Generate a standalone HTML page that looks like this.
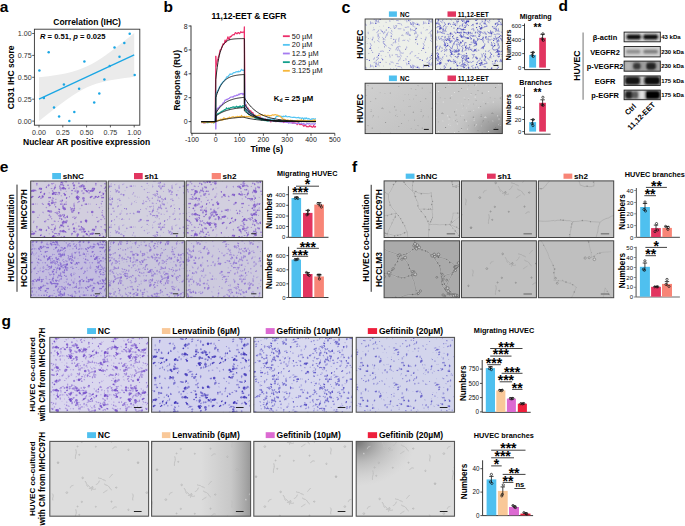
<!DOCTYPE html>
<html><head><meta charset="utf-8"><title>Figure</title>
<style>html,body{margin:0;padding:0;background:#fff;}svg{display:block;}text{font-family:"Liberation Sans",sans-serif;}</style>
</head><body>
<svg width="685" height="526" viewBox="0 0 685 526" font-family='"Liberation Sans", sans-serif'><defs><filter id="soft" x="0" y="0" width="1" height="1"><feGaussianBlur stdDeviation="0.45"/></filter><filter id="soft2" x="0" y="0" width="1" height="1"><feGaussianBlur stdDeviation="0.3"/></filter><g id="gD"><circle cx="0.1" cy="17.37" r="0.77" opacity=".5"/><circle cx="47.1" cy="17.37" r="0.77" opacity=".5"/><circle cx="1.44" cy="0.99" r="0.69" opacity=".9"/><circle cx="1.6" cy="1.76" r="0.42" opacity=".9"/><circle cx="36.51" cy="28.39" r="0.61" opacity=".7"/><circle cx="43.55" cy="16.23" r="0.86" opacity=".9"/><circle cx="42.73" cy="15.37" r="0.59" opacity=".9"/><circle cx="42.09" cy="37.96" r="0.68" opacity=".9"/><circle cx="42.64" cy="37.61" r="0.46" opacity=".9"/><circle cx="23.47" cy="36.7" r="0.63" opacity=".8"/><circle cx="23.44" cy="35.99" r="0.5" opacity=".8"/><circle cx="40.6" cy="8.8" r="0.49" opacity=".7"/><circle cx="40.98" cy="9.42" r="0.35" opacity=".7"/><circle cx="22.06" cy="12.03" r="0.83" opacity=".7"/><circle cx="21.59" cy="11.41" r="0.56" opacity=".7"/><circle cx="26.28" cy="7.5" r="0.55" opacity=".6"/><circle cx="21.58" cy="10.5" r="0.7" opacity=".9"/><circle cx="21.79" cy="9.51" r="0.6" opacity=".9"/><circle cx="38.03" cy="20.23" r="0.7" opacity=".6"/><circle cx="38.63" cy="19.59" r="0.46" opacity=".6"/><circle cx="22.79" cy="13.91" r="0.61" opacity=".6"/><circle cx="22.25" cy="13.46" r="0.37" opacity=".6"/><circle cx="32.9" cy="8.96" r="0.49" opacity=".7"/><circle cx="1.53" cy="36.8" r="0.48" opacity=".8"/><circle cx="1.54" cy="36.31" r="0.33" opacity=".8"/><circle cx="8.68" cy="11.32" r="0.53" opacity=".5"/><circle cx="30.47" cy="11.49" r="0.77" opacity=".6"/><circle cx="30.15" cy="12.25" r="0.64" opacity=".6"/><circle cx="28.11" cy="14.01" r="0.54" opacity=".7"/><circle cx="5.24" cy="33.86" r="0.88" opacity=".6"/><circle cx="4.09" cy="34.43" r="0.79" opacity=".6"/><circle cx="32.67" cy="17.58" r="0.69" opacity=".4"/><circle cx="32.97" cy="16.72" r="0.5" opacity=".4"/><circle cx="5.91" cy="8.27" r="0.47" opacity=".4"/><circle cx="6.33" cy="8.03" r="0.31" opacity=".4"/><circle cx="6.13" cy="21.87" r="0.83" opacity=".7"/><circle cx="6.92" cy="21.3" r="0.71" opacity=".7"/><circle cx="36.66" cy="24.3" r="0.47" opacity=".5"/><circle cx="36.03" cy="23.98" r="0.36" opacity=".5"/><circle cx="44.08" cy="15.21" r="0.68" opacity=".4"/><circle cx="43.52" cy="15.61" r="0.44" opacity=".4"/><circle cx="38.12" cy="21.97" r="0.51" opacity=".6"/><circle cx="38.59" cy="22.29" r="0.39" opacity=".6"/><circle cx="39.37" cy="20.84" r="0.8" opacity=".6"/><circle cx="40.07" cy="21.02" r="0.52" opacity=".6"/><circle cx="12.6" cy="12.96" r="0.68" opacity=".5"/><circle cx="13.1" cy="13.4" r="0.6" opacity=".5"/><circle cx="33.61" cy="19.06" r="0.71" opacity=".8"/><circle cx="32.96" cy="19.5" r="0.64" opacity=".8"/><circle cx="32.16" cy="15.76" r="0.8" opacity=".6"/><circle cx="32.28" cy="16.45" r="0.55" opacity=".6"/><circle cx="26.53" cy="36.08" r="0.66" opacity=".5"/><circle cx="0.58" cy="26.15" r="0.49" opacity=".4"/><circle cx="37.37" cy="3.46" r="0.52" opacity=".6"/><circle cx="37.79" cy="4.11" r="0.38" opacity=".6"/><circle cx="37.9" cy="21.17" r="0.82" opacity=".7"/><circle cx="35.08" cy="8.79" r="0.45" opacity=".9"/><circle cx="34.64" cy="8.49" r="0.32" opacity=".9"/><circle cx="36.28" cy="15.04" r="0.5" opacity=".5"/><circle cx="36.89" cy="14.96" r="0.4" opacity=".5"/><circle cx="12.18" cy="21.12" r="0.59" opacity=".5"/><circle cx="12" cy="22.04" r="0.43" opacity=".5"/><circle cx="30.24" cy="36.69" r="0.63" opacity=".5"/><circle cx="29.87" cy="37.53" r="0.54" opacity=".5"/><circle cx="28.82" cy="21.6" r="0.81" opacity=".4"/><circle cx="29.15" cy="20.75" r="0.55" opacity=".4"/><circle cx="34.27" cy="0.84" r="0.45" opacity=".8"/><circle cx="33.61" cy="0.97" r="0.29" opacity=".8"/><circle cx="15.42" cy="19.86" r="0.75" opacity=".4"/><circle cx="16.12" cy="20.73" r="0.52" opacity=".4"/><circle cx="39.23" cy="23.47" r="0.51" opacity=".5"/><circle cx="39.11" cy="22.76" r="0.43" opacity=".5"/><circle cx="31.59" cy="21.57" r="0.87" opacity=".9"/><circle cx="31.27" cy="22.59" r="0.54" opacity=".9"/><circle cx="11.62" cy="30.33" r="0.76" opacity=".6"/><circle cx="11.62" cy="31.2" r="0.58" opacity=".6"/><circle cx="26.02" cy="22.61" r="0.81" opacity=".9"/><circle cx="37.61" cy="19.03" r="0.51" opacity=".5"/><circle cx="31.64" cy="32.67" r="0.67" opacity=".4"/><circle cx="32.44" cy="32.03" r="0.59" opacity=".4"/><circle cx="10.61" cy="12.21" r="0.76" opacity=".9"/><circle cx="13.73" cy="33.94" r="0.57" opacity=".7"/><circle cx="14.35" cy="34.24" r="0.5" opacity=".7"/><circle cx="32.99" cy="17.06" r="0.83" opacity=".6"/><circle cx="27.95" cy="33.39" r="0.85" opacity=".9"/><circle cx="28.33" cy="34.16" r="0.57" opacity=".9"/><circle cx="35.61" cy="2.03" r="0.76" opacity=".7"/><circle cx="34.91" cy="1.97" r="0.62" opacity=".7"/><circle cx="8.82" cy="26.48" r="0.57" opacity=".9"/><circle cx="8.42" cy="33.96" r="0.77" opacity=".6"/><circle cx="17.97" cy="31.31" r="0.64" opacity=".4"/><circle cx="18.66" cy="32.01" r="0.57" opacity=".4"/><circle cx="40.71" cy="37.78" r="0.75" opacity=".5"/><circle cx="39.62" cy="37.35" r="0.57" opacity=".5"/><circle cx="1.45" cy="37.95" r="0.56" opacity=".5"/><circle cx="1.77" cy="38.38" r="0.39" opacity=".5"/><circle cx="39.12" cy="17.41" r="0.84" opacity=".8"/><circle cx="38.53" cy="18.15" r="0.53" opacity=".8"/><circle cx="33.18" cy="0.52" r="0.86" opacity=".4"/><circle cx="33.18" cy="39.52" r="0.86" opacity=".4"/><circle cx="34.06" cy="0.59" r="0.69" opacity=".4"/><circle cx="34.06" cy="39.59" r="0.69" opacity=".4"/><circle cx="30.52" cy="2.93" r="0.62" opacity=".8"/><circle cx="30.14" cy="2.15" r="0.43" opacity=".8"/><circle cx="35.23" cy="18.21" r="0.63" opacity=".8"/><circle cx="34.4" cy="18.25" r="0.45" opacity=".8"/><circle cx="13.42" cy="32.82" r="0.78" opacity=".8"/><circle cx="25.76" cy="27.19" r="0.87" opacity=".7"/><circle cx="21.12" cy="26.08" r="0.54" opacity=".6"/><circle cx="20.38" cy="25.68" r="0.38" opacity=".6"/><circle cx="45.8" cy="27.28" r="0.89" opacity=".4"/><circle cx="39.02" cy="17.87" r="0.77" opacity=".4"/><circle cx="28.14" cy="10.5" r="0.82" opacity=".7"/><circle cx="28.04" cy="11.62" r="0.7" opacity=".7"/><circle cx="7.15" cy="32.49" r="0.67" opacity=".6"/><circle cx="6.22" cy="32.43" r="0.49" opacity=".6"/><circle cx="36.48" cy="17.94" r="0.77" opacity=".4"/><circle cx="35.96" cy="17.34" r="0.53" opacity=".4"/><circle cx="11.15" cy="13.02" r="0.48" opacity=".7"/><circle cx="21.99" cy="21.75" r="0.47" opacity=".5"/><circle cx="26.14" cy="13.88" r="0.78" opacity=".6"/><circle cx="25.36" cy="13.96" r="0.61" opacity=".6"/><circle cx="12.16" cy="23.79" r="0.56" opacity=".7"/><circle cx="18.92" cy="36.19" r="0.87" opacity=".5"/><circle cx="20" cy="36.72" r="0.75" opacity=".5"/><circle cx="27.33" cy="36.38" r="0.52" opacity=".9"/><circle cx="27.71" cy="37.01" r="0.45" opacity=".9"/><circle cx="14.56" cy="15.63" r="0.5" opacity=".5"/><circle cx="15.01" cy="15.83" r="0.35" opacity=".5"/><circle cx="44.9" cy="1.75" r="0.81" opacity=".4"/><circle cx="23.24" cy="20.61" r="0.78" opacity=".8"/><circle cx="22.83" cy="19.94" r="0.61" opacity=".8"/><circle cx="31.18" cy="13.39" r="0.62" opacity=".4"/><circle cx="31.48" cy="12.74" r="0.48" opacity=".4"/><circle cx="38.99" cy="22.73" r="0.5" opacity=".5"/><circle cx="39.39" cy="22.77" r="0.37" opacity=".5"/><circle cx="39.85" cy="11.2" r="0.54" opacity=".4"/><circle cx="37.31" cy="1.19" r="0.62" opacity=".8"/><circle cx="36.73" cy="0.94" r="0.39" opacity=".8"/><circle cx="14.26" cy="0.56" r="0.69" opacity=".6"/><circle cx="14.26" cy="39.56" r="0.69" opacity=".6"/><circle cx="15.16" cy="0.16" r="0.5" opacity=".6"/><circle cx="15.16" cy="39.16" r="0.5" opacity=".6"/><circle cx="25.26" cy="24.48" r="0.76" opacity=".8"/><circle cx="24.5" cy="25.11" r="0.68" opacity=".8"/><circle cx="11.43" cy="2.35" r="0.87" opacity=".7"/><circle cx="10.57" cy="1.68" r="0.66" opacity=".7"/><circle cx="17.34" cy="15.72" r="0.77" opacity=".6"/><circle cx="22.95" cy="9.55" r="0.79" opacity=".5"/><circle cx="41.87" cy="2.21" r="0.47" opacity=".4"/><circle cx="17.4" cy="38.4" r="0.47" opacity=".6"/><circle cx="17.76" cy="-0.22" r="0.38" opacity=".6"/><circle cx="17.76" cy="38.78" r="0.38" opacity=".6"/><circle cx="1.16" cy="20.46" r="0.49" opacity=".8"/><circle cx="1.69" cy="20.57" r="0.4" opacity=".8"/><circle cx="35.58" cy="14.83" r="0.5" opacity=".7"/><circle cx="35.91" cy="14.32" r="0.33" opacity=".7"/><circle cx="23.94" cy="15.25" r="0.85" opacity=".6"/><circle cx="24.35" cy="14.3" r="0.65" opacity=".6"/><circle cx="27.32" cy="20.28" r="0.46" opacity=".9"/><circle cx="9.4" cy="15.18" r="0.6" opacity=".6"/><circle cx="9.97" cy="15.43" r="0.5" opacity=".6"/><circle cx="19.63" cy="12.43" r="0.57" opacity=".8"/><circle cx="20.14" cy="12.46" r="0.4" opacity=".8"/><circle cx="36.88" cy="22.35" r="0.65" opacity=".5"/><circle cx="36.28" cy="23.04" r="0.47" opacity=".5"/><circle cx="3.67" cy="22.58" r="0.48" opacity=".4"/><circle cx="3.96" cy="22.2" r="0.32" opacity=".4"/><circle cx="15.92" cy="-0.37" r="0.81" opacity=".6"/><circle cx="15.92" cy="38.63" r="0.81" opacity=".6"/><circle cx="15.21" cy="38.13" r="0.61" opacity=".6"/><circle cx="20.81" cy="11.59" r="0.86" opacity=".5"/><circle cx="20.71" cy="10.88" r="0.54" opacity=".5"/><circle cx="12.49" cy="4.17" r="0.57" opacity=".7"/><circle cx="12.92" cy="4.4" r="0.49" opacity=".7"/><circle cx="8.15" cy="33.61" r="0.46" opacity=".6"/><circle cx="13.34" cy="34.76" r="0.72" opacity=".8"/><circle cx="31.75" cy="21.23" r="0.88" opacity=".8"/><circle cx="-0.09" cy="10.01" r="0.54" opacity=".8"/><circle cx="46.91" cy="10.01" r="0.54" opacity=".8"/><circle cx="22.89" cy="15.75" r="0.85" opacity=".8"/><circle cx="24.11" cy="16.06" r="0.62" opacity=".8"/><circle cx="20.9" cy="10.77" r="0.69" opacity=".8"/><circle cx="21.63" cy="10.74" r="0.58" opacity=".8"/><circle cx="-0.29" cy="11.02" r="0.64" opacity=".9"/><circle cx="46.71" cy="11.02" r="0.64" opacity=".9"/><circle cx="28.33" cy="22.66" r="0.65" opacity=".4"/><circle cx="28.92" cy="23.38" r="0.58" opacity=".4"/><circle cx="14.47" cy="32.77" r="0.7" opacity=".6"/><circle cx="15.46" cy="32.35" r="0.56" opacity=".6"/><circle cx="43.48" cy="33.01" r="0.62" opacity=".6"/><circle cx="44.41" cy="10.03" r="0.62" opacity=".8"/><circle cx="44.76" cy="10.48" r="0.56" opacity=".8"/><circle cx="17.28" cy="4.96" r="0.8" opacity=".9"/><circle cx="18.05" cy="4.65" r="0.58" opacity=".9"/><circle cx="24.26" cy="11.85" r="0.77" opacity=".6"/><circle cx="4.29" cy="5.05" r="0.88" opacity=".5"/><circle cx="4.27" cy="6.1" r="0.78" opacity=".5"/><circle cx="39.43" cy="17.24" r="0.64" opacity=".9"/><circle cx="39.57" cy="17.95" r="0.39" opacity=".9"/><circle cx="43.52" cy="28.65" r="0.76" opacity=".8"/><circle cx="32.17" cy="6.98" r="0.81" opacity=".7"/><circle cx="32.41" cy="8.02" r="0.7" opacity=".7"/><circle cx="28.99" cy="36.49" r="0.86" opacity=".4"/><circle cx="24.74" cy="25.66" r="0.53" opacity=".5"/><circle cx="25.23" cy="33.89" r="0.74" opacity=".8"/><circle cx="29.31" cy="33.58" r="0.5" opacity=".8"/><circle cx="38.6" cy="23.08" r="0.65" opacity=".8"/><circle cx="22.81" cy="21.26" r="0.52" opacity=".5"/><circle cx="22.27" cy="20.69" r="0.32" opacity=".5"/><circle cx="23.94" cy="36.89" r="0.57" opacity=".6"/><circle cx="23.26" cy="36.93" r="0.45" opacity=".6"/><circle cx="33.41" cy="8" r="0.85" opacity=".7"/><circle cx="34.25" cy="8.32" r="0.68" opacity=".7"/><circle cx="38.16" cy="34.77" r="0.59" opacity=".6"/><circle cx="38.54" cy="35.16" r="0.4" opacity=".6"/><circle cx="5.17" cy="-0.3" r="0.53" opacity=".4"/><circle cx="5.17" cy="38.7" r="0.53" opacity=".4"/><circle cx="4.47" cy="-0.32" r="0.37" opacity=".4"/><circle cx="4.47" cy="38.68" r="0.37" opacity=".4"/><circle cx="10.36" cy="24.68" r="0.55" opacity=".8"/><circle cx="9.79" cy="24.1" r="0.37" opacity=".8"/><circle cx="17.83" cy="4.74" r="0.61" opacity=".4"/><circle cx="6.35" cy="1.62" r="0.78" opacity=".4"/><circle cx="6.27" cy="2.26" r="0.47" opacity=".4"/><circle cx="25.09" cy="36.51" r="0.76" opacity=".4"/><circle cx="26.24" cy="36.56" r="0.68" opacity=".4"/><circle cx="38.86" cy="14.32" r="0.87" opacity=".5"/><circle cx="37.8" cy="13.76" r="0.64" opacity=".5"/><circle cx="43.89" cy="11.74" r="0.55" opacity=".5"/><circle cx="43.5" cy="11.46" r="0.37" opacity=".5"/><circle cx="12.9" cy="0.78" r="0.69" opacity=".9"/><circle cx="13.57" cy="1.45" r="0.57" opacity=".9"/><circle cx="0.26" cy="5.93" r="0.81" opacity=".6"/><circle cx="47.26" cy="5.93" r="0.81" opacity=".6"/><circle cx="-0.43" cy="5.29" r="0.52" opacity=".6"/><circle cx="46.57" cy="5.29" r="0.52" opacity=".6"/><circle cx="10.87" cy="9.1" r="0.55" opacity=".8"/><circle cx="28.51" cy="25.73" r="0.62" opacity=".6"/><circle cx="28" cy="25.36" r="0.5" opacity=".6"/><circle cx="28.37" cy="0.32" r="0.88" opacity=".9"/><circle cx="28.37" cy="39.32" r="0.88" opacity=".9"/><circle cx="27.58" cy="1.07" r="0.76" opacity=".9"/><circle cx="36.62" cy="23.34" r="0.64" opacity=".9"/><circle cx="36.2" cy="23.01" r="0.47" opacity=".9"/><circle cx="36.31" cy="8.23" r="0.82" opacity=".7"/><circle cx="36.4" cy="7.21" r="0.69" opacity=".7"/><circle cx="45.52" cy="13.9" r="0.66" opacity=".7"/><circle cx="4.96" cy="37.13" r="0.84" opacity=".4"/><circle cx="4.69" cy="36.21" r="0.69" opacity=".4"/><circle cx="0.88" cy="16.65" r="0.48" opacity=".6"/><circle cx="0.69" cy="17.31" r="0.35" opacity=".6"/><circle cx="29.84" cy="20.24" r="0.48" opacity=".7"/><circle cx="31.83" cy="9.34" r="0.79" opacity=".4"/><circle cx="31.07" cy="9.43" r="0.62" opacity=".4"/><circle cx="18.67" cy="8.88" r="0.56" opacity=".9"/><circle cx="18.69" cy="9.64" r="0.46" opacity=".9"/><circle cx="40.44" cy="8.95" r="0.54" opacity=".6"/><circle cx="39.7" cy="8.59" r="0.46" opacity=".6"/><circle cx="22.93" cy="35.34" r="0.74" opacity=".9"/><circle cx="22.29" cy="35.96" r="0.63" opacity=".9"/><circle cx="7.25" cy="20.46" r="0.5" opacity=".5"/><circle cx="7.5" cy="19.83" r="0.42" opacity=".5"/><circle cx="38.88" cy="17.21" r="0.81" opacity=".9"/><circle cx="16.1" cy="9.33" r="0.8" opacity=".9"/><circle cx="7.88" cy="1.58" r="0.56" opacity=".4"/><circle cx="8.12" cy="2.2" r="0.44" opacity=".4"/><circle cx="3.63" cy="15.53" r="0.66" opacity=".7"/><circle cx="4.12" cy="15.84" r="0.56" opacity=".7"/><circle cx="4.46" cy="1.89" r="0.88" opacity=".5"/><circle cx="3.5" cy="2.45" r="0.79" opacity=".5"/><circle cx="14.96" cy="20.85" r="0.65" opacity=".6"/><circle cx="15.32" cy="21.49" r="0.47" opacity=".6"/><circle cx="21.46" cy="19.74" r="0.71" opacity=".8"/><circle cx="34.36" cy="13.11" r="0.51" opacity=".5"/><circle cx="34.25" cy="13.7" r="0.33" opacity=".5"/><circle cx="23.57" cy="19.42" r="0.71" opacity=".7"/><circle cx="23.42" cy="18.73" r="0.46" opacity=".7"/><circle cx="33.44" cy="3.22" r="0.87" opacity=".4"/><circle cx="34.4" cy="3.41" r="0.63" opacity=".4"/><circle cx="8.69" cy="5.62" r="0.48" opacity=".5"/><circle cx="8.55" cy="6.24" r="0.43" opacity=".5"/><circle cx="37.12" cy="17.71" r="0.61" opacity=".6"/><circle cx="37.4" cy="17.19" r="0.45" opacity=".6"/><circle cx="45.64" cy="36.31" r="0.79" opacity=".5"/><circle cx="46.03" cy="35.58" r="0.67" opacity=".5"/><circle cx="29.57" cy="4.03" r="0.83" opacity=".7"/><circle cx="29.84" cy="5" r="0.53" opacity=".7"/><circle cx="33.27" cy="31.95" r="0.62" opacity=".9"/><circle cx="33.14" cy="31.34" r="0.37" opacity=".9"/><circle cx="42.3" cy="9.39" r="0.75" opacity=".6"/><circle cx="42.98" cy="9.55" r="0.6" opacity=".6"/><circle cx="10.96" cy="16.01" r="0.57" opacity=".7"/><circle cx="10.19" cy="16.04" r="0.49" opacity=".7"/><circle cx="4.86" cy="33.48" r="0.55" opacity=".8"/><circle cx="5.61" cy="33.1" r="0.34" opacity=".8"/><circle cx="2" cy="16.48" r="0.65" opacity=".9"/><circle cx="2.29" cy="17.21" r="0.49" opacity=".9"/><circle cx="19.68" cy="11.95" r="0.79" opacity=".9"/><circle cx="20.3" cy="12.16" r="0.62" opacity=".9"/><circle cx="40.13" cy="36.6" r="0.66" opacity=".7"/><circle cx="40.68" cy="35.98" r="0.41" opacity=".7"/><circle cx="8.35" cy="34.07" r="0.63" opacity=".8"/><circle cx="9.07" cy="33.76" r="0.55" opacity=".8"/><circle cx="20.06" cy="22.96" r="0.59" opacity=".4"/><circle cx="20.42" cy="22.47" r="0.51" opacity=".4"/></g><g id="gM"><circle cx="20.86" cy="29.64" r="0.95" opacity=".9"/><circle cx="19.95" cy="29.97" r="0.58" opacity=".9"/><circle cx="45.43" cy="8.1" r="0.66" opacity=".8"/><circle cx="45.71" cy="8.69" r="0.43" opacity=".8"/><circle cx="13.94" cy="23.71" r="0.79" opacity=".5"/><circle cx="38.92" cy="37.17" r="0.83" opacity=".8"/><circle cx="40.22" cy="37.01" r="0.54" opacity=".8"/><circle cx="37.9" cy="18.92" r="0.72" opacity=".6"/><circle cx="44.07" cy="14.51" r="0.89" opacity=".8"/><circle cx="42.82" cy="13.95" r="0.73" opacity=".8"/><circle cx="11.76" cy="13.31" r="0.8" opacity=".4"/><circle cx="30.9" cy="24.32" r="0.8" opacity=".6"/><circle cx="30.31" cy="23.49" r="0.56" opacity=".6"/><circle cx="27.04" cy="30.52" r="0.89" opacity=".8"/><circle cx="28.33" cy="30.59" r="0.8" opacity=".8"/><circle cx="29.83" cy="21.61" r="0.56" opacity=".8"/><circle cx="29" cy="21.49" r="0.38" opacity=".8"/><circle cx="43.64" cy="1.56" r="0.47" opacity=".5"/><circle cx="43.45" cy="1.2" r="0.41" opacity=".5"/><circle cx="35.02" cy="4.13" r="0.51" opacity=".9"/><circle cx="0.1" cy="24.17" r="0.85" opacity=".5"/><circle cx="53.1" cy="24.17" r="0.85" opacity=".5"/><circle cx="26.35" cy="18.91" r="0.59" opacity=".6"/><circle cx="25.63" cy="18.67" r="0.36" opacity=".6"/><circle cx="40.57" cy="6.69" r="0.69" opacity=".5"/><circle cx="40.33" cy="7.24" r="0.5" opacity=".5"/><circle cx="6.76" cy="23.98" r="0.65" opacity=".6"/><circle cx="7.39" cy="23.82" r="0.51" opacity=".6"/><circle cx="0.96" cy="22.88" r="0.52" opacity=".4"/><circle cx="1.2" cy="23.26" r="0.41" opacity=".4"/><circle cx="-0.88" cy="38.3" r="0.95" opacity=".5"/><circle cx="52.12" cy="38.3" r="0.95" opacity=".5"/><circle cx="52.12" cy="39.51" r="0.75" opacity=".5"/><circle cx="37.6" cy="10.52" r="0.66" opacity=".6"/><circle cx="38.33" cy="10.69" r="0.42" opacity=".6"/><circle cx="12.77" cy="4.09" r="0.54" opacity=".5"/><circle cx="12.14" cy="4.01" r="0.37" opacity=".5"/><circle cx="11.26" cy="37.17" r="0.93" opacity=".8"/><circle cx="10.08" cy="37.08" r="0.57" opacity=".8"/><circle cx="27.83" cy="7.43" r="0.5" opacity=".8"/><circle cx="27.07" cy="7.34" r="0.39" opacity=".8"/><circle cx="40.64" cy="39.68" r="0.66" opacity=".4"/><circle cx="40.79" cy="38.74" r="0.55" opacity=".4"/><circle cx="27.4" cy="6.8" r="0.74" opacity=".4"/><circle cx="26.6" cy="7.62" r="0.46" opacity=".4"/><circle cx="10.2" cy="23.43" r="0.65" opacity=".6"/><circle cx="50.6" cy="0.42" r="0.76" opacity=".5"/><circle cx="50.6" cy="41.42" r="0.76" opacity=".5"/><circle cx="50.76" cy="1.07" r="0.6" opacity=".5"/><circle cx="2.29" cy="28.94" r="0.6" opacity=".9"/><circle cx="1.79" cy="29.44" r="0.51" opacity=".9"/><circle cx="38.58" cy="17.18" r="0.7" opacity=".7"/><circle cx="39.07" cy="17.92" r="0.53" opacity=".7"/><circle cx="37.06" cy="3.46" r="0.81" opacity=".7"/><circle cx="37.51" cy="4.36" r="0.69" opacity=".7"/><circle cx="42.32" cy="37.37" r="0.79" opacity=".8"/><circle cx="43.19" cy="37.22" r="0.64" opacity=".8"/><circle cx="17.46" cy="7.07" r="0.59" opacity=".4"/><circle cx="22.46" cy="13.48" r="0.57" opacity=".6"/><circle cx="22.95" cy="14.23" r="0.38" opacity=".6"/><circle cx="19" cy="31.34" r="0.81" opacity=".6"/><circle cx="20.31" cy="30.21" r="0.65" opacity=".4"/><circle cx="20.29" cy="31.1" r="0.47" opacity=".4"/><circle cx="19.09" cy="22.45" r="0.81" opacity=".9"/><circle cx="19.56" cy="21.44" r="0.61" opacity=".9"/><circle cx="23.17" cy="13.43" r="0.91" opacity=".5"/><circle cx="24.06" cy="12.84" r="0.59" opacity=".5"/><circle cx="43.07" cy="9.81" r="0.75" opacity=".8"/><circle cx="32.47" cy="21.56" r="0.82" opacity=".7"/><circle cx="32.72" cy="20.86" r="0.64" opacity=".7"/><circle cx="13.45" cy="23.21" r="0.68" opacity=".5"/><circle cx="2.79" cy="35.41" r="0.78" opacity=".4"/><circle cx="3.86" cy="34.87" r="0.58" opacity=".4"/><circle cx="24.4" cy="-0.53" r="0.76" opacity=".5"/><circle cx="24.4" cy="40.47" r="0.76" opacity=".5"/><circle cx="-0.12" cy="10.47" r="0.76" opacity=".8"/><circle cx="52.88" cy="10.47" r="0.76" opacity=".8"/><circle cx="31.38" cy="16.42" r="0.6" opacity=".4"/><circle cx="32.02" cy="16.28" r="0.45" opacity=".4"/><circle cx="37.62" cy="19.84" r="0.7" opacity=".4"/><circle cx="37.44" cy="19.13" r="0.47" opacity=".4"/><circle cx="38.88" cy="23.09" r="0.78" opacity=".6"/><circle cx="32.45" cy="13.02" r="0.87" opacity=".4"/><circle cx="33.07" cy="13.41" r="0.77" opacity=".4"/><circle cx="27.7" cy="2.51" r="0.51" opacity=".7"/><circle cx="11.33" cy="14.6" r="0.62" opacity=".5"/><circle cx="11.82" cy="14.07" r="0.4" opacity=".5"/><circle cx="-0.49" cy="8.85" r="0.59" opacity=".4"/><circle cx="52.51" cy="8.85" r="0.59" opacity=".4"/><circle cx="39.87" cy="34.69" r="0.54" opacity=".4"/><circle cx="39.79" cy="35.36" r="0.39" opacity=".4"/><circle cx="39.72" cy="11.51" r="0.81" opacity=".7"/><circle cx="39.62" cy="10.66" r="0.58" opacity=".7"/><circle cx="37.34" cy="25.92" r="0.93" opacity=".7"/><circle cx="36.82" cy="25.31" r="0.65" opacity=".7"/><circle cx="13.67" cy="36.95" r="0.67" opacity=".4"/><circle cx="36.33" cy="13.49" r="0.63" opacity=".5"/><circle cx="40.36" cy="17.89" r="0.72" opacity=".5"/><circle cx="33.74" cy="32.26" r="0.63" opacity=".5"/><circle cx="34.62" cy="32.1" r="0.44" opacity=".5"/><circle cx="44.28" cy="34.76" r="0.57" opacity=".5"/><circle cx="43.95" cy="35.29" r="0.48" opacity=".5"/><circle cx="3.79" cy="5.1" r="0.67" opacity=".5"/><circle cx="3.26" cy="4.82" r="0.53" opacity=".5"/><circle cx="50.74" cy="9.34" r="0.48" opacity=".8"/><circle cx="51.15" cy="8.91" r="0.38" opacity=".8"/><circle cx="18.06" cy="21.4" r="0.94" opacity=".8"/><circle cx="17.08" cy="22.01" r="0.58" opacity=".8"/><circle cx="40.27" cy="33.37" r="0.79" opacity=".9"/><circle cx="39.88" cy="34.43" r="0.48" opacity=".9"/><circle cx="44.49" cy="31.28" r="0.66" opacity=".9"/><circle cx="44.82" cy="30.57" r="0.57" opacity=".9"/><circle cx="3.42" cy="5.72" r="0.47" opacity=".7"/><circle cx="3.97" cy="5.89" r="0.28" opacity=".7"/><circle cx="17.89" cy="21.67" r="0.57" opacity=".6"/><circle cx="17.34" cy="21.53" r="0.42" opacity=".6"/><circle cx="32.65" cy="25.68" r="0.62" opacity=".7"/><circle cx="33.34" cy="25.38" r="0.52" opacity=".7"/><circle cx="27.08" cy="34.17" r="0.53" opacity=".9"/><circle cx="27.25" cy="34.7" r="0.34" opacity=".9"/><circle cx="46.98" cy="21.45" r="0.73" opacity=".6"/><circle cx="47.09" cy="20.29" r="0.49" opacity=".6"/><circle cx="37.05" cy="26.99" r="0.47" opacity=".7"/><circle cx="37.25" cy="27.54" r="0.37" opacity=".7"/><circle cx="39.34" cy="28.81" r="0.69" opacity=".4"/><circle cx="44.28" cy="24.52" r="0.47" opacity=".5"/><circle cx="43.9" cy="24.09" r="0.31" opacity=".5"/><circle cx="51.83" cy="36.87" r="0.68" opacity=".5"/><circle cx="52.25" cy="36.04" r="0.47" opacity=".5"/><circle cx="30.15" cy="16.92" r="0.66" opacity=".7"/><circle cx="29.83" cy="16.42" r="0.53" opacity=".7"/><circle cx="51.67" cy="2.25" r="0.72" opacity=".6"/><circle cx="52.28" cy="1.93" r="0.6" opacity=".6"/><circle cx="41.67" cy="18.35" r="0.68" opacity=".5"/><circle cx="41.65" cy="19" r="0.5" opacity=".5"/><circle cx="38.16" cy="8.96" r="0.49" opacity=".6"/><circle cx="37.49" cy="9.08" r="0.39" opacity=".6"/><circle cx="6.79" cy="38.3" r="0.88" opacity=".6"/><circle cx="52.06" cy="1.96" r="0.61" opacity=".5"/><circle cx="40.57" cy="15.1" r="0.81" opacity=".5"/><circle cx="40.74" cy="15.83" r="0.67" opacity=".5"/><circle cx="33.56" cy="18.34" r="0.59" opacity=".4"/><circle cx="33.7" cy="17.77" r="0.45" opacity=".4"/><circle cx="45.38" cy="9.31" r="0.76" opacity=".9"/><circle cx="44.75" cy="8.75" r="0.55" opacity=".9"/><circle cx="29.74" cy="10.72" r="0.57" opacity=".9"/><circle cx="6.33" cy="18.69" r="0.65" opacity=".9"/><circle cx="6.36" cy="19.23" r="0.49" opacity=".9"/><circle cx="31.95" cy="22.28" r="0.45" opacity=".6"/><circle cx="32.01" cy="22.74" r="0.32" opacity=".6"/><circle cx="28.67" cy="8.83" r="0.82" opacity=".5"/><circle cx="27.94" cy="8.93" r="0.53" opacity=".5"/><circle cx="34.78" cy="25.72" r="0.6" opacity=".8"/><circle cx="34.01" cy="25.52" r="0.38" opacity=".8"/><circle cx="1.8" cy="20.97" r="0.58" opacity=".4"/><circle cx="1.86" cy="20.19" r="0.37" opacity=".4"/><circle cx="33.13" cy="20.24" r="0.92" opacity=".7"/><circle cx="26.99" cy="39.66" r="0.46" opacity=".5"/><circle cx="36.91" cy="5.53" r="0.48" opacity=".7"/><circle cx="36.24" cy="5.5" r="0.35" opacity=".7"/><circle cx="3.79" cy="4.77" r="0.75" opacity=".9"/><circle cx="15.62" cy="37.08" r="0.47" opacity=".5"/><circle cx="21.35" cy="37.28" r="0.51" opacity=".7"/><circle cx="21.4" cy="37.75" r="0.3" opacity=".7"/><circle cx="26.51" cy="11.52" r="0.78" opacity=".4"/><circle cx="25.65" cy="11.37" r="0.68" opacity=".4"/><circle cx="41.09" cy="18.56" r="0.48" opacity=".9"/><circle cx="41.4" cy="17.89" r="0.37" opacity=".9"/><circle cx="46.03" cy="18.28" r="0.7" opacity=".9"/><circle cx="40.45" cy="16.95" r="0.77" opacity=".7"/><circle cx="39.61" cy="17.27" r="0.56" opacity=".7"/><circle cx="51.72" cy="9.12" r="0.47" opacity=".6"/><circle cx="49.36" cy="0.99" r="0.91" opacity=".6"/><circle cx="49.22" cy="2.04" r="0.67" opacity=".6"/><circle cx="32.79" cy="37.2" r="0.57" opacity=".8"/><circle cx="32.58" cy="38.07" r="0.41" opacity=".8"/><circle cx="37.44" cy="1.53" r="0.78" opacity=".9"/><circle cx="36.62" cy="0.95" r="0.57" opacity=".9"/><circle cx="51.28" cy="16.01" r="0.76" opacity=".8"/><circle cx="50.57" cy="16.84" r="0.53" opacity=".8"/><circle cx="33.26" cy="4.62" r="0.68" opacity=".7"/><circle cx="49.81" cy="26.75" r="0.65" opacity=".7"/><circle cx="35.53" cy="27.36" r="0.65" opacity=".4"/><circle cx="36.29" cy="28.03" r="0.46" opacity=".4"/><circle cx="38.86" cy="7.32" r="0.87" opacity=".5"/><circle cx="38.07" cy="6.75" r="0.76" opacity=".5"/><circle cx="5.01" cy="0.76" r="0.47" opacity=".6"/><circle cx="38.26" cy="34.22" r="0.76" opacity=".4"/><circle cx="38.86" cy="33.82" r="0.62" opacity=".4"/><circle cx="41.19" cy="39.07" r="0.73" opacity=".7"/><circle cx="41.03" cy="39.94" r="0.57" opacity=".7"/><circle cx="47.42" cy="29.8" r="0.57" opacity=".8"/><circle cx="27.18" cy="25.87" r="0.58" opacity=".5"/><circle cx="35.03" cy="5.41" r="0.79" opacity=".7"/><circle cx="35.42" cy="6.26" r="0.47" opacity=".7"/><circle cx="48.64" cy="-0.28" r="0.56" opacity=".7"/><circle cx="48.64" cy="40.72" r="0.56" opacity=".7"/><circle cx="48.14" cy="40.13" r="0.38" opacity=".7"/><circle cx="1.15" cy="14.74" r="0.51" opacity=".4"/><circle cx="0.83" cy="15.04" r="0.38" opacity=".4"/><circle cx="41.55" cy="8.81" r="0.58" opacity=".8"/><circle cx="42.3" cy="8.35" r="0.47" opacity=".8"/><circle cx="44.54" cy="37" r="0.49" opacity=".9"/><circle cx="44.27" cy="37.7" r="0.42" opacity=".9"/></g><g id="gS"><circle cx="19.53" cy="22.37" r="0.52" opacity=".7"/><circle cx="30.39" cy="23.5" r="0.48" opacity=".8"/><circle cx="30.27" cy="23.87" r="0.41" opacity=".8"/><circle cx="29.47" cy="30.76" r="0.77" opacity=".9"/><circle cx="29.75" cy="29.91" r="0.68" opacity=".9"/><circle cx="4" cy="4.76" r="0.55" opacity=".9"/><circle cx="3.6" cy="4.35" r="0.41" opacity=".9"/><circle cx="14.39" cy="20.48" r="0.71" opacity=".8"/><circle cx="15.34" cy="20.02" r="0.64" opacity=".8"/><circle cx="6.69" cy="30.12" r="0.88" opacity=".8"/><circle cx="6.49" cy="29.29" r="0.75" opacity=".8"/><circle cx="11.68" cy="2.22" r="0.83" opacity=".9"/><circle cx="11.98" cy="1.33" r="0.54" opacity=".9"/><circle cx="1.59" cy="28.23" r="0.73" opacity=".4"/><circle cx="36.12" cy="34.32" r="0.68" opacity=".9"/><circle cx="36.88" cy="-0.27" r="0.41" opacity=".9"/><circle cx="36.88" cy="34.73" r="0.41" opacity=".9"/><circle cx="-0.47" cy="33.09" r="0.76" opacity=".9"/><circle cx="40.53" cy="33.09" r="0.76" opacity=".9"/><circle cx="40.09" cy="33.62" r="0.65" opacity=".9"/><circle cx="35.67" cy="13.52" r="0.84" opacity=".7"/><circle cx="36.87" cy="13.31" r="0.57" opacity=".7"/><circle cx="29.34" cy="32.78" r="0.65" opacity=".5"/><circle cx="28.85" cy="33.56" r="0.58" opacity=".5"/><circle cx="15.44" cy="20.62" r="0.51" opacity=".7"/><circle cx="14.97" cy="21.25" r="0.4" opacity=".7"/><circle cx="2.29" cy="29.56" r="0.75" opacity=".9"/><circle cx="1.37" cy="29.82" r="0.52" opacity=".9"/><circle cx="12.82" cy="12.92" r="0.72" opacity=".5"/><circle cx="12.9" cy="12.34" r="0.55" opacity=".5"/><circle cx="12.71" cy="7.79" r="0.81" opacity=".5"/><circle cx="11.7" cy="8.23" r="0.51" opacity=".5"/><circle cx="13.68" cy="29.17" r="0.65" opacity=".8"/><circle cx="13.24" cy="29.9" r="0.56" opacity=".8"/><circle cx="9.23" cy="4.23" r="0.69" opacity=".5"/><circle cx="7.53" cy="9.75" r="0.81" opacity=".7"/><circle cx="5.32" cy="10.22" r="0.81" opacity=".5"/><circle cx="4.52" cy="10.68" r="0.58" opacity=".5"/><circle cx="6.4" cy="0.16" r="0.87" opacity=".8"/><circle cx="6.4" cy="35.16" r="0.87" opacity=".8"/><circle cx="38.96" cy="32.46" r="0.55" opacity=".8"/><circle cx="21.28" cy="10.12" r="0.6" opacity=".5"/><circle cx="20.75" cy="9.79" r="0.51" opacity=".5"/><circle cx="37.51" cy="16.2" r="0.85" opacity=".6"/><circle cx="36.75" cy="16.29" r="0.64" opacity=".6"/><circle cx="4.65" cy="18.24" r="0.87" opacity=".7"/><circle cx="4.63" cy="19.54" r="0.65" opacity=".7"/><circle cx="14.43" cy="6.91" r="0.69" opacity=".8"/><circle cx="14.7" cy="5.88" r="0.58" opacity=".8"/><circle cx="0.31" cy="22" r="0.84" opacity=".4"/><circle cx="41.31" cy="22" r="0.84" opacity=".4"/><circle cx="0.19" cy="23.02" r="0.61" opacity=".4"/><circle cx="41.19" cy="23.02" r="0.61" opacity=".4"/><circle cx="31.84" cy="0.06" r="0.47" opacity=".4"/><circle cx="31.84" cy="35.06" r="0.47" opacity=".4"/><circle cx="32.52" cy="0.38" r="0.41" opacity=".4"/><circle cx="32.52" cy="35.38" r="0.41" opacity=".4"/><circle cx="7.72" cy="8.39" r="0.48" opacity=".6"/><circle cx="7.55" cy="8.85" r="0.43" opacity=".6"/><circle cx="5.23" cy="0.12" r="0.78" opacity=".8"/><circle cx="5.23" cy="35.12" r="0.78" opacity=".8"/><circle cx="6.11" cy="0.36" r="0.62" opacity=".8"/><circle cx="6.11" cy="35.36" r="0.62" opacity=".8"/><circle cx="26.1" cy="1.52" r="0.85" opacity=".4"/><circle cx="26.16" cy="0.63" r="0.75" opacity=".4"/><circle cx="26.16" cy="35.63" r="0.75" opacity=".4"/><circle cx="0.73" cy="7.65" r="0.57" opacity=".7"/><circle cx="23.71" cy="13.08" r="0.62" opacity=".8"/><circle cx="37.22" cy="18.3" r="0.78" opacity=".8"/><circle cx="36.73" cy="18.78" r="0.54" opacity=".8"/><circle cx="33.28" cy="25.08" r="0.66" opacity=".5"/><circle cx="32.46" cy="24.94" r="0.53" opacity=".5"/><circle cx="33.6" cy="11.95" r="0.83" opacity=".4"/><circle cx="32.47" cy="12.08" r="0.57" opacity=".4"/><circle cx="18.08" cy="20.98" r="0.68" opacity=".7"/><circle cx="18.07" cy="19.92" r="0.42" opacity=".7"/><circle cx="23.12" cy="28.98" r="0.56" opacity=".4"/><circle cx="22.54" cy="28.46" r="0.4" opacity=".4"/><circle cx="16.26" cy="12.26" r="0.64" opacity=".4"/><circle cx="16.97" cy="12.14" r="0.53" opacity=".4"/><circle cx="34.84" cy="13.72" r="0.87" opacity=".7"/><circle cx="33.77" cy="14.48" r="0.56" opacity=".7"/><circle cx="19.82" cy="24.45" r="0.88" opacity=".7"/><circle cx="18.81" cy="25.93" r="0.87" opacity=".8"/><circle cx="19.03" cy="24.79" r="0.75" opacity=".8"/><circle cx="23.97" cy="-0.57" r="0.85" opacity=".5"/><circle cx="23.97" cy="34.43" r="0.85" opacity=".5"/><circle cx="24.24" cy="33.66" r="0.66" opacity=".5"/><circle cx="0.96" cy="26.56" r="0.9" opacity=".6"/><circle cx="-0.33" cy="26.82" r="0.76" opacity=".6"/><circle cx="40.67" cy="26.82" r="0.76" opacity=".6"/><circle cx="19.73" cy="25.22" r="0.84" opacity=".6"/></g><g id="gB"><circle cx="13.05" cy="16.37" r="0.62" opacity=".8"/><circle cx="12.97" cy="16.94" r="0.43" opacity=".8"/><circle cx="56.69" cy="36.49" r="0.88" opacity=".9"/><circle cx="56.02" cy="37.06" r="0.59" opacity=".9"/><circle cx="45.47" cy="9.04" r="0.82" opacity=".8"/><circle cx="45.54" cy="8.26" r="0.6" opacity=".8"/><circle cx="56.42" cy="38.04" r="1.21" opacity=".5"/><circle cx="55.55" cy="37.16" r="0.92" opacity=".5"/><circle cx="8.51" cy="23.18" r="0.65" opacity=".9"/><circle cx="7.94" cy="23.41" r="0.47" opacity=".9"/><circle cx="37.43" cy="8.54" r="0.84" opacity=".9"/><circle cx="37.25" cy="9.6" r="0.72" opacity=".9"/><circle cx="23.08" cy="7.77" r="0.87" opacity=".5"/><circle cx="32.59" cy="11.66" r="0.82" opacity=".9"/><circle cx="31.52" cy="12.34" r="0.64" opacity=".9"/><circle cx="17.31" cy="8.23" r="0.93" opacity=".5"/><circle cx="18.28" cy="7.99" r="0.56" opacity=".5"/><circle cx="17.39" cy="13.43" r="1.35" opacity=".7"/><circle cx="17.94" cy="15.42" r="0.85" opacity=".7"/><circle cx="35.34" cy="18.45" r="0.71" opacity=".5"/><circle cx="35.35" cy="19.59" r="0.45" opacity=".5"/><circle cx="45.65" cy="17.6" r="1.34" opacity=".7"/><circle cx="44.71" cy="18.19" r="0.97" opacity=".7"/><circle cx="57.02" cy="29.29" r="0.62" opacity=".6"/><circle cx="57.18" cy="29.88" r="0.54" opacity=".6"/><circle cx="17.29" cy="1.69" r="0.69" opacity=".7"/><circle cx="51.38" cy="30.85" r="0.63" opacity=".6"/><circle cx="52.1" cy="30.51" r="0.56" opacity=".6"/><circle cx="-1.02" cy="9.79" r="1.08" opacity=".9"/><circle cx="57.98" cy="9.79" r="1.08" opacity=".9"/><circle cx="57.15" cy="8.59" r="0.74" opacity=".9"/><circle cx="56.42" cy="3.2" r="1.33" opacity=".9"/><circle cx="-0.64" cy="3.76" r="0.85" opacity=".9"/><circle cx="58.36" cy="3.76" r="0.85" opacity=".9"/><circle cx="39.36" cy="2.6" r="0.73" opacity=".8"/><circle cx="39.34" cy="1.48" r="0.48" opacity=".8"/><circle cx="33.56" cy="7.51" r="0.69" opacity=".9"/><circle cx="34.17" cy="6.91" r="0.59" opacity=".9"/><circle cx="24.48" cy="6.09" r="1.02" opacity=".8"/><circle cx="20.49" cy="5.87" r="0.97" opacity=".9"/><circle cx="21.17" cy="6.67" r="0.8" opacity=".9"/><circle cx="0.62" cy="36.02" r="1.22" opacity=".5"/><circle cx="59.62" cy="36.02" r="1.22" opacity=".5"/><circle cx="-0.66" cy="37.21" r="0.85" opacity=".5"/><circle cx="58.34" cy="37.21" r="0.85" opacity=".5"/><circle cx="57.27" cy="30.44" r="0.66" opacity=".9"/><circle cx="56.57" cy="31.22" r="0.48" opacity=".9"/><circle cx="26.21" cy="27.03" r="1.31" opacity=".8"/><circle cx="14.83" cy="1.55" r="1.26" opacity=".5"/><circle cx="13.49" cy="1.6" r="0.96" opacity=".5"/><circle cx="41.92" cy="0.24" r="0.83" opacity=".7"/><circle cx="41.92" cy="43.24" r="0.83" opacity=".7"/><circle cx="41.71" cy="42.27" r="0.52" opacity=".7"/><circle cx="57.62" cy="23.95" r="1.34" opacity=".8"/><circle cx="56.53" cy="23.06" r="1.17" opacity=".8"/><circle cx="41.7" cy="18.99" r="1.19" opacity=".8"/><circle cx="42.77" cy="20.29" r="0.84" opacity=".8"/><circle cx="7.86" cy="3.55" r="0.71" opacity=".9"/><circle cx="8.5" cy="3.1" r="0.55" opacity=".9"/><circle cx="46.63" cy="8.2" r="1.08" opacity=".9"/><circle cx="45.93" cy="8.94" r="0.94" opacity=".9"/><circle cx="30.91" cy="32.45" r="0.67" opacity=".6"/><circle cx="18.32" cy="3.71" r="1.03" opacity=".9"/><circle cx="19.22" cy="3.53" r="0.82" opacity=".9"/><circle cx="43.97" cy="26.57" r="1.22" opacity=".6"/><circle cx="45.6" cy="15.33" r="0.77" opacity=".6"/><circle cx="44.69" cy="15.11" r="0.56" opacity=".6"/><circle cx="29.87" cy="41.69" r="0.83" opacity=".7"/><circle cx="29.86" cy="-0.04" r="0.62" opacity=".7"/><circle cx="29.86" cy="42.96" r="0.62" opacity=".7"/><circle cx="48.73" cy="17.38" r="0.89" opacity=".5"/><circle cx="47.38" cy="17.74" r="0.7" opacity=".5"/><circle cx="11.02" cy="12.78" r="0.96" opacity=".8"/><circle cx="10.36" cy="12.29" r="0.84" opacity=".8"/><circle cx="26.19" cy="5.7" r="1.19" opacity=".8"/><circle cx="27.36" cy="5.4" r="0.9" opacity=".8"/><circle cx="17.3" cy="16.17" r="0.66" opacity=".6"/><circle cx="35.97" cy="27.15" r="0.73" opacity=".5"/><circle cx="36.66" cy="27.88" r="0.46" opacity=".5"/><circle cx="12.88" cy="41.18" r="0.98" opacity=".5"/><circle cx="11.8" cy="6.54" r="1.27" opacity=".7"/><circle cx="11.34" cy="7.88" r="0.83" opacity=".7"/><circle cx="12.58" cy="11.82" r="0.83" opacity=".8"/><circle cx="13.38" cy="12.53" r="0.5" opacity=".8"/><circle cx="6.05" cy="5.6" r="0.74" opacity=".9"/><circle cx="54.35" cy="40.3" r="0.88" opacity=".9"/><circle cx="6.32" cy="26.63" r="1.28" opacity=".6"/><circle cx="7.63" cy="25.64" r="0.78" opacity=".6"/><circle cx="15.08" cy="36.89" r="1.1" opacity=".6"/><circle cx="20.01" cy="35.87" r="1.27" opacity=".9"/><circle cx="41.23" cy="26" r="1" opacity=".9"/><circle cx="42.41" cy="26.67" r="0.75" opacity=".9"/><circle cx="35.27" cy="10.74" r="0.75" opacity=".5"/><circle cx="36.13" cy="10.19" r="0.48" opacity=".5"/><circle cx="48.77" cy="21.9" r="0.6" opacity=".9"/><circle cx="48.42" cy="21.56" r="0.49" opacity=".9"/><circle cx="53.04" cy="31.14" r="0.79" opacity=".8"/><circle cx="54.2" cy="31.01" r="0.62" opacity=".8"/><circle cx="11.8" cy="13.77" r="1.17" opacity=".9"/><circle cx="11.2" cy="12.22" r="0.95" opacity=".9"/><circle cx="24.62" cy="12.23" r="0.93" opacity=".9"/><circle cx="25.84" cy="11.44" r="0.81" opacity=".9"/><circle cx="46.15" cy="13.47" r="0.66" opacity=".7"/><circle cx="45.75" cy="12.69" r="0.52" opacity=".7"/><circle cx="17.71" cy="1.34" r="1.3" opacity=".6"/><circle cx="16.56" cy="-0.09" r="1.03" opacity=".6"/><circle cx="16.56" cy="42.91" r="1.03" opacity=".6"/><circle cx="48.16" cy="9.36" r="0.78" opacity=".9"/><circle cx="48.96" cy="9.21" r="0.6" opacity=".9"/><circle cx="53.51" cy="3.26" r="1.24" opacity=".5"/><circle cx="55.23" cy="3.55" r="0.81" opacity=".5"/><circle cx="8.05" cy="0.51" r="1.15" opacity=".8"/><circle cx="8.05" cy="43.51" r="1.15" opacity=".8"/><circle cx="9.58" cy="32.48" r="0.64" opacity=".5"/><circle cx="10.49" cy="32.12" r="0.51" opacity=".5"/></g><g id="gC"><circle cx="12.33" cy="21.75" r="0.58" opacity=".6"/><circle cx="12.17" cy="22.62" r="0.48" opacity=".6"/><circle cx="39.86" cy="5.55" r="0.6" opacity=".6"/><circle cx="40.26" cy="5.13" r="0.4" opacity=".6"/><circle cx="43.62" cy="11.57" r="0.73" opacity=".8"/><circle cx="47.05" cy="27.63" r="0.74" opacity="1.0"/><circle cx="46.61" cy="28.15" r="0.47" opacity="1.0"/><circle cx="15.07" cy="24.12" r="0.35" opacity=".9"/><circle cx="14.88" cy="24.6" r="0.26" opacity=".9"/><circle cx="24.06" cy="28.19" r="0.37" opacity="1.0"/><circle cx="24.06" cy="27.64" r="0.23" opacity="1.0"/><circle cx="18.31" cy="23.14" r="0.35" opacity=".6"/><circle cx="18.63" cy="23.05" r="0.29" opacity=".6"/><circle cx="47.1" cy="13.78" r="0.49" opacity=".8"/><circle cx="37.42" cy="31.89" r="0.69" opacity=".6"/><circle cx="17.04" cy="24.43" r="0.72" opacity=".7"/><circle cx="15.62" cy="12.67" r="0.42" opacity=".6"/><circle cx="15.37" cy="12.05" r="0.27" opacity=".6"/><circle cx="49.33" cy="21.34" r="0.51" opacity=".7"/><circle cx="22.78" cy="16.87" r="0.37" opacity="1.0"/><circle cx="22.24" cy="16.89" r="0.24" opacity="1.0"/><circle cx="47.49" cy="25.22" r="0.67" opacity=".6"/><circle cx="48.07" cy="26.01" r="0.46" opacity=".6"/><circle cx="-0.04" cy="34.09" r="0.74" opacity=".8"/><circle cx="49.96" cy="34.09" r="0.74" opacity=".8"/><circle cx="-0.15" cy="33.22" r="0.51" opacity=".8"/><circle cx="49.85" cy="33.22" r="0.51" opacity=".8"/><circle cx="7.33" cy="15.08" r="0.75" opacity="1.0"/><circle cx="16.92" cy="3.57" r="0.46" opacity=".9"/><circle cx="39.3" cy="31" r="0.63" opacity=".8"/><circle cx="35.22" cy="11.23" r="0.54" opacity=".9"/><circle cx="47.28" cy="25.99" r="0.58" opacity=".6"/><circle cx="33.58" cy="18.52" r="0.68" opacity=".8"/><circle cx="32.2" cy="29.51" r="0.68" opacity=".7"/><circle cx="34.42" cy="39.04" r="0.73" opacity=".8"/><circle cx="41.83" cy="37.5" r="0.54" opacity=".9"/><circle cx="8.59" cy="31.21" r="0.58" opacity=".8"/><circle cx="8" cy="30.63" r="0.46" opacity=".8"/><circle cx="1.38" cy="6.4" r="0.53" opacity=".8"/><circle cx="1.11" cy="5.77" r="0.32" opacity=".8"/><circle cx="11.31" cy="2.17" r="0.4" opacity=".7"/><circle cx="11.43" cy="2.48" r="0.3" opacity=".7"/><circle cx="30.59" cy="23.61" r="0.45" opacity="1.0"/><circle cx="30.21" cy="23.86" r="0.32" opacity="1.0"/><circle cx="41.57" cy="14.96" r="0.36" opacity=".8"/><circle cx="41.19" cy="14.85" r="0.28" opacity=".8"/><circle cx="40.93" cy="16.76" r="0.68" opacity=".8"/><circle cx="41.47" cy="17.44" r="0.52" opacity=".8"/><circle cx="48.4" cy="24.34" r="0.49" opacity="1.0"/><circle cx="48.88" cy="24.73" r="0.38" opacity="1.0"/><circle cx="31.47" cy="35.65" r="0.5" opacity=".7"/><circle cx="31.27" cy="36.41" r="0.36" opacity=".7"/><circle cx="45.69" cy="23.83" r="0.45" opacity="1.0"/><circle cx="45.27" cy="24.08" r="0.41" opacity="1.0"/><circle cx="14.32" cy="19.08" r="0.4" opacity=".8"/><circle cx="14.17" cy="19.63" r="0.34" opacity=".8"/><circle cx="26.63" cy="10.95" r="0.72" opacity=".9"/><circle cx="26.55" cy="11.62" r="0.65" opacity=".9"/><circle cx="30.4" cy="18.99" r="0.61" opacity=".8"/><circle cx="38.02" cy="12.03" r="0.56" opacity=".7"/><circle cx="37.37" cy="11.9" r="0.4" opacity=".7"/><circle cx="29.54" cy="1.46" r="0.45" opacity=".8"/><circle cx="27.28" cy="0.58" r="0.66" opacity=".7"/><circle cx="27.28" cy="40.58" r="0.66" opacity=".7"/><circle cx="31.61" cy="19.28" r="0.71" opacity=".7"/><circle cx="32.02" cy="18.73" r="0.49" opacity=".7"/><circle cx="3.3" cy="33.45" r="0.63" opacity=".7"/><circle cx="3.49" cy="32.51" r="0.4" opacity=".7"/><circle cx="27.45" cy="19.91" r="0.48" opacity=".6"/><circle cx="3.42" cy="9.2" r="0.68" opacity=".9"/><circle cx="36.13" cy="39.15" r="0.75" opacity=".9"/><circle cx="36.53" cy="38.54" r="0.59" opacity=".9"/><circle cx="35.62" cy="5.39" r="0.47" opacity="1.0"/><circle cx="35.22" cy="5.05" r="0.3" opacity="1.0"/><circle cx="2.18" cy="4.33" r="0.5" opacity=".6"/><circle cx="1.56" cy="4.01" r="0.43" opacity=".6"/><circle cx="21.58" cy="12.58" r="0.59" opacity=".8"/><circle cx="2.79" cy="27.89" r="0.41" opacity=".8"/><circle cx="27.74" cy="24.84" r="0.46" opacity=".8"/><circle cx="27.75" cy="24.28" r="0.29" opacity=".8"/><circle cx="18.56" cy="29.47" r="0.42" opacity=".9"/><circle cx="33.4" cy="3.65" r="0.4" opacity=".8"/><circle cx="33.74" cy="3.32" r="0.28" opacity=".8"/><circle cx="1.47" cy="29" r="0.37" opacity=".6"/><circle cx="11.15" cy="4.64" r="0.74" opacity=".8"/><circle cx="31.24" cy="14.17" r="0.44" opacity=".7"/><circle cx="19.29" cy="5.46" r="0.68" opacity=".8"/><circle cx="42.58" cy="20.7" r="0.59" opacity=".8"/><circle cx="4.85" cy="1.33" r="0.43" opacity=".6"/><circle cx="38.02" cy="0.02" r="0.54" opacity="1.0"/><circle cx="38.02" cy="40.02" r="0.54" opacity="1.0"/><circle cx="23.28" cy="3.99" r="0.41" opacity=".6"/><circle cx="22.81" cy="4.4" r="0.27" opacity=".6"/><circle cx="13.87" cy="6.46" r="0.46" opacity=".7"/><circle cx="14.57" cy="6.6" r="0.33" opacity=".7"/><circle cx="34.39" cy="26.95" r="0.54" opacity="1.0"/><circle cx="34.11" cy="26.47" r="0.43" opacity="1.0"/><circle cx="8.16" cy="8.04" r="0.36" opacity=".7"/><circle cx="7.7" cy="8.37" r="0.26" opacity=".7"/><circle cx="23.4" cy="11.33" r="0.64" opacity=".9"/><circle cx="23.45" cy="12.18" r="0.57" opacity=".9"/><circle cx="21.53" cy="39.02" r="0.35" opacity=".6"/><circle cx="2.25" cy="21.94" r="0.75" opacity=".8"/><circle cx="2.78" cy="22.29" r="0.65" opacity=".8"/><circle cx="46.79" cy="2.15" r="0.45" opacity=".6"/><circle cx="47.2" cy="2.32" r="0.32" opacity=".6"/><circle cx="2.57" cy="1.5" r="0.74" opacity=".6"/><circle cx="26.57" cy="3.37" r="0.48" opacity=".6"/><circle cx="29.91" cy="34.27" r="0.44" opacity=".6"/><circle cx="28.57" cy="15.07" r="0.6" opacity=".9"/><circle cx="22.45" cy="33.06" r="0.44" opacity=".6"/><circle cx="22.98" cy="33.38" r="0.37" opacity=".6"/><circle cx="6.49" cy="3.28" r="0.45" opacity=".6"/><circle cx="6.1" cy="3.07" r="0.28" opacity=".6"/><circle cx="2.4" cy="7.99" r="0.46" opacity=".7"/><circle cx="1.97" cy="8.23" r="0.38" opacity=".7"/><circle cx="44.8" cy="26.16" r="0.65" opacity=".8"/><circle cx="45.16" cy="25.37" r="0.58" opacity=".8"/><circle cx="35.06" cy="10.71" r="0.67" opacity=".7"/><circle cx="35.64" cy="10.96" r="0.46" opacity=".7"/><circle cx="14.28" cy="2.54" r="0.66" opacity=".8"/><circle cx="14.84" cy="2.73" r="0.46" opacity=".8"/><circle cx="47.46" cy="24.48" r="0.44" opacity=".7"/><circle cx="47.29" cy="24.79" r="0.34" opacity=".7"/><circle cx="36.34" cy="3.81" r="0.56" opacity=".6"/><circle cx="46.93" cy="31.79" r="0.4" opacity=".7"/><circle cx="21.71" cy="17.66" r="0.66" opacity="1.0"/><circle cx="29.8" cy="4.14" r="0.68" opacity=".7"/><circle cx="30.35" cy="4.07" r="0.52" opacity=".7"/><circle cx="44.09" cy="15.71" r="0.44" opacity=".7"/><circle cx="43.65" cy="15.53" r="0.36" opacity=".7"/><circle cx="17.59" cy="9.93" r="0.74" opacity=".9"/><circle cx="20.04" cy="5.72" r="0.68" opacity=".8"/><circle cx="20.33" cy="6.25" r="0.56" opacity=".8"/><circle cx="9.97" cy="31.88" r="0.48" opacity=".9"/><circle cx="40.02" cy="15.06" r="0.35" opacity=".8"/><circle cx="19.45" cy="12.69" r="0.36" opacity=".7"/><circle cx="18.97" cy="12.76" r="0.26" opacity=".7"/><circle cx="40.78" cy="36.96" r="0.63" opacity=".9"/><circle cx="18.14" cy="23.74" r="0.62" opacity=".8"/><circle cx="18.62" cy="24" r="0.44" opacity=".8"/><circle cx="37.98" cy="28.58" r="0.47" opacity="1.0"/><circle cx="37.89" cy="28.18" r="0.39" opacity="1.0"/><circle cx="47.85" cy="35.89" r="0.63" opacity=".9"/><circle cx="10.44" cy="20.67" r="0.71" opacity=".7"/><circle cx="19.67" cy="0.12" r="0.51" opacity=".6"/><circle cx="19.67" cy="40.12" r="0.51" opacity=".6"/><circle cx="45.51" cy="24.54" r="0.5" opacity=".6"/><circle cx="35.76" cy="14.96" r="0.7" opacity=".6"/><circle cx="35.66" cy="15.87" r="0.61" opacity=".6"/><circle cx="31.64" cy="30.66" r="0.44" opacity=".6"/><circle cx="43.93" cy="29.12" r="0.52" opacity=".7"/><circle cx="15.12" cy="11.23" r="0.59" opacity="1.0"/><circle cx="15.63" cy="11.33" r="0.46" opacity="1.0"/><circle cx="9.19" cy="7.61" r="0.59" opacity=".8"/><circle cx="3.07" cy="19.39" r="0.68" opacity="1.0"/><circle cx="3.6" cy="18.66" r="0.6" opacity="1.0"/><circle cx="34.84" cy="33.63" r="0.54" opacity=".6"/><circle cx="35.1" cy="34.02" r="0.35" opacity=".6"/><circle cx="5.25" cy="30.32" r="0.64" opacity=".9"/><circle cx="46.2" cy="38.28" r="0.6" opacity="1.0"/><circle cx="46.61" cy="38.58" r="0.4" opacity="1.0"/><circle cx="22.93" cy="27.22" r="0.65" opacity=".6"/><circle cx="22.25" cy="27.03" r="0.41" opacity=".6"/><circle cx="18.72" cy="27.35" r="0.55" opacity="1.0"/><circle cx="37.99" cy="28.85" r="0.47" opacity=".6"/><circle cx="37.59" cy="29.37" r="0.41" opacity=".6"/><circle cx="14.53" cy="19.95" r="0.63" opacity=".9"/><circle cx="16.85" cy="33.92" r="0.56" opacity=".6"/><circle cx="16.9" cy="34.66" r="0.35" opacity=".6"/><circle cx="4.8" cy="19.1" r="0.74" opacity=".8"/><circle cx="5.4" cy="18.84" r="0.53" opacity=".8"/><circle cx="0.26" cy="30.64" r="0.49" opacity=".6"/><circle cx="50.26" cy="30.64" r="0.49" opacity=".6"/><circle cx="-0.27" cy="30.78" r="0.37" opacity=".6"/><circle cx="49.73" cy="30.78" r="0.37" opacity=".6"/><circle cx="10.93" cy="38.97" r="0.53" opacity=".8"/><circle cx="10.78" cy="-0.22" r="0.42" opacity=".8"/><circle cx="10.78" cy="39.78" r="0.42" opacity=".8"/><circle cx="2.65" cy="15.71" r="0.66" opacity=".7"/><circle cx="32.26" cy="25.43" r="0.36" opacity=".6"/><circle cx="43.71" cy="33.03" r="0.72" opacity=".7"/><circle cx="44.59" cy="5.93" r="0.66" opacity=".7"/><circle cx="10.83" cy="16.86" r="0.46" opacity=".8"/><circle cx="10.63" cy="16.5" r="0.3" opacity=".8"/><circle cx="3.7" cy="15.25" r="0.71" opacity=".9"/><circle cx="4.73" cy="15.37" r="0.63" opacity=".9"/><circle cx="6.82" cy="9.46" r="0.72" opacity="1.0"/><circle cx="7.14" cy="10.22" r="0.49" opacity="1.0"/><circle cx="18.65" cy="31.01" r="0.41" opacity=".8"/><circle cx="4.5" cy="4.44" r="0.61" opacity=".7"/><circle cx="3.74" cy="4.55" r="0.54" opacity=".7"/><circle cx="28.43" cy="10.52" r="0.57" opacity=".9"/><circle cx="27.66" cy="10.61" r="0.34" opacity=".9"/><circle cx="20.94" cy="20.17" r="0.59" opacity=".9"/><circle cx="20.45" cy="20.16" r="0.43" opacity=".9"/><circle cx="1.07" cy="11.91" r="0.53" opacity=".8"/><circle cx="26.5" cy="28.53" r="0.72" opacity="1.0"/><circle cx="8.33" cy="37.28" r="0.38" opacity=".8"/><circle cx="19.44" cy="36.98" r="0.47" opacity=".8"/><circle cx="17.55" cy="19.77" r="0.58" opacity=".6"/><circle cx="18.01" cy="19.96" r="0.4" opacity=".6"/><circle cx="48.38" cy="10.53" r="0.46" opacity=".9"/><circle cx="41.46" cy="25.03" r="0.51" opacity=".8"/><circle cx="41.39" cy="25.79" r="0.37" opacity=".8"/><circle cx="8.85" cy="5.49" r="0.37" opacity=".9"/><circle cx="2.16" cy="32.96" r="0.55" opacity=".9"/><circle cx="1.75" cy="32.7" r="0.45" opacity=".9"/><circle cx="30.6" cy="8.86" r="0.73" opacity=".6"/><circle cx="30.35" cy="8.28" r="0.45" opacity=".6"/><circle cx="32.44" cy="35.68" r="0.64" opacity=".6"/><circle cx="6.03" cy="30.18" r="0.45" opacity=".7"/><circle cx="6.05" cy="29.63" r="0.39" opacity=".7"/><circle cx="7.77" cy="8.66" r="0.46" opacity="1.0"/><circle cx="8.19" cy="8.92" r="0.28" opacity="1.0"/><circle cx="31.08" cy="26.02" r="0.42" opacity=".6"/><circle cx="30.89" cy="25.58" r="0.32" opacity=".6"/><circle cx="7.25" cy="10.71" r="0.55" opacity=".8"/><circle cx="33.12" cy="16.78" r="0.66" opacity=".9"/><circle cx="33.64" cy="17.2" r="0.47" opacity=".9"/><circle cx="13.23" cy="25.18" r="0.61" opacity="1.0"/><circle cx="13.31" cy="24.53" r="0.38" opacity="1.0"/><circle cx="42.22" cy="23.3" r="0.37" opacity="1.0"/><circle cx="41.88" cy="22.91" r="0.25" opacity="1.0"/></g><g id="gT"><circle cx="20.7" cy="21.53" r="0.5" opacity=".6"/><circle cx="13.28" cy="32.13" r="0.51" opacity=".9"/><circle cx="40.01" cy="32.19" r="0.43" opacity=".6"/><circle cx="39.72" cy="31.86" r="0.38" opacity=".6"/><circle cx="10.04" cy="26.22" r="0.41" opacity="1.0"/><circle cx="32.23" cy="27.92" r="0.54" opacity="1.0"/><circle cx="31.78" cy="28.45" r="0.37" opacity="1.0"/><circle cx="4.48" cy="35.2" r="0.46" opacity=".6"/><circle cx="9.81" cy="19.35" r="0.34" opacity=".6"/><circle cx="0.63" cy="31.12" r="0.31" opacity=".7"/><circle cx="15.31" cy="15.1" r="0.42" opacity=".6"/><circle cx="21.14" cy="29.85" r="0.42" opacity="1.0"/><circle cx="44.61" cy="26.81" r="0.57" opacity=".8"/><circle cx="25.83" cy="18.84" r="0.51" opacity=".7"/><circle cx="25.82" cy="18.32" r="0.38" opacity=".7"/><circle cx="8.61" cy="0.87" r="0.34" opacity=".8"/><circle cx="22.58" cy="37.1" r="0.38" opacity=".7"/><circle cx="13.4" cy="18.99" r="0.44" opacity=".6"/><circle cx="40.24" cy="12.94" r="0.5" opacity="1.0"/><circle cx="30.15" cy="12.8" r="0.42" opacity=".8"/><circle cx="14.54" cy="0.25" r="0.43" opacity=".6"/><circle cx="14.54" cy="40.25" r="0.43" opacity=".6"/><circle cx="14.6" cy="-0.13" r="0.35" opacity=".6"/><circle cx="14.6" cy="39.87" r="0.35" opacity=".6"/><circle cx="46.92" cy="34.14" r="0.32" opacity=".6"/><circle cx="21.11" cy="31.29" r="0.54" opacity=".8"/><circle cx="18.1" cy="5.8" r="0.49" opacity=".8"/><circle cx="17.8" cy="5.49" r="0.31" opacity=".8"/><circle cx="23.14" cy="35.98" r="0.49" opacity=".9"/><circle cx="23.35" cy="35.62" r="0.38" opacity=".9"/><circle cx="45.39" cy="35.73" r="0.44" opacity=".9"/><circle cx="47.17" cy="36.35" r="0.43" opacity=".9"/><circle cx="35.62" cy="2.55" r="0.54" opacity="1.0"/><circle cx="4.18" cy="34.32" r="0.38" opacity="1.0"/><circle cx="1.6" cy="3.43" r="0.54" opacity=".8"/><circle cx="8.66" cy="14.82" r="0.32" opacity="1.0"/><circle cx="35.03" cy="13.74" r="0.32" opacity=".9"/><circle cx="34.67" cy="13.63" r="0.24" opacity=".9"/><circle cx="3.7" cy="20.81" r="0.31" opacity=".8"/><circle cx="3.64" cy="21.09" r="0.24" opacity=".8"/><circle cx="11.15" cy="8.86" r="0.47" opacity="1.0"/><circle cx="15.82" cy="9.61" r="0.47" opacity=".9"/><circle cx="16.26" cy="15.24" r="0.43" opacity=".7"/><circle cx="33.1" cy="28.65" r="0.49" opacity=".9"/><circle cx="48.63" cy="6.57" r="0.49" opacity=".7"/><circle cx="49.29" cy="6.74" r="0.31" opacity=".7"/><circle cx="5.01" cy="14.7" r="0.31" opacity=".8"/><circle cx="28.27" cy="36.89" r="0.39" opacity=".8"/><circle cx="8.43" cy="26.45" r="0.34" opacity=".6"/><circle cx="45.99" cy="30" r="0.5" opacity=".9"/><circle cx="22.17" cy="8.09" r="0.56" opacity=".9"/></g><g id="gLl"><polyline points="25.91,9.05 24.41,6.82 22.66,4.79 20.26,3.6 17.87,2.39 15.19,2.25 12.51,2.27 10.04,3.3 8.1,5.15"/><polyline points="33.96,-10.39 35.88,-8.01 36.71,-5.06 37.34,-2.07 38.24,0.85 37.84,3.88 38.68,6.82 38.55,9.88 38.99,12.91"/><polyline points="33.96,49.61 35.88,51.99 36.71,54.94 37.34,57.93 38.24,60.85 37.84,63.88 38.68,66.82 38.55,69.88 38.99,72.91"/><polyline points="11.54,7.07 11.18,11.59 10.48,16.08 9.23,20.45 8.5,24.93 7.56,29.37 8.41,33.83 10.91,37.62 14.31,40.62"/><polyline points="54.43,25.66 53.03,29.36 52.32,33.26 50.61,36.84 48.29,40.06 46.77,43.72 45.01,47.26 43.16,50.77 40.26,53.47"/><polyline points="-21.64,17.28 -18.9,16.73 -16.11,16.82 -13.42,16.04 -10.75,15.24 -8.62,13.43 -6.24,11.96 -3.58,11.1 -0.87,10.41"/><polyline points="58.36,17.28 61.1,16.73 63.89,16.82 66.58,16.04 69.25,15.24 71.38,13.43 73.76,11.96 76.42,11.1 79.13,10.41"/><polyline points="70.04,18.82 68.97,14.99 67.75,11.19 67.73,7.21 69.26,3.53 70.71,-0.19 72.68,-3.65 73.18,-7.6 74.37,-11.41"/><polyline points="70.04,78.82 68.97,74.99 67.75,71.19 67.73,67.21 69.26,63.53 70.71,59.81 72.68,56.35 73.18,52.4 74.37,48.59"/><polyline points="51.77,-0.41 52.87,-3.43 54.41,-6.25 54.64,-9.45 54.76,-12.66 53.92,-15.76 52.09,-18.4 49.38,-20.13 47.17,-22.45"/><polyline points="51.77,59.59 52.87,56.57 54.41,53.75 54.64,50.55 54.76,47.34 53.92,44.24 52.09,41.6 49.38,39.87 47.17,37.55"/><polyline points="10.35,14.86 8.07,18.94 5.98,23.13 3.71,27.22 0.19,30.3 -4.06,32.26 -8.71,32.75 -13.18,34.14 -17.52,35.88"/><polyline points="90.35,14.86 88.07,18.94 85.98,23.13 83.71,27.22 80.19,30.3 75.94,32.26 71.29,32.75 66.82,34.14 62.48,35.88"/><polyline points="28.7,53.05 31.14,51.53 33.15,49.47 34.61,46.99 36.04,44.49 37.66,42.12 38.74,39.45 38.57,36.58 38.19,33.73"/><polyline points="29.54,33.98 33.6,32.81 37.76,32.07 41.99,32 45.85,30.29 50.07,30.04 54.22,30.85 57.86,32.99 60.81,36.02"/><polyline points="31.39,23.94 35.34,24.98 39.39,24.43 43.16,22.86 46.29,20.23 49.01,17.18 50.32,13.31 49.81,9.26 48.07,5.56"/><polyline points="8.12,21.82 12.64,23.03 17.32,22.78 21.83,21.51 26.12,19.62 30.15,17.23 33.15,13.63 37.12,11.14 41.77,10.59"/><polyline points="37.28,29.03 39.82,30.1 42.53,30.61 44.97,31.89 47.68,32.37 50.35,31.69 53.07,32.11 55.78,32.6 58.51,32.22"/><polyline points="43.45,1.62 39.12,-0.76 35.28,-3.87 30.85,-6.09 26.2,-7.77 21.26,-7.99 16.52,-9.41 11.82,-10.96 7.66,-13.63"/><polyline points="43.45,61.62 39.12,59.24 35.28,56.13 30.85,53.91 26.2,52.23 21.26,52.01 16.52,50.59 11.82,49.04 7.66,46.37"/></g><g id="gLc"><circle cx="26.37" cy="13.38" r="1.01"/><circle cx="-1.21" cy="51.16" r="1"/><circle cx="78.79" cy="51.16" r="1"/><circle cx="65.47" cy="44.39" r="0.71"/><circle cx="41.41" cy="21.33" r="0.61"/><circle cx="2.23" cy="16.77" r="0.73"/><circle cx="55.4" cy="57.39" r="0.82"/><circle cx="74.96" cy="-0.72" r="1.08"/><circle cx="74.96" cy="59.28" r="1.08"/><circle cx="29.17" cy="13.23" r="0.71"/></g><g id="gL2l"><polyline points="18.14,-2.26 19.67,-1.65 21.3,-1.45 22.63,-0.48 24.19,0.06 25.65,0.81"/><polyline points="18.14,57.74 19.67,58.35 21.3,58.55 22.63,59.52 24.19,60.06 25.65,60.81"/><polyline points="36.73,27.19 35.75,26.88 34.72,27 33.76,27.38 33.09,28.16 32.61,29.07"/><polyline points="32.61,54.12 32.11,54.91 31.29,55.37 30.74,56.13 30.11,56.82 29.56,57.58"/><polyline points="52.87,20.31 52.56,18.94 52.82,17.57 53.18,16.22 53.05,14.83 52.34,13.62"/><polyline points="75.68,29.32 76.21,31.18 76.29,33.12 75.66,34.94 75.42,36.86 75.46,38.8"/><polyline points="70.25,8.1 70.5,7.22 70.92,6.4 71.66,5.86 72.54,5.59 73.42,5.33"/><polyline points="15.81,9.01 14.44,9.36 13.05,9.14 11.66,8.91 10.34,8.41 8.93,8.29"/><polyline points="19.51,0.71 18.96,1.69 18.54,2.73 17.8,3.57 16.8,4.07 16.01,4.86"/><polyline points="19.51,60.71 18.96,61.69 18.54,62.73 17.8,63.57 16.8,64.07 16.01,64.86"/><polyline points="31.7,9.97 30.23,8.66 29.15,7.01 27.77,5.61 25.89,5.01 24.24,3.95"/><polyline points="27.35,10.21 26.4,10.72 25.48,11.28 24.61,11.92 23.68,12.48 22.9,13.21"/><polyline points="7.61,5.12 8.84,5.84 9.79,6.89 10.74,7.96 11.45,9.19 11.51,10.62"/><polyline points="5.04,1.02 5.77,2.05 6.23,3.23 6.85,4.32 6.92,5.58 7.59,6.66"/><polyline points="5.04,61.02 5.77,62.05 6.23,63.23 6.85,64.32 6.92,65.58 7.59,66.66"/></g><g id="gL2c"><circle cx="66.85" cy="12.6" r="0.85"/><circle cx="2.65" cy="57.91" r="0.8"/><circle cx="-0.76" cy="34.8" r="0.57"/><circle cx="79.24" cy="34.8" r="0.57"/><circle cx="77.59" cy="26.49" r="0.53"/><circle cx="48.43" cy="29.83" r="0.69"/><circle cx="12.36" cy="7.32" r="0.73"/><circle cx="36.22" cy="7.59" r="0.68"/><circle cx="58.04" cy="42.93" r="0.69"/><circle cx="31.5" cy="21.65" r="0.59"/><circle cx="15.8" cy="26.77" r="0.54"/><circle cx="58.01" cy="42.5" r="0.74"/><circle cx="1.81" cy="21.85" r="0.67"/></g><g id="gKl"><polyline points="8.74,29.66 7.78,29.2 7.09,28.39 6.79,27.36"/><polyline points="27.16,21.72 27.34,22.36 27.44,23.03 27.89,23.51"/><polyline points="42.07,9.99 41.68,10.57 41.12,11 40.42,11.08"/><polyline points="32.64,1.47 32.69,2.55 32.09,3.44 31.66,4.44"/><polyline points="32.64,44.47 32.69,45.55 32.09,46.44 31.66,47.44"/><polyline points="8.21,35.15 9.29,36.1 10.3,37.13 11.51,37.91"/><polyline points="25.69,8.04 27.06,7.85 28.41,8.2 29.78,7.98"/><polyline points="-1.66,38.44 -1.47,37.15 -0.89,35.99 -0.97,34.69"/><polyline points="51.34,38.44 51.53,37.15 52.11,35.99 52.03,34.69"/><polyline points="25.25,35.56 24.91,36.96 24.75,38.39 24.87,39.82"/><polyline points="23.92,16.59 24.68,15.96 24.98,15.01 25.55,14.2"/><polyline points="-0.38,21.33 -1.46,21 -2.58,21.11 -3.7,21.04"/><polyline points="52.62,21.33 51.54,21 50.42,21.11 49.3,21.04"/><polyline points="29.49,26.77 29.98,27.42 30.02,28.22 30.23,29"/><polyline points="31.65,13.18 31.99,13.82 32.06,14.54 32.25,15.24"/><polyline points="36.22,29.06 37.27,28.05 38.73,27.93 39.97,28.71"/><polyline points="31.3,37.98 30.4,38.37 29.43,38.25 28.51,38.6"/><polyline points="3.67,34.63 4.3,33.76 4.29,32.69 3.93,31.68"/><polyline points="15.36,18.04 15.84,18.58 15.96,19.3 15.61,19.93"/><polyline points="39.53,20.6 39.46,22.06 38.93,23.43 39.35,24.83"/><polyline points="11.24,36.05 11.82,34.77 12.26,33.44 12.86,32.17"/><polyline points="45.02,13.24 44.27,12.74 43.38,12.83 42.49,12.68"/><polyline points="50.56,1.01 49.99,-0.05 49.56,-1.17 48.77,-2.08"/><polyline points="50.56,44.01 49.99,42.95 49.56,41.83 48.77,40.92"/><polyline points="21.5,-1.78 21.81,-2.49 21.68,-3.26 21.11,-3.79"/><polyline points="21.5,41.22 21.81,40.51 21.68,39.74 21.11,39.21"/><polyline points="23.68,6.06 23.94,4.87 24.26,3.7 24.29,2.49"/><polyline points="26.17,9.44 26.7,10.07 27.02,10.82 27.29,11.6"/><polyline points="2.45,30.57 3.66,30.07 4.29,28.92 4.85,27.74"/><polyline points="3.37,32.85 4.28,33.71 4.93,34.79 5.83,35.67"/><polyline points="2.22,16.72 2.1,18.13 1.97,19.54 1.75,20.94"/><polyline points="55.22,16.72 55.1,18.13 54.97,19.54 54.75,20.94"/><polyline points="50.26,4.24 49.63,3.34 49.69,2.25 49.45,1.19"/><polyline points="50.26,47.24 49.63,46.34 49.69,45.25 49.45,44.19"/><polyline points="37.07,22.61 36.58,22.08 36.52,21.36 36.32,20.67"/><polyline points="16.86,-0.29 17.59,-0.23 18.22,0.13 18.68,0.69"/><polyline points="16.86,42.71 17.59,42.77 18.22,43.13 18.68,43.69"/><polyline points="23.75,26.72 24.95,26.77 26.15,26.85 27.35,26.75"/><polyline points="21.28,9.7 22.31,9.65 23.31,9.89 24.1,10.54"/><polyline points="38.36,19.61 38.46,20.59 38.38,21.57 37.72,22.31"/><polyline points="4.53,20.63 3.41,20.03 2.62,19.05 2,17.94"/><polyline points="40.2,28.73 41.21,27.99 41.9,26.95 43.05,26.46"/><polyline points="20.46,26.43 21.8,25.84 22.46,24.52 22.75,23.08"/><polyline points="16.52,16.82 17.59,17.18 18.72,17.24 19.6,17.94"/><polyline points="39.34,19.88 40.18,21.08 41.42,21.85 42.81,22.32"/><polyline points="34,29.31 34.27,30.75 35,32.01 35.06,33.47"/><polyline points="8.13,29.29 8.81,30.23 9.65,31.05 9.85,32.2"/><polyline points="24.75,18.79 23.88,18.54 22.99,18.43 22.11,18.61"/><polyline points="9.99,-1.69 10.9,-0.7 11.49,0.5 12.71,1.07"/><polyline points="9.99,41.31 10.9,42.3 11.49,43.5 12.71,44.07"/><polyline points="26.56,1.69 25.37,1.3 24.21,1.76 23.02,2.15"/><polyline points="26.56,44.69 25.37,44.3 24.21,44.76 23.02,45.15"/><polyline points="5.01,13.29 3.75,13.93 2.97,15.1 1.78,15.86"/><polyline points="58.01,13.29 56.75,13.93 55.97,15.1 54.78,15.86"/><polyline points="43.58,22.76 44.4,22.91 45.19,23.11 46.01,22.99"/><polyline points="42.53,36.27 43.1,34.99 43.83,33.79 43.76,32.39"/><polyline points="47.68,32.12 47.25,31.42 47.15,30.6 47.18,29.78"/><polyline points="32.87,20.26 32.87,19.31 32.67,18.38 32.22,17.55"/><polyline points="33.24,38.28 33.88,38.6 34.43,39.07 35.13,39.27"/><polyline points="14.3,2.53 15.26,3.03 16.08,3.73 17.13,3.97"/><polyline points="5.52,40.03 4.64,39.54 3.96,38.79 3.3,38.03"/><polyline points="4.15,35.57 4.45,36.21 4.71,36.86 4.86,37.54"/><polyline points="9.23,30.51 8.51,30.16 8,29.54 7.9,28.75"/><polyline points="36.01,9.34 36.32,7.96 37.33,6.96 38.74,6.79"/><polyline points="20.68,40.5 21.3,39.33 21.67,38.05 22.24,36.85"/><polyline points="32.18,32.49 32.14,31.69 32.15,30.89 32.56,30.21"/><polyline points="10.96,-0.08 9.94,-0.91 9.49,-2.14 8.8,-3.26"/><polyline points="10.96,42.92 9.94,42.09 9.49,40.86 8.8,39.74"/><polyline points="4.39,17.44 4.4,18.56 4.62,19.65 5.36,20.49"/><polyline points="1.43,18.19 0.92,17.72 0.27,17.5 -0.4,17.65"/><polyline points="54.43,18.19 53.92,17.72 53.27,17.5 52.6,17.65"/><polyline points="49.17,22.49 49.58,21.47 49.6,20.38 49.5,19.29"/><polyline points="33.97,33.15 33.57,32.01 33.06,30.91 32.37,29.92"/><polyline points="25.95,11.42 24.99,11.84 23.94,11.8 22.9,11.63"/><polyline points="42.55,31.67 42.11,30.24 41.48,28.89 40.12,28.26"/><polyline points="35.21,25 33.71,24.92 32.3,25.4 30.8,25.4"/><polyline points="43.06,20.76 43.73,21.46 44.41,22.16 45.13,22.83"/><polyline points="20.64,27.02 20.11,25.9 20,24.66 19.68,23.46"/><polyline points="13.27,33.62 13.05,32.2 13.53,30.84 14.64,29.92"/><polyline points="4.09,13.24 3.88,12.48 3.44,11.83 3.18,11.09"/><polyline points="15.68,9.38 15.65,10.46 16.04,11.47 16.15,12.55"/><polyline points="17.76,27.92 17.56,28.72 17.87,29.49 17.96,30.31"/><polyline points="21.92,5.3 22.11,4.1 22.65,3.02 23.33,2.01"/><polyline points="23.52,21.53 24.5,21.48 25.46,21.62 26.44,21.58"/><polyline points="18.36,32.46 17.68,31.66 16.76,31.17 16.1,30.36"/><polyline points="1.05,27.66 0.21,27.79 -0.64,27.83 -1.33,28.33"/><polyline points="54.05,27.66 53.21,27.79 52.36,27.83 51.67,28.33"/><polyline points="25.98,7.1 26.04,6.16 25.74,5.27 24.96,4.74"/><polyline points="9.89,6.52 8.62,6 7.27,6.21 5.9,6.36"/></g><g id="gKc"><circle cx="6.13" cy="17.43" r="0.62"/><circle cx="10.77" cy="30.08" r="0.54"/><circle cx="4.5" cy="10.43" r="0.56"/><circle cx="5.1" cy="8.76" r="0.55"/><circle cx="43.36" cy="22.38" r="0.58"/><circle cx="0.48" cy="13.01" r="0.46"/><circle cx="53.48" cy="13.01" r="0.46"/><circle cx="48.41" cy="15.37" r="0.62"/><circle cx="1.82" cy="21.43" r="0.66"/><circle cx="40.88" cy="24.93" r="0.41"/><circle cx="49.09" cy="3.43" r="0.69"/><circle cx="41.14" cy="30.95" r="0.54"/><circle cx="8.69" cy="14.66" r="0.58"/><circle cx="34.77" cy="16.74" r="0.63"/><circle cx="2.83" cy="12.35" r="0.38"/><circle cx="17.22" cy="34.1" r="0.61"/><circle cx="7.92" cy="13.26" r="0.39"/><circle cx="35.08" cy="19.03" r="0.43"/><circle cx="19.83" cy="37.2" r="0.5"/><circle cx="36.62" cy="26.99" r="0.52"/><circle cx="29.49" cy="15.64" r="0.42"/><circle cx="26.2" cy="13.09" r="0.47"/><circle cx="9.89" cy="39.27" r="0.5"/><circle cx="10.61" cy="1.36" r="0.42"/><circle cx="10.61" cy="44.36" r="0.42"/><circle cx="46.03" cy="14.49" r="0.58"/><circle cx="12.22" cy="27.98" r="0.51"/><circle cx="39.03" cy="22.72" r="0.48"/><circle cx="14.85" cy="25.55" r="0.64"/><circle cx="36.65" cy="20.65" r="0.46"/><circle cx="47.25" cy="36.39" r="0.4"/><circle cx="36" cy="33.2" r="0.59"/><circle cx="51.11" cy="37.8" r="0.44"/><circle cx="-0.17" cy="14.09" r="0.48"/><circle cx="52.83" cy="14.09" r="0.48"/><circle cx="-1.25" cy="7.19" r="0.49"/><circle cx="51.75" cy="7.19" r="0.49"/><circle cx="33.17" cy="11.73" r="0.44"/><circle cx="42.09" cy="26.34" r="0.61"/><circle cx="41.87" cy="37.5" r="0.66"/><circle cx="43.64" cy="-0.93" r="0.52"/><circle cx="43.64" cy="42.07" r="0.52"/><circle cx="37.18" cy="22.1" r="0.69"/><circle cx="34.72" cy="18.51" r="0.58"/><circle cx="15.63" cy="5.57" r="0.49"/></g><g id="gK2l"><polyline points="-1.96,5.19 -0.53,4.76 0.49,3.66 1.71,2.8"/><polyline points="45.04,5.19 46.47,4.76 47.49,3.66 48.71,2.8"/><polyline points="16.25,-4.09 16.77,-2.72 17.1,-1.29 16.56,0.07"/><polyline points="16.25,32.91 16.77,34.28 17.1,35.71 16.56,37.07"/><polyline points="32.21,34.18 32.4,33.5 32.67,32.85 32.76,32.15"/><polyline points="8.94,31.44 8.04,30.3 8.01,28.86 8.11,27.41"/><polyline points="32.82,22.66 33.13,24.09 32.86,25.53 31.79,26.53"/><polyline points="30.59,5.26 30.63,4.04 29.94,3.03 29.3,1.99"/><polyline points="30.59,42.26 30.63,41.04 29.94,40.03 29.3,38.99"/><polyline points="1.52,34.23 0.42,34.32 -0.66,34.17 -1.49,33.45"/><polyline points="48.52,34.23 47.42,34.32 46.34,34.17 45.51,33.45"/><polyline points="14.44,13.83 13.72,13.27 13.03,12.68 12.28,12.14"/><polyline points="31.64,19.54 33.05,20.06 34.5,20.44 35.98,20.62"/><polyline points="43.69,-1.77 42.8,-1.3 41.81,-1.36 40.88,-0.98"/><polyline points="43.69,35.23 42.8,35.7 41.81,35.64 40.88,36.02"/><polyline points="25.69,12.92 25.63,13.88 26.17,14.68 26.66,15.51"/><polyline points="37.41,23.94 38.41,24.68 39.49,25.3 40.19,26.33"/><polyline points="-3.71,17.04 -3.07,16.17 -2.32,15.39 -1.25,15.25"/><polyline points="43.29,17.04 43.93,16.17 44.68,15.39 45.75,15.25"/><polyline points="34.95,17.5 34.54,16.37 34.6,15.17 35.18,14.11"/><polyline points="28.6,-2.12 29.63,-1.8 30.71,-1.71 31.72,-2.11"/><polyline points="28.6,34.88 29.63,35.2 30.71,35.29 31.72,34.89"/><polyline points="32.53,16.07 32.04,16.57 31.66,17.17 31.64,17.87"/><polyline points="10.17,9.43 10.5,8.69 10.38,7.88 10.23,7.07"/><polyline points="9.76,12.73 10.29,11.39 9.9,10.01 9.28,8.71"/><polyline points="39.9,1.22 40.38,2.18 40.49,3.25 40.28,4.31"/><polyline points="39.9,38.22 40.38,39.18 40.49,40.25 40.28,41.31"/><polyline points="21.83,9.21 22.42,9.88 22.85,10.66 23.58,11.15"/><polyline points="41.8,23.9 42.75,24.42 43.82,24.27 44.89,24.1"/><polyline points="1.4,28.35 2.31,29.13 2.75,30.23 3.57,31.1"/><polyline points="48.4,28.35 49.31,29.13 49.75,30.23 50.57,31.1"/><polyline points="25.12,5.17 23.94,5.89 23.48,7.2 23.25,8.57"/><polyline points="30.09,6.49 30.64,5.19 30.94,3.81 31.84,2.73"/><polyline points="24.1,6.97 23.62,7.61 23.13,8.24 22.48,8.71"/><polyline points="38.42,-0.97 38.27,0.02 37.77,0.9 37.42,1.84"/><polyline points="38.42,36.03 38.27,37.02 37.77,37.9 37.42,38.84"/><polyline points="30.82,7.21 31.29,7.75 31.92,8.07 32.54,8.41"/><polyline points="-1.43,5.66 -2.65,4.99 -3.84,4.28 -4.69,3.18"/><polyline points="45.57,5.66 44.35,4.99 43.16,4.28 42.31,3.18"/><polyline points="1.03,-1.9 1.1,-3.24 0.45,-4.41 -0.75,-5"/><polyline points="1.03,35.1 1.1,33.76 0.45,32.59 -0.75,32"/><polyline points="48.03,-1.9 48.1,-3.24 47.45,-4.41 46.25,-5"/><polyline points="48.03,35.1 48.1,33.76 47.45,32.59 46.25,32"/><polyline points="8.38,18.68 9.63,17.98 10.97,17.51 12.39,17.5"/><polyline points="15.62,-1.09 16.87,-0.84 17.91,-0.11 18.77,0.83"/><polyline points="15.62,35.91 16.87,36.16 17.91,36.89 18.77,37.83"/><polyline points="15.1,10.41 14.75,11.03 14.57,11.72 14.87,12.37"/><polyline points="14.86,3.82 14.2,4.49 13.56,5.19 13.01,5.96"/><polyline points="16.64,30.09 15.77,30.8 14.66,30.85 13.57,31.09"/><polyline points="1.9,-1.83 1.13,-1.48 0.54,-0.87 0.13,-0.13"/><polyline points="1.9,35.17 1.13,35.52 0.54,36.13 0.13,36.87"/><polyline points="48.9,-1.83 48.13,-1.48 47.54,-0.87 47.13,-0.13"/><polyline points="48.9,35.17 48.13,35.52 47.54,36.13 47.13,36.87"/><polyline points="6.52,1.81 7.65,1.08 8.76,0.31 10.09,0.07"/><polyline points="6.52,38.81 7.65,38.08 8.76,37.31 10.09,37.07"/><polyline points="23.71,2.56 22.82,2.97 21.88,3.27 20.96,3.62"/><polyline points="29.64,1.8 29.43,0.48 28.96,-0.78 28.14,-1.84"/><polyline points="29.64,38.8 29.43,37.48 28.96,36.22 28.14,35.16"/><polyline points="0.48,3.03 0.69,4.06 1.29,4.91 1.92,5.75"/><polyline points="47.48,3.03 47.69,4.06 48.29,4.91 48.92,5.75"/><polyline points="29.89,23.29 31.28,23.64 32.71,23.6 34.04,23.06"/><polyline points="32.38,-2.49 31.79,-1.68 31.62,-0.7 31.58,0.3"/><polyline points="32.38,34.51 31.79,35.32 31.62,36.3 31.58,37.3"/><polyline points="-3.87,20.59 -3.14,20.09 -2.27,19.91 -1.54,19.43"/><polyline points="43.13,20.59 43.86,20.09 44.73,19.91 45.46,19.43"/><polyline points="24.91,25.23 23.75,25.12 22.6,24.92 21.43,24.96"/><polyline points="37.5,13.79 38.51,13.23 39.44,12.55 39.91,11.5"/><polyline points="34.61,1.7 34.15,0.9 33.35,0.44 32.69,-0.21"/><polyline points="34.61,38.7 34.15,37.9 33.35,37.44 32.69,36.79"/><polyline points="33.56,8.63 34.06,9.46 34.82,10.09 35.79,10.09"/><polyline points="20.75,29.92 21.53,31.14 22.78,31.88 24.23,31.83"/><polyline points="17.43,17.63 17.76,18.29 18.29,18.79 18.86,19.26"/><polyline points="21.19,25.8 20.33,25.77 19.59,25.33 18.74,25.4"/><polyline points="5.79,2.59 6.77,2.05 7.83,1.7 8.78,1.11"/><polyline points="5.79,39.59 6.77,39.05 7.83,38.7 8.78,38.11"/><polyline points="20.23,27.1 20.56,28.39 21.6,29.24 22.79,29.83"/><polyline points="26.33,5.42 27.54,4.64 28.98,4.62 30.37,4.98"/><polyline points="25.29,5.85 26.63,5.34 27.87,4.62 28.49,3.33"/><polyline points="29.1,31.63 28.32,32.1 27.42,32.21 26.67,32.72"/><polyline points="13.27,23.76 14.62,23.77 15.82,24.37 17.06,24.9"/><polyline points="7.78,0.72 8.2,1.49 8.28,2.37 8.19,3.25"/><polyline points="7.78,37.72 8.2,38.49 8.28,39.37 8.19,40.25"/><polyline points="14.44,24.57 13.81,23.82 13.16,23.1 12.28,22.69"/><polyline points="8.87,14.45 10.26,14.68 11.33,15.61 12.03,16.84"/><polyline points="0.51,33.27 1.38,32.6 2.23,31.89 2.47,30.81"/><polyline points="47.51,33.27 48.38,32.6 49.23,31.89 49.47,30.81"/><polyline points="7.05,11.49 7.24,10.15 7.15,8.79 6.37,7.68"/><polyline points="10.74,13.03 9.98,13.28 9.37,13.77 8.58,13.88"/><polyline points="22.63,15.9 22.4,14.97 21.74,14.28 20.9,13.82"/><polyline points="11.02,27.2 10.6,28.38 10.92,29.6 11.55,30.68"/><polyline points="18.45,-3.33 19.06,-2.74 19.83,-2.39 20.23,-1.65"/><polyline points="18.45,33.67 19.06,34.26 19.83,34.61 20.23,35.35"/><polyline points="-3.2,8.42 -2.23,8.87 -1.16,8.75 -0.12,8.51"/><polyline points="43.8,8.42 44.77,8.87 45.84,8.75 46.88,8.51"/><polyline points="36.13,0.05 36.38,-1.16 36.6,-2.38 36.77,-3.6"/><polyline points="36.13,37.05 36.38,35.84 36.6,34.62 36.77,33.4"/><polyline points="24.37,5.04 23.52,5.18 22.91,5.81 22.66,6.64"/><polyline points="2.6,20.02 2.69,21.14 3.18,22.16 4.12,22.79"/><polyline points="28.01,25.03 27.73,23.98 26.86,23.33 25.84,22.93"/><polyline points="37.63,13.96 38.07,14.87 38.93,15.41 39.95,15.43"/><polyline points="23.42,32.28 22.59,32.55 22.03,33.22 21.69,34.03"/><polyline points="28.12,31.43 28.46,30.55 28.63,29.63 28.31,28.75"/><polyline points="12.81,28.36 13.48,27.77 14.3,27.42 15.16,27.65"/><polyline points="37.33,15.27 37.71,14.03 38.09,12.78 39.18,12.07"/><polyline points="36.7,8.7 36.09,9.12 35.36,9.25 34.63,9.38"/><polyline points="24.64,28.82 25.47,29.31 26.31,29.78 26.99,30.45"/><polyline points="44.04,29.66 42.87,29.24 42.22,28.19 41.73,27.06"/><polyline points="27.92,14.65 26.91,15.47 25.62,15.63 24.34,15.37"/><polyline points="44.89,26.15 43.95,26.37 42.97,26.38 42.06,26.05"/><polyline points="33.99,28.09 35.22,27.98 36.42,27.69 37.61,28.03"/></g><g id="gK2c"><circle cx="19.03" cy="17.28" r="0.37"/><circle cx="8.53" cy="7.78" r="0.44"/><circle cx="24.56" cy="1.76" r="0.39"/><circle cx="4.05" cy="27.14" r="0.74"/><circle cx="35.25" cy="19.05" r="0.4"/><circle cx="36.85" cy="4.79" r="0.38"/><circle cx="24.04" cy="31.91" r="0.47"/><circle cx="40.58" cy="12.29" r="0.74"/><circle cx="34.72" cy="32" r="0.74"/><circle cx="38.39" cy="7.26" r="0.56"/><circle cx="25.6" cy="26.73" r="0.44"/><circle cx="27.12" cy="10.51" r="0.42"/><circle cx="21.13" cy="29.73" r="0.57"/><circle cx="16.67" cy="8.36" r="0.49"/><circle cx="18.75" cy="10.05" r="0.47"/><circle cx="10.68" cy="10.88" r="0.62"/><circle cx="29.38" cy="23.18" r="0.72"/><circle cx="31.3" cy="4.81" r="0.51"/><circle cx="24.64" cy="27.62" r="0.56"/><circle cx="4.36" cy="17.61" r="0.61"/><circle cx="36.91" cy="16.5" r="0.44"/><circle cx="1.59" cy="18.61" r="0.65"/><circle cx="48.59" cy="18.61" r="0.65"/><circle cx="5.19" cy="19.35" r="0.59"/><circle cx="26.32" cy="8.57" r="0.39"/><circle cx="1.01" cy="11.29" r="0.71"/><circle cx="48.01" cy="11.29" r="0.71"/><circle cx="19.71" cy="-0.48" r="0.68"/><circle cx="19.71" cy="36.52" r="0.68"/><circle cx="27.44" cy="16.28" r="0.57"/><circle cx="39.47" cy="12.37" r="0.41"/><circle cx="42.24" cy="23.35" r="0.5"/><circle cx="18.79" cy="3.74" r="0.58"/><circle cx="36.95" cy="18.45" r="0.63"/><circle cx="34.71" cy="12.25" r="0.61"/><circle cx="-1.31" cy="26.47" r="0.42"/><circle cx="45.69" cy="26.47" r="0.42"/><circle cx="31.14" cy="23.85" r="0.66"/><circle cx="32.99" cy="33.76" r="0.74"/><circle cx="9.85" cy="17.74" r="0.37"/><circle cx="-0.65" cy="3.94" r="0.52"/><circle cx="46.35" cy="3.94" r="0.52"/><circle cx="28.97" cy="15.88" r="0.42"/><circle cx="23.61" cy="8.26" r="0.55"/><circle cx="33.61" cy="11.07" r="0.53"/><circle cx="29.7" cy="19.68" r="0.67"/><circle cx="41.9" cy="-1.22" r="0.42"/><circle cx="41.9" cy="35.78" r="0.42"/><circle cx="22.68" cy="4.37" r="0.63"/><circle cx="18.62" cy="31.43" r="0.54"/><circle cx="37.52" cy="1.14" r="0.6"/><circle cx="37.52" cy="38.14" r="0.6"/><circle cx="19.43" cy="30.81" r="0.39"/><circle cx="4.18" cy="25.44" r="0.48"/><circle cx="20.44" cy="14.95" r="0.74"/><circle cx="29.32" cy="30.81" r="0.69"/><circle cx="40.32" cy="16.54" r="0.47"/></g><radialGradient id="gNCw" cx="0.7" cy="0.75" r="0.5"><stop offset="0" stop-color="#fafbf8" stop-opacity="0.8"/><stop offset="1" stop-color="#fafbf8" stop-opacity="0"/></radialGradient><pattern id="p1" width="53" height="43" patternUnits="userSpaceOnUse" patternTransform="translate(3 2)"><use href="#gKl" fill="none" stroke="#5a5ac8" stroke-width="0.6" stroke-opacity="0.75"/></pattern><pattern id="p2" width="53" height="43" patternUnits="userSpaceOnUse" patternTransform="translate(3 2)"><use href="#gKc" fill="#4848c0"/></pattern><pattern id="p3" width="50" height="40" patternUnits="userSpaceOnUse" patternTransform="translate(20 7)"><use href="#gT" fill="#8080b8"/></pattern><pattern id="p4" width="53" height="43" patternUnits="userSpaceOnUse" patternTransform="translate(17 11)"><use href="#gKl" fill="none" stroke="#3c3cc0" stroke-width="0.65" stroke-opacity="0.85"/></pattern><pattern id="p5" width="47" height="37" patternUnits="userSpaceOnUse" patternTransform="translate(5 9)"><use href="#gK2l" fill="none" stroke="#4444c4" stroke-width="0.65" stroke-opacity="0.85"/></pattern><pattern id="p6" width="47" height="37" patternUnits="userSpaceOnUse" patternTransform="translate(5 9)"><use href="#gK2c" fill="#3030b4"/></pattern><pattern id="p7" width="41" height="35" patternUnits="userSpaceOnUse" patternTransform="translate(11 3)"><use href="#gS" fill="#3030b0" fill-opacity="0.8"/></pattern><pattern id="p8" width="50" height="40" patternUnits="userSpaceOnUse" patternTransform="translate(0 0)"><use href="#gT" fill="#8a8a8a"/></pattern><pattern id="p9" width="50" height="40" patternUnits="userSpaceOnUse" patternTransform="translate(10 5)"><use href="#gT" fill="#7a7a7a"/></pattern><pattern id="p10" width="50" height="40" patternUnits="userSpaceOnUse" patternTransform="translate(3 9)"><use href="#gT" fill="#eee"/></pattern><linearGradient id="gC1" x1="0" y1="0" x2="1" y2="1"><stop offset="0" stop-color="#d0d0d0"/><stop offset="1" stop-color="#c0c0c0"/></linearGradient><radialGradient id="gEET" cx="1" cy="1" r="0.8"><stop offset="0" stop-color="#7c7c7c" stop-opacity="1"/><stop offset="0.45" stop-color="#9a9a9a" stop-opacity="0.7"/><stop offset="1" stop-color="#c6c6c6" stop-opacity="0"/></radialGradient><filter id="bblur" x="-0.2" y="-0.5" width="1.4" height="2"><feGaussianBlur stdDeviation="0.85"/></filter><clipPath id="blotclip"><rect x="624.1" y="32.1" width="36.2" height="9.7"/><rect x="624.1" y="46.5" width="36.2" height="10.4"/><rect x="624.1" y="61.1" width="36.2" height="10.1"/><rect x="624.1" y="75.9" width="36.2" height="9.5"/><rect x="624.1" y="90.1" width="36.2" height="9.6"/></clipPath><pattern id="p11" width="59" height="43" patternUnits="userSpaceOnUse" patternTransform="translate(7 13)"><use href="#gB" fill="#7a50c8"/></pattern><pattern id="p12" width="53" height="41" patternUnits="userSpaceOnUse" patternTransform="translate(22 3)"><use href="#gM" fill="#7a50c8"/></pattern><pattern id="p13" width="53" height="41" patternUnits="userSpaceOnUse" patternTransform="translate(14 26)"><use href="#gM" fill="#8a6cd0"/></pattern><pattern id="p14" width="50" height="40" patternUnits="userSpaceOnUse" patternTransform="translate(39 6)"><use href="#gT" fill="#8a6cd0"/></pattern><pattern id="p15" width="59" height="43" patternUnits="userSpaceOnUse" patternTransform="translate(21 39)"><use href="#gB" fill="#7a52c8"/></pattern><pattern id="p16" width="53" height="41" patternUnits="userSpaceOnUse" patternTransform="translate(56 9)"><use href="#gM" fill="#7a52c8"/></pattern><pattern id="p17" width="47" height="39" patternUnits="userSpaceOnUse" patternTransform="translate(28 52)"><use href="#gD" fill="#7a5ccc"/></pattern><pattern id="p18" width="53" height="41" patternUnits="userSpaceOnUse" patternTransform="translate(73 12)"><use href="#gM" fill="#7a5ccc"/></pattern><pattern id="p19" width="47" height="39" patternUnits="userSpaceOnUse" patternTransform="translate(35 65)"><use href="#gD" fill="#8a6ed0"/></pattern><pattern id="p20" width="41" height="35" patternUnits="userSpaceOnUse" patternTransform="translate(90 15)"><use href="#gS" fill="#8a6ed0"/></pattern><pattern id="p21" width="53" height="41" patternUnits="userSpaceOnUse" patternTransform="translate(42 78)"><use href="#gM" fill="#8c70d2"/></pattern><pattern id="p22" width="41" height="35" patternUnits="userSpaceOnUse" patternTransform="translate(107 18)"><use href="#gS" fill="#8c70d2"/></pattern><g id="gLcl"><polyline points="37.04,22.4 41.29,24.33 45.53,26.27 48.83,29.57 53.11,31.43 57.29,33.5 61.24,35.99 65.85,36.69 70.51,36.89"/><polyline points="56.28,27.12 55.17,24.45 53.22,22.32 51.27,20.18 50.26,17.46 49.48,14.68 49.4,11.79 49.02,8.92 49.28,6.04"/><polyline points="8.13,17.47 5.89,13.78 2.46,11.16 -1.43,9.31 -5.68,8.53 -9.99,8.6 -14.15,7.47 -18.47,7.5 -22.53,6.06"/><polyline points="88.13,17.47 85.89,13.78 82.46,11.16 78.57,9.31 74.32,8.53 70.01,8.6 65.85,7.47 61.53,7.5 57.47,6.06"/><polyline points="70.35,3.29 68.97,6.75 67.82,10.3 65.48,13.2 64.27,16.73 62.76,20.14 62.48,23.86 61.94,27.55 60.14,30.82"/><polyline points="16.24,0.5 20.08,0.84 23.77,-0.23 27.47,-1.32 31.3,-0.96 35.15,-0.88 38.99,-1.16 42.83,-0.95 46.5,-2.13"/><polyline points="16.24,60.5 20.08,60.84 23.77,59.77 27.47,58.68 31.3,59.04 35.15,59.12 38.99,58.84 42.83,59.05 46.5,57.87"/><polyline points="46.38,10.35 41.68,8.99 37.05,7.39 32.6,5.36 27.74,4.81 22.86,5.28 18.26,3.6 14.84,0.1 10.45,-2.06"/><polyline points="46.38,70.35 41.68,68.99 37.05,67.39 32.6,65.36 27.74,64.81 22.86,65.28 18.26,63.6 14.84,60.1 10.45,57.94"/><polyline points="56.44,-2.94 58.35,0.6 60.67,3.89 62.45,7.5 63.94,11.25 64.46,15.24 66.4,18.77 68.8,22.01 70.03,25.84"/><polyline points="56.44,57.06 58.35,60.6 60.67,63.89 62.45,67.5 63.94,71.25 64.46,75.24 66.4,78.77 68.8,82.01 70.03,85.84"/><polyline points="46.73,-32.92 42.49,-30.34 39.73,-26.21 35.97,-22.97 32.76,-19.18 29.77,-15.22 27.9,-10.62 26.25,-5.93 25.37,-1.05"/><polyline points="46.73,27.08 42.49,29.66 39.73,33.79 35.97,37.03 32.76,40.82 29.77,44.78 27.9,49.38 26.25,54.07 25.37,58.95"/><polyline points="7.11,-22.23 11.46,-21.25 15.43,-19.22 18.69,-16.18 21.96,-13.15 24.61,-9.56 27.99,-6.65 30.68,-3.1 33.61,0.27"/><polyline points="7.11,37.77 11.46,38.75 15.43,40.78 18.69,43.82 21.96,46.85 24.61,50.44 27.99,53.35 30.68,56.9 33.61,60.27"/><polyline points="18.48,-2.16 15.2,-1.15 12.06,0.24 8.74,1.14 5.84,2.97 2.52,3.83 -0.54,5.38 -2.75,8.02 -5.84,9.5"/><polyline points="18.48,57.84 15.2,58.85 12.06,60.24 8.74,61.14 5.84,62.97 2.52,63.83 -0.54,65.38 -2.75,68.02 -5.84,69.5"/><polyline points="98.48,-2.16 95.2,-1.15 92.06,0.24 88.74,1.14 85.84,2.97 82.52,3.83 79.46,5.38 77.25,8.02 74.16,9.5"/><polyline points="13.82,56.79 17.29,54.77 19.72,51.57 21.24,47.85 22.37,44 23.89,40.28 26.79,37.51 29.31,34.37 30.69,30.6"/><polyline points="44.95,8.24 47.88,10.8 51.56,12.06 55.29,13.16 58.76,14.92 61.72,17.44 64.92,19.65 67.19,22.81 70.28,25.17"/><polyline points="57.24,46.3 58.89,42.95 59.08,39.22 59.37,35.49 58.56,31.85 58.19,28.13 56.48,24.8 55.66,21.16 53.96,17.83"/><polyline points="1.04,10.55 -2.59,11.97 -5.65,14.38 -8.68,16.84 -12.42,17.92 -16.2,18.89 -20.05,18.31 -23.8,19.38 -27.65,18.73"/><polyline points="81.04,10.55 77.41,11.97 74.35,14.38 71.32,16.84 67.58,17.92 63.8,18.89 59.95,18.31 56.2,19.38 52.35,18.73"/></g><g id="gLcc"><circle cx="71.12" cy="32.66" r="1.27"/><circle cx="42.97" cy="54.57" r="0.86"/><circle cx="51.42" cy="32.53" r="1.07"/><circle cx="57.99" cy="43.24" r="0.89"/><circle cx="55.96" cy="27.21" r="1.24"/><circle cx="50.94" cy="3.18" r="1.34"/><circle cx="29.85" cy="52.72" r="1.01"/><circle cx="65.85" cy="43.78" r="1.36"/><circle cx="70.07" cy="2.16" r="1.34"/><circle cx="70.07" cy="62.16" r="1.34"/><circle cx="49.06" cy="40.68" r="1.17"/><circle cx="5.52" cy="11.35" r="1.35"/><circle cx="14.51" cy="3.89" r="1.12"/><circle cx="37.62" cy="32.13" r="0.82"/><circle cx="62.05" cy="20.03" r="1.5"/><circle cx="0.69" cy="57.24" r="1.33"/><circle cx="80.69" cy="57.24" r="1.33"/><circle cx="-1.89" cy="-0.82" r="1.55"/><circle cx="-1.89" cy="59.18" r="1.55"/><circle cx="78.11" cy="-0.82" r="1.55"/><circle cx="78.11" cy="59.18" r="1.55"/><circle cx="8.5" cy="20.93" r="1.01"/><circle cx="62.4" cy="11.53" r="1"/><circle cx="8.85" cy="7.21" r="1.64"/><circle cx="-1.9" cy="22.35" r="1.47"/><circle cx="78.1" cy="22.35" r="1.47"/><circle cx="37.4" cy="31.32" r="1.13"/><circle cx="50.78" cy="14.17" r="1.03"/><circle cx="41.43" cy="11.84" r="1.2"/><circle cx="75.51" cy="1.33" r="0.89"/><circle cx="75.51" cy="61.33" r="0.89"/><circle cx="64" cy="3.47" r="1.03"/><circle cx="68.13" cy="36.32" r="1"/><circle cx="4.69" cy="16.51" r="1.07"/><circle cx="64.02" cy="-1.47" r="1.51"/><circle cx="64.02" cy="58.53" r="1.51"/><circle cx="72.14" cy="55.84" r="1.59"/><circle cx="73.6" cy="58.05" r="0.88"/><circle cx="25.41" cy="14.83" r="1.34"/><circle cx="39.34" cy="20.82" r="1.55"/><circle cx="31.93" cy="12.54" r="1.05"/><circle cx="36.94" cy="36.63" r="1.31"/><circle cx="35.19" cy="11.18" r="1.16"/><circle cx="26" cy="10.23" r="1.29"/><circle cx="15.08" cy="42.7" r="1.39"/><circle cx="11.02" cy="37.52" r="1.1"/><circle cx="35.77" cy="36.39" r="1.49"/><circle cx="70.69" cy="44.01" r="0.99"/></g><clipPath id="cl1"><rect x="384.1" y="180.9" width="75.5" height="56.6"/></clipPath><pattern id="p23" width="80" height="60" patternUnits="userSpaceOnUse" patternTransform="translate(13 5)"><use href="#gL2l" fill="none" stroke="#8e8e8e" stroke-width="0.7"/><use href="#gL2l" fill="none" stroke="#e2e2e2" stroke-width="0.28"/><use href="#gL2c" fill="#d4d4d4" stroke="#5e5e5e" stroke-width="0.45"/></pattern><clipPath id="cl2"><rect x="538.4" y="180.9" width="75.3" height="56.6"/></clipPath><clipPath id="cl3"><rect x="384.1" y="240.8" width="75.5" height="56.9"/></clipPath><pattern id="p24" width="80" height="60" patternUnits="userSpaceOnUse" patternTransform="translate(20 16)"><use href="#gL2l" fill="none" stroke="#8e8e8e" stroke-width="0.7"/><use href="#gL2l" fill="none" stroke="#e2e2e2" stroke-width="0.28"/><use href="#gL2c" fill="#d4d4d4" stroke="#5e5e5e" stroke-width="0.45"/></pattern><clipPath id="cl4"><rect x="538.4" y="240.8" width="75.3" height="56.9"/></clipPath><pattern id="p25" width="59" height="43" patternUnits="userSpaceOnUse" patternTransform="translate(0 0)"><use href="#gB" fill="#7048c8"/></pattern><pattern id="p26" width="47" height="39" patternUnits="userSpaceOnUse" patternTransform="translate(9 3)"><use href="#gD" fill="#7048c8" opacity="0.7"/></pattern><pattern id="p27" width="59" height="43" patternUnits="userSpaceOnUse" patternTransform="translate(11 7)"><use href="#gB" fill="#3c32b8"/></pattern><pattern id="p28" width="41" height="35" patternUnits="userSpaceOnUse" patternTransform="translate(32 8)"><use href="#gS" fill="#3c32b8" opacity="0.7"/></pattern><pattern id="p29" width="53" height="41" patternUnits="userSpaceOnUse" patternTransform="translate(22 14)"><use href="#gM" fill="#4a42c0"/></pattern><pattern id="p30" width="41" height="35" patternUnits="userSpaceOnUse" patternTransform="translate(55 13)"><use href="#gS" fill="#4a42c0" opacity="0.7"/></pattern><pattern id="p31" width="41" height="35" patternUnits="userSpaceOnUse" patternTransform="translate(33 21)"><use href="#gS" fill="#5a54c4"/></pattern><pattern id="p32" width="50" height="40" patternUnits="userSpaceOnUse" patternTransform="translate(78 18)"><use href="#gT" fill="#5a54c4" opacity="0.7"/></pattern><linearGradient id="gLen" x1="0" y1="0" x2="1" y2="0"><stop offset="0.5" stop-color="#999" stop-opacity="0"/><stop offset="0.8" stop-color="#999" stop-opacity="0.3"/><stop offset="1" stop-color="#808080" stop-opacity="0.75"/></linearGradient><radialGradient id="gG20" cx="0" cy="0" r="0.6"><stop offset="0" stop-color="#6a6a6a" stop-opacity="0.95"/><stop offset="0.5" stop-color="#999" stop-opacity="0.45"/><stop offset="1" stop-color="#bbb" stop-opacity="0"/></radialGradient><pattern id="p33" width="80" height="60" patternUnits="userSpaceOnUse" patternTransform="translate(0 0)"><use href="#gL2l" fill="none" stroke="#ababab" stroke-width="0.8"/><use href="#gL2l" fill="none" stroke="#e6e6e6" stroke-width="0.32"/><use href="#gL2c" fill="#e2e2e2" stroke="#9a9a9a" stroke-width="0.45"/></pattern><pattern id="p34" width="80" height="60" patternUnits="userSpaceOnUse" patternTransform="translate(19 7)"><use href="#gL2l" fill="none" stroke="#ababab" stroke-width="0.8"/><use href="#gL2l" fill="none" stroke="#e6e6e6" stroke-width="0.32"/><use href="#gL2c" fill="#e2e2e2" stroke="#9a9a9a" stroke-width="0.45"/></pattern><pattern id="p35" width="80" height="60" patternUnits="userSpaceOnUse" patternTransform="translate(38 14)"><use href="#gL2l" fill="none" stroke="#ababab" stroke-width="0.8"/><use href="#gL2l" fill="none" stroke="#e6e6e6" stroke-width="0.32"/><use href="#gL2c" fill="#e2e2e2" stroke="#9a9a9a" stroke-width="0.45"/></pattern><pattern id="p36" width="80" height="60" patternUnits="userSpaceOnUse" patternTransform="translate(57 21)"><use href="#gL2l" fill="none" stroke="#ababab" stroke-width="0.8"/><use href="#gL2l" fill="none" stroke="#e6e6e6" stroke-width="0.32"/><use href="#gL2c" fill="#e2e2e2" stroke="#9a9a9a" stroke-width="0.45"/></pattern></defs><rect width="685" height="526" fill="#fff"/><text transform="translate(-0.3 11.7)" font-size="15.5" font-weight="bold">a</text>
<text transform="translate(163.6 11.7)" font-size="15.5" font-weight="bold">b</text>
<text transform="translate(341.5 12.7)" font-size="16" font-weight="bold">c</text>
<text transform="translate(558.6 11.4)" font-size="15.5" font-weight="bold">d</text>
<text transform="translate(-0.2 171.6)" font-size="15.5" font-weight="bold">e</text>
<text transform="translate(352 171.6)" font-size="15.5" font-weight="bold">f</text>
<text transform="translate(1.4 325.8)" font-size="15.5" font-weight="bold">g</text>
<polygon points="39,77.3 43.76,76.75 48.52,76.16 53.28,75.5 58.04,74.75 62.8,73.9 67.56,72.91 72.32,71.73 77.08,70.31 81.84,68.61 86.6,66.57 91.36,64.18 96.12,61.47 100.88,58.46 105.64,55.21 110.4,51.78 115.16,48.21 119.92,44.53 124.68,40.77 129.44,36.94 134.2,33.06 134.2,76.86 129.44,77.41 124.68,78.01 119.92,78.67 115.16,79.41 110.4,80.26 105.64,81.25 100.88,82.43 96.12,83.85 91.36,85.56 86.6,87.59 81.84,89.98 77.08,92.7 72.32,95.7 67.56,98.95 62.8,102.38 58.04,105.95 53.28,109.63 48.52,113.4 43.76,117.22 39,121.1" fill="#ebebeb"/>
<line x1="39" y1="99.2" x2="134.2" y2="54.96" stroke="#1aa6e4" stroke-width="1.3"/>
<circle cx="39.4" cy="70.6" r="1.25" fill="#1aa6e4"/>
<circle cx="48.7" cy="52.2" r="1.25" fill="#1aa6e4"/>
<circle cx="43.9" cy="98" r="1.25" fill="#1aa6e4"/>
<circle cx="54" cy="107.4" r="1.25" fill="#1aa6e4"/>
<circle cx="59.1" cy="116.4" r="1.25" fill="#1aa6e4"/>
<circle cx="63.9" cy="84.4" r="1.25" fill="#1aa6e4"/>
<circle cx="69.3" cy="121.1" r="1.25" fill="#1aa6e4"/>
<circle cx="74.3" cy="111.9" r="1.25" fill="#1aa6e4"/>
<circle cx="79.1" cy="88.7" r="1.25" fill="#1aa6e4"/>
<circle cx="84.4" cy="61.5" r="1.25" fill="#1aa6e4"/>
<circle cx="94.2" cy="102.5" r="1.25" fill="#1aa6e4"/>
<circle cx="99.3" cy="93.5" r="1.25" fill="#1aa6e4"/>
<circle cx="104.4" cy="79.6" r="1.25" fill="#1aa6e4"/>
<circle cx="109.7" cy="66" r="1.25" fill="#1aa6e4"/>
<circle cx="114.5" cy="47.4" r="1.25" fill="#1aa6e4"/>
<circle cx="119.5" cy="56.7" r="1.25" fill="#1aa6e4"/>
<circle cx="124.3" cy="42.9" r="1.25" fill="#1aa6e4"/>
<circle cx="129.7" cy="33.8" r="1.25" fill="#1aa6e4"/>
<circle cx="134.7" cy="75.1" r="1.25" fill="#1aa6e4"/>
<rect x="34.4" y="29.2" width="105.4" height="96" fill="none" stroke="#333" stroke-width="0.9"/>
<line x1="32.2" y1="121.1" x2="34.4" y2="121.1" stroke="#333" stroke-width="0.8"/>
<text transform="translate(31.6 123.6)" font-size="7.1" text-anchor="end" fill="#333">0.00</text>
<line x1="39" y1="125.2" x2="39" y2="127.4" stroke="#333" stroke-width="0.8"/>
<text transform="translate(39 134.7)" font-size="7.1" text-anchor="middle" fill="#333">0.00</text>
<line x1="32.2" y1="99.2" x2="34.4" y2="99.2" stroke="#333" stroke-width="0.8"/>
<text transform="translate(31.6 101.7)" font-size="7.1" text-anchor="end" fill="#333">0.25</text>
<line x1="62.8" y1="125.2" x2="62.8" y2="127.4" stroke="#333" stroke-width="0.8"/>
<text transform="translate(62.8 134.7)" font-size="7.1" text-anchor="middle" fill="#333">0.25</text>
<line x1="32.2" y1="77.3" x2="34.4" y2="77.3" stroke="#333" stroke-width="0.8"/>
<text transform="translate(31.6 79.8)" font-size="7.1" text-anchor="end" fill="#333">0.50</text>
<line x1="86.6" y1="125.2" x2="86.6" y2="127.4" stroke="#333" stroke-width="0.8"/>
<text transform="translate(86.6 134.7)" font-size="7.1" text-anchor="middle" fill="#333">0.50</text>
<line x1="32.2" y1="55.4" x2="34.4" y2="55.4" stroke="#333" stroke-width="0.8"/>
<text transform="translate(31.6 57.9)" font-size="7.1" text-anchor="end" fill="#333">0.75</text>
<line x1="110.4" y1="125.2" x2="110.4" y2="127.4" stroke="#333" stroke-width="0.8"/>
<text transform="translate(110.4 134.7)" font-size="7.1" text-anchor="middle" fill="#333">0.75</text>
<line x1="32.2" y1="33.5" x2="34.4" y2="33.5" stroke="#333" stroke-width="0.8"/>
<text transform="translate(31.6 36)" font-size="7.1" text-anchor="end" fill="#333">1.00</text>
<line x1="134.2" y1="125.2" x2="134.2" y2="127.4" stroke="#333" stroke-width="0.8"/>
<text transform="translate(134.2 134.7)" font-size="7.1" text-anchor="middle" fill="#333">1.00</text>
<text transform="translate(86.6 144.7)" font-size="8.5" font-weight="bold" text-anchor="middle">Nuclear AR positive expression</text>
<text transform="translate(14.3 77.3) rotate(-90)" font-size="8.5" font-weight="bold" text-anchor="middle">CD31 IHC score</text>
<text transform="translate(87.1 25)" font-size="8.46" font-weight="bold" text-anchor="middle">Correlation (IHC)</text>
<text transform="translate(40 39.2)" font-size="7.6" font-weight="bold"><tspan font-style="italic">R</tspan> = 0.51, <tspan font-style="italic">p</tspan> = 0.025</text>
<text transform="translate(249 19)" font-size="8.55" font-weight="bold" text-anchor="middle">11,12-EET &amp; EGFR</text>
<line x1="191" y1="25.5" x2="191" y2="133.3" stroke="#222" stroke-width="0.9"/>
<line x1="191" y1="133.3" x2="334.8" y2="133.3" stroke="#222" stroke-width="0.9"/>
<line x1="188.6" y1="26" x2="191" y2="26" stroke="#222" stroke-width="0.8"/>
<text transform="translate(187.6 28.5)" font-size="7" text-anchor="end" fill="#222">8</text>
<line x1="188.6" y1="49.9" x2="191" y2="49.9" stroke="#222" stroke-width="0.8"/>
<text transform="translate(187.6 52.4)" font-size="7" text-anchor="end" fill="#222">6</text>
<line x1="188.6" y1="73.8" x2="191" y2="73.8" stroke="#222" stroke-width="0.8"/>
<text transform="translate(187.6 76.3)" font-size="7" text-anchor="end" fill="#222">4</text>
<line x1="188.6" y1="97.7" x2="191" y2="97.7" stroke="#222" stroke-width="0.8"/>
<text transform="translate(187.6 100.2)" font-size="7" text-anchor="end" fill="#222">2</text>
<line x1="188.6" y1="121.6" x2="191" y2="121.6" stroke="#222" stroke-width="0.8"/>
<text transform="translate(187.6 124.1)" font-size="7" text-anchor="end" fill="#222">0</text>
<line x1="192" y1="133.3" x2="192" y2="135.8" stroke="#222" stroke-width="0.8"/>
<text transform="translate(192 141.6)" font-size="7" text-anchor="middle" fill="#222">-100</text>
<line x1="215.8" y1="133.3" x2="215.8" y2="135.8" stroke="#222" stroke-width="0.8"/>
<text transform="translate(215.8 141.6)" font-size="7" text-anchor="middle" fill="#222">0</text>
<line x1="239.6" y1="133.3" x2="239.6" y2="135.8" stroke="#222" stroke-width="0.8"/>
<text transform="translate(239.6 141.6)" font-size="7" text-anchor="middle" fill="#222">100</text>
<line x1="263.4" y1="133.3" x2="263.4" y2="135.8" stroke="#222" stroke-width="0.8"/>
<text transform="translate(263.4 141.6)" font-size="7" text-anchor="middle" fill="#222">200</text>
<line x1="287.2" y1="133.3" x2="287.2" y2="135.8" stroke="#222" stroke-width="0.8"/>
<text transform="translate(287.2 141.6)" font-size="7" text-anchor="middle" fill="#222">300</text>
<line x1="311" y1="133.3" x2="311" y2="135.8" stroke="#222" stroke-width="0.8"/>
<text transform="translate(311 141.6)" font-size="7" text-anchor="middle" fill="#222">400</text>
<line x1="334.8" y1="133.3" x2="334.8" y2="135.8" stroke="#222" stroke-width="0.8"/>
<text transform="translate(334.8 141.6)" font-size="7" text-anchor="middle" fill="#222">500</text>
<text transform="translate(266.8 151.5)" font-size="8.6" font-weight="bold" text-anchor="middle">Time (s)</text>
<text transform="translate(180.2 80.3) rotate(-90)" font-size="8.45" font-weight="bold" text-anchor="middle">Response (RU)</text>
<polyline points="201.52,122.59 202.23,122.58 202.95,121.97 203.66,122.97 204.38,122.25 205.09,122.95 205.8,121.83 206.52,122.13 207.23,121.74 207.95,122.37 208.66,122.06 209.37,122.29 210.09,122.44 210.8,122.15 211.52,122.62 212.23,122.32 212.94,121.96 213.66,122.18 214.37,122.33 215.09,121.46 215.8,66.58 216.51,64.05 217.23,60.63 217.94,58.64 218.66,56.18 219.37,54.01 220.08,50.07 220.8,49.96 221.51,48.2 222.23,46.29 222.94,43.8 223.65,44.43 224.37,43.62 225.08,39.99 225.8,42.33 226.51,40.54 227.22,38.89 227.94,36.81 228.65,38.85 229.37,39.48 230.08,36.34 230.79,36.82 231.51,36.24 232.22,35.11 232.94,34.92 233.65,34.51 234.36,34.79 235.08,33.06 235.79,32.61 236.51,33.59 237.22,33.77 237.93,32.58 238.65,32.6 239.36,33.7 240.08,33.06 240.79,31.65 241.5,32.48 242.22,32.55 242.93,31.99 243.65,32.09 244.36,31.98 245.07,104.83 245.79,104.27 246.5,106.23 247.22,107.88 247.93,107.97 248.64,109.25 249.36,110.28 250.07,110.58 250.79,110.73 251.5,112.29 252.21,112.43 252.93,112.74 253.64,114.9 254.36,115.17 255.07,115 255.78,116.7 256.5,116.39 257.21,115.99 257.93,116.48 258.64,117.04 259.35,118.59 260.07,116.75 260.78,117.92 261.5,118.05 262.21,118.42 262.92,119.74 263.64,119.8 264.35,119.87 265.07,118.47 265.78,120 266.49,119.85 267.21,119.99 267.92,119.7 268.64,119.86 269.35,120.08 270.06,120.95 270.78,121.98 271.49,120.41 272.21,120.44 272.92,120.03 273.63,120.77 274.35,121.09 275.06,120.63 275.78,121.67 276.49,121.47 277.2,121.5 277.92,120.89 278.63,120.03 279.35,120.73 280.06,120.58 280.77,121.06 281.49,121.07 282.2,121.47 282.92,121.41 283.63,122.51 284.34,121.92 285.06,121.98 285.77,120.95 286.49,121.09 287.2,120.91 287.91,120.79 288.63,121.81 289.34,121.24 290.06,120.91 290.77,122.02 291.48,121.61 292.2,122.39 292.91,123.27 293.63,122.57 294.34,123.21 295.05,122.92 295.77,123.39 296.48,123.19 297.2,124.61 297.91,122.68 298.62,123.24 299.34,124.29 300.05,124.76 300.77,124.49 301.48,124.34 302.19,124.66 302.91,124.85 303.62,126.21 304.34,125.96 305.05,124.88 305.76,125.59 306.48,126.62 307.19,126.42 307.91,126.84 308.62,126.74 309.33,125.73 310.05,126.52 310.76,125.91 311.48,126.44 312.19,127.34 312.9,126.93 313.62,125.44 314.33,127 315.05,127.14 315.76,125.98" fill="none" stroke="#ec2f6b" stroke-width="1.2" stroke-linejoin="round"/>
<polyline points="201.52,122.18 202.23,122.2 202.95,121.84 203.66,122.63 204.38,122.1 205.09,122.45 205.8,122.54 206.52,122.4 207.23,121.92 207.95,122.23 208.66,122.64 209.37,122.47 210.09,121.83 210.8,121.95 211.52,122.46 212.23,121.61 212.94,122.29 213.66,122.49 214.37,122.23 215.09,121.97 215.8,94.33 216.51,92.77 217.23,91.89 217.94,90.33 218.66,89.35 219.37,87.1 220.08,86.1 220.8,84.37 221.51,84.17 222.23,82.66 222.94,81.91 223.65,81.21 224.37,80.36 225.08,79.48 225.8,78.86 226.51,77.13 227.22,76.79 227.94,77.09 228.65,75.43 229.37,75.08 230.08,73.9 230.79,74.49 231.51,74.1 232.22,74.03 232.94,73.19 233.65,72.65 234.36,72.55 235.08,72.54 235.79,71.79 236.51,71.84 237.22,71.53 237.93,72.05 238.65,71.17 239.36,71.73 240.08,71.48 240.79,70.71 241.5,69.39 242.22,69.94 242.93,70.43 243.65,70.43 244.36,69.61 245.07,104.37 245.79,105.74 246.5,107.46 247.22,108.42 247.93,109.62 248.64,110.52 249.36,111.57 250.07,112.11 250.79,113.51 251.5,113.8 252.21,113.79 252.93,114.82 253.64,114.78 254.36,115.89 255.07,115.96 255.78,116.06 256.5,116.92 257.21,117.12 257.93,116.23 258.64,117.65 259.35,117.9 260.07,118.07 260.78,118.04 261.5,118.25 262.21,118.04 262.92,118.26 263.64,118.84 264.35,118.95 265.07,119.45 265.78,119.59 266.49,119.41 267.21,118.96 267.92,119.26 268.64,119.09 269.35,119.1 270.06,119.57 270.78,118.8 271.49,119.81 272.21,119.9 272.92,119.87 273.63,119.11 274.35,119.06 275.06,118.56 275.78,117.36 276.49,116.43 277.2,116.46 277.92,116.43 278.63,115.96 279.35,116.02 280.06,116.05 280.77,116.69 281.49,116.32 282.2,116.31 282.92,117.11 283.63,116.03 284.34,116.46 285.06,116.65 285.77,115.73 286.49,116.54 287.2,116.9 287.91,116.71 288.63,116.53 289.34,116.49 290.06,116.87 290.77,117.22 291.48,117.23 292.2,117.33 292.91,117.49 293.63,117.18 294.34,117.43 295.05,117.3 295.77,117.7 296.48,117.79 297.2,117.62 297.91,117.76 298.62,117.29 299.34,118.12 300.05,117.79 300.77,117.96 301.48,118.5 302.19,117.83 302.91,118.11 303.62,119.01 304.34,118.09 305.05,118.04 305.76,118.74 306.48,117.89 307.19,118.52 307.91,119.05 308.62,118.48 309.33,118.87 310.05,119.27 310.76,119.61 311.48,118.77 312.19,119.16 312.9,118.68 313.62,118.8 314.33,119.15 315.05,119.16 315.76,118.32" fill="none" stroke="#55c5f2" stroke-width="1.2" stroke-linejoin="round"/>
<polyline points="201.52,121.86 202.23,122.05 202.95,122.27 203.66,122.39 204.38,122.27 205.09,121.87 205.8,122.11 206.52,122.25 207.23,122.44 207.95,122.16 208.66,122.37 209.37,122.2 210.09,122.05 210.8,121.99 211.52,122.17 212.23,122.26 212.94,122.15 213.66,121.85 214.37,122.12 215.09,122.47 215.8,111.28 216.51,110.73 217.23,108.04 217.94,108.91 218.66,107.74 219.37,106.9 220.08,105.7 220.8,105.34 221.51,104.99 222.23,104.48 222.94,102.91 223.65,102.45 224.37,101.87 225.08,99.98 225.8,100.08 226.51,99.42 227.22,99.71 227.94,98.87 228.65,98.69 229.37,98.28 230.08,97.44 230.79,97.15 231.51,96.96 232.22,96.72 232.94,97.2 233.65,96.57 234.36,95.76 235.08,95.88 235.79,95.84 236.51,95.07 237.22,95.48 237.93,95.17 238.65,94.23 239.36,94.66 240.08,93.62 240.79,93.91 241.5,93.63 242.22,93.33 242.93,94.8 243.65,93.67 244.36,94.14 245.07,108.43 245.79,109.29 246.5,109.79 247.22,110.99 247.93,111.27 248.64,112.61 249.36,113.13 250.07,113.7 250.79,114.02 251.5,114.84 252.21,115.5 252.93,115.87 253.64,116.6 254.36,116.22 255.07,116.73 255.78,117.16 256.5,117.51 257.21,118.06 257.93,118.27 258.64,118.17 259.35,118.86 260.07,119.07 260.78,118.59 261.5,118.78 262.21,119.32 262.92,119.41 263.64,119.65 264.35,119.43 265.07,120.1 265.78,120.06 266.49,120.06 267.21,119.88 267.92,120.47 268.64,120.41 269.35,120.7 270.06,120.83 270.78,120.9 271.49,120.75 272.21,120.57 272.92,121.09 273.63,121.11 274.35,121.12 275.06,120.96 275.78,120.92 276.49,121.55 277.2,121.15 277.92,121.61 278.63,121.19 279.35,121.75 280.06,121.86 280.77,121.83 281.49,121.72 282.2,122.07 282.92,121.81 283.63,121.91 284.34,122.01 285.06,122.04 285.77,121.96 286.49,122.5 287.2,122.38 287.91,122.48 288.63,123.15 289.34,122.53 290.06,122.95 290.77,123.02 291.48,123.03 292.2,122.95 292.91,122.97 293.63,123 294.34,123.42 295.05,123.09 295.77,123.25 296.48,123.55 297.2,123.51 297.91,123.33 298.62,123.5 299.34,123.48 300.05,123.7 300.77,123.45 301.48,123.18 302.19,123.73 302.91,124.35 303.62,123.42 304.34,124.1 305.05,124.35 305.76,124.65 306.48,123.85 307.19,123.66 307.91,123.68 308.62,124.08 309.33,123.56 310.05,124 310.76,124.15 311.48,123.96 312.19,123.92 312.9,123.97 313.62,123.87 314.33,124.61 315.05,123.53 315.76,124.15" fill="none" stroke="#a57bf0" stroke-width="1.2" stroke-linejoin="round"/>
<polyline points="201.52,122.04 202.23,122.39 202.95,122.16 203.66,122.24 204.38,122.58 205.09,122.11 205.8,122.05 206.52,122.46 207.23,122.7 207.95,122.35 208.66,122.4 209.37,122.17 210.09,122.2 210.8,121.81 211.52,122.04 212.23,122.26 212.94,122.16 213.66,122.89 214.37,122.41 215.09,122.42 215.8,115.69 216.51,114.82 217.23,114.31 217.94,113.33 218.66,113.79 219.37,112.72 220.08,112.52 220.8,112.01 221.51,111.42 222.23,111.41 222.94,110.75 223.65,110.57 224.37,109.62 225.08,110 225.8,109.47 226.51,107.84 227.22,108.76 227.94,108.6 228.65,108.04 229.37,109.08 230.08,107.85 230.79,107.65 231.51,107.66 232.22,107.17 232.94,107.13 233.65,106.75 234.36,107.7 235.08,106.93 235.79,107.4 236.51,106.22 237.22,106.77 237.93,107.52 238.65,106.59 239.36,107.16 240.08,105.89 240.79,106.6 241.5,107.63 242.22,106.48 242.93,105.58 243.65,105.93 244.36,106.44 245.07,109.85 245.79,110.82 246.5,111.35 247.22,112.34 247.93,113.25 248.64,114.32 249.36,114.54 250.07,115.08 250.79,115.68 251.5,115.99 252.21,116.99 252.93,116.74 253.64,117.29 254.36,117.49 255.07,117.94 255.78,118.28 256.5,118.32 257.21,118.36 257.93,118.96 258.64,118.91 259.35,119.47 260.07,119.2 260.78,119.49 261.5,120.08 262.21,119.33 262.92,120.17 263.64,119.92 264.35,120.51 265.07,120.74 265.78,119.96 266.49,120.77 267.21,121.07 267.92,120.47 268.64,120.99 269.35,120.56 270.06,119.88 270.78,120.71 271.49,120.48 272.21,120.45 272.92,120.59 273.63,120.75 274.35,120.19 275.06,120.78 275.78,120.65 276.49,120.75 277.2,121.27 277.92,120.71 278.63,120.82 279.35,120.63 280.06,120.62 280.77,120.32 281.49,121.57 282.2,121.1 282.92,121.08 283.63,121.22 284.34,120.78 285.06,120.96 285.77,120.89 286.49,121.52 287.2,121.29 287.91,120.98 288.63,121.12 289.34,121.18 290.06,121.01 290.77,121.07 291.48,121.35 292.2,120.38 292.91,121.22 293.63,120.75 294.34,120.77 295.05,120.64 295.77,121.19 296.48,121.34 297.2,120.83 297.91,120.9 298.62,121.83 299.34,121.92 300.05,121.18 300.77,121.13 301.48,121.09 302.19,120.85 302.91,121.34 303.62,120.06 304.34,120.68 305.05,120.54 305.76,120.9 306.48,121.73 307.19,120.91 307.91,121.19 308.62,120.84 309.33,121.04 310.05,120.76 310.76,121.31 311.48,121.13 312.19,121 312.9,121.27 313.62,121.16 314.33,120.78 315.05,120.32 315.76,121.08" fill="none" stroke="#139f8c" stroke-width="1.2" stroke-linejoin="round"/>
<polyline points="201.52,122.04 202.23,122.41 202.95,122.28 203.66,122.14 204.38,122.09 205.09,122.39 205.8,122.08 206.52,122.17 207.23,121.95 207.95,122.02 208.66,122.09 209.37,122.27 210.09,122.15 210.8,122.36 211.52,122.35 212.23,122.55 212.94,122.44 213.66,122.44 214.37,122.22 215.09,122.18 215.8,122.23 216.51,121.3 217.23,120.74 217.94,120.19 218.66,120.38 219.37,119.97 220.08,119.99 220.8,119.14 221.51,120.08 222.23,119.02 222.94,120.03 223.65,117.94 224.37,118.13 225.08,119.39 225.8,118.49 226.51,118.76 227.22,118.78 227.94,118.01 228.65,118.11 229.37,117.09 230.08,117.72 230.79,117.89 231.51,117.31 232.22,116.99 232.94,116.7 233.65,116.77 234.36,117.64 235.08,117.25 235.79,116.88 236.51,117.12 237.22,116.32 237.93,116.77 238.65,116.59 239.36,116.68 240.08,116.44 240.79,117.12 241.5,115.39 242.22,116.6 242.93,116.64 243.65,117.1 244.36,116.27 245.07,117.33 245.79,116.75 246.5,116.42 247.22,116.54 247.93,116.83 248.64,116.38 249.36,116.85 250.07,116.86 250.79,116.85 251.5,116.99 252.21,116.68 252.93,117.05 253.64,117.07 254.36,116.05 255.07,116.39 255.78,116.05 256.5,115.62 257.21,115.61 257.93,115.61 258.64,115.19 259.35,115.3 260.07,114.81 260.78,115.04 261.5,114.99 262.21,114.74 262.92,115.46 263.64,115.54 264.35,115.03 265.07,115 265.78,115.44 266.49,115.75 267.21,115.26 267.92,115.48 268.64,115.32 269.35,116.06 270.06,115.5 270.78,115.64 271.49,115.54 272.21,114.96 272.92,114.82 273.63,115.08 274.35,114.99 275.06,114.53 275.78,114.78 276.49,115.07 277.2,115 277.92,115.23 278.63,115.88 279.35,116.06 280.06,116.32 280.77,116.78 281.49,117.86 282.2,118.32 282.92,118.8 283.63,119.55 284.34,119.24 285.06,119.77 285.77,119.79 286.49,120.92 287.2,120.55 287.91,119.78 288.63,120.7 289.34,120.86 290.06,120.37 290.77,120.09 291.48,120.47 292.2,121.04 292.91,120.72 293.63,120.84 294.34,120.92 295.05,120.9 295.77,120.74 296.48,120.58 297.2,120.42 297.91,120.4 298.62,120.62 299.34,120.99 300.05,120.22 300.77,120.74 301.48,119.65 302.19,120.63 302.91,120.88 303.62,120.96 304.34,120.44 305.05,120.58 305.76,120.6 306.48,120.81 307.19,121.18 307.91,120.77 308.62,121.2 309.33,121.39 310.05,120.64 310.76,120.64 311.48,120.94 312.19,120.63 312.9,120.16 313.62,120.1 314.33,120.61 315.05,119.98 315.76,121.04" fill="none" stroke="#f6b73c" stroke-width="1.2" stroke-linejoin="round"/>
<polyline points="215.8,121.6 215.8,129.37 216.04,113.23" fill="none" stroke="#a57bf0" stroke-width="1" stroke-linejoin="round"/>
<polyline points="215.8,66.63 215.8,55.88 216.16,64.24" fill="none" stroke="#ec2f6b" stroke-width="1" stroke-linejoin="round"/>
<polyline points="244.12,33.17 244.36,26.6 244.48,102.48" fill="none" stroke="#ec2f6b" stroke-width="1" stroke-linejoin="round"/>
<polyline points="201.52,121.6 215.8,121.6 215.8,79.78 216.51,72.98 217.23,67.31 217.94,62.57 218.66,58.62 219.37,55.31 220.08,52.55 220.8,50.24 221.51,48.32 222.23,46.71 222.94,45.36 223.65,44.24 224.37,43.3 225.08,42.52 225.8,41.86 226.51,41.32 227.22,40.86 227.94,40.48 228.65,40.16 229.37,39.9 230.08,39.67 230.79,39.49 231.51,39.33 232.22,39.2 232.94,39.1 233.65,39.01 234.36,38.93 235.08,38.87 235.79,38.81 236.51,38.77 237.22,38.73 237.93,38.7 238.65,38.68 239.36,38.66 240.08,38.64 240.79,38.62 241.5,38.61 242.22,38.6 242.93,38.59 243.65,38.58 244.36,38.58 244.36,103.67 244.36,103.67 245.55,105.78 246.74,107.64 247.93,109.28 249.12,110.73 250.31,112.01 251.5,113.13 252.69,114.13 253.88,115.01 255.07,115.78 256.26,116.46 257.45,117.07 258.64,117.6 259.83,118.07 261.02,118.49 262.21,118.85 263.4,119.17 264.59,119.46 265.78,119.71 266.97,119.93 268.16,120.13 269.35,120.3 270.54,120.45 271.73,120.59 272.92,120.71 274.11,120.81 275.3,120.9 276.49,120.99 277.68,121.06 278.87,121.12 280.06,121.18 281.25,121.23 282.44,121.27 283.63,121.31 284.82,121.34 286.01,121.37 287.2,121.4 288.39,121.42 289.58,121.44 290.77,121.46 291.96,121.48 293.15,121.49 294.34,121.51 295.53,121.52 296.72,121.53 297.91,121.54 299.1,121.54 300.29,121.55 301.48,121.56 302.67,121.56 303.86,121.57 305.05,121.57 306.24,121.57 307.43,121.58 308.62,121.58 309.81,121.58 311,121.58 312.19,121.59 313.38,121.59 314.57,121.59 315.76,121.59" fill="none" stroke="#111" stroke-width="0.9" stroke-linejoin="round"/>
<polyline points="201.52,121.6 215.8,121.6 215.8,97.7 216.51,95.35 217.23,93.24 217.94,91.34 218.66,89.63 219.37,88.08 220.08,86.7 220.8,85.45 221.51,84.32 222.23,83.31 222.94,82.4 223.65,81.58 224.37,80.84 225.08,80.17 225.8,79.57 226.51,79.03 227.22,78.55 227.94,78.11 228.65,77.71 229.37,77.36 230.08,77.04 230.79,76.75 231.51,76.5 232.22,76.26 232.94,76.05 233.65,75.86 234.36,75.69 235.08,75.54 235.79,75.4 236.51,75.28 237.22,75.17 237.93,75.07 238.65,74.98 239.36,74.89 240.08,74.82 240.79,74.76 241.5,74.7 242.22,74.64 242.93,74.59 243.65,74.55 244.36,74.51 244.36,97.7 244.36,97.7 245.55,99.65 246.74,101.44 247.93,103.08 249.12,104.59 250.31,105.97 251.5,107.25 252.69,108.42 253.88,109.49 255.07,110.48 256.26,111.38 257.45,112.22 258.64,112.98 259.83,113.68 261.02,114.33 262.21,114.92 263.4,115.47 264.59,115.97 265.78,116.42 266.97,116.85 268.16,117.23 269.35,117.59 270.54,117.92 271.73,118.22 272.92,118.49 274.11,118.75 275.3,118.98 276.49,119.19 277.68,119.39 278.87,119.57 280.06,119.73 281.25,119.89 282.44,120.03 283.63,120.15 284.82,120.27 286.01,120.38 287.2,120.48 288.39,120.57 289.58,120.65 290.77,120.73 291.96,120.8 293.15,120.87 294.34,120.93 295.53,120.98 296.72,121.03 297.91,121.08 299.1,121.12 300.29,121.16 301.48,121.2 302.67,121.23 303.86,121.26 305.05,121.29 306.24,121.31 307.43,121.34 308.62,121.36 309.81,121.38 311,121.4 312.19,121.41 313.38,121.43 314.57,121.44 315.76,121.45" fill="none" stroke="#111" stroke-width="0.9" stroke-linejoin="round"/>
<polyline points="201.52,121.6 215.8,121.6 215.8,113.23 216.51,112.03 217.23,110.9 217.94,109.86 218.66,108.9 219.37,108 220.08,107.17 220.8,106.4 221.51,105.69 222.23,105.02 222.94,104.41 223.65,103.84 224.37,103.31 225.08,102.82 225.8,102.36 226.51,101.94 227.22,101.54 227.94,101.18 228.65,100.84 229.37,100.53 230.08,100.24 230.79,99.97 231.51,99.72 232.22,99.49 232.94,99.27 233.65,99.07 234.36,98.89 235.08,98.71 235.79,98.55 236.51,98.41 237.22,98.27 237.93,98.14 238.65,98.02 239.36,97.91 240.08,97.81 240.79,97.72 241.5,97.63 242.22,97.55 242.93,97.47 243.65,97.4 244.36,97.34 244.36,107.26 244.36,107.26 245.55,108.75 246.74,110.09 247.93,111.29 249.12,112.36 250.31,113.33 251.5,114.19 252.69,114.96 253.88,115.65 255.07,116.27 256.26,116.83 257.45,117.32 258.64,117.77 259.83,118.17 261.02,118.53 262.21,118.85 263.4,119.13 264.59,119.39 265.78,119.62 266.97,119.83 268.16,120.01 269.35,120.18 270.54,120.32 271.73,120.46 272.92,120.58 274.11,120.68 275.3,120.78 276.49,120.86 277.68,120.94 278.87,121.01 280.06,121.07 281.25,121.13 282.44,121.18 283.63,121.22 284.82,121.26 286.01,121.29 287.2,121.33 288.39,121.36 289.58,121.38 290.77,121.4 291.96,121.42 293.15,121.44 294.34,121.46 295.53,121.47 296.72,121.49 297.91,121.5 299.1,121.51 300.29,121.52 301.48,121.53 302.67,121.53 303.86,121.54 305.05,121.55 306.24,121.55 307.43,121.56 308.62,121.56 309.81,121.57 311,121.57 312.19,121.57 313.38,121.58 314.57,121.58 315.76,121.58" fill="none" stroke="#111" stroke-width="0.9" stroke-linejoin="round"/>
<polyline points="201.52,121.6 215.8,121.6 215.8,116.22 216.51,115.67 217.23,115.14 217.94,114.65 218.66,114.18 219.37,113.74 220.08,113.33 220.8,112.94 221.51,112.58 222.23,112.23 222.94,111.91 223.65,111.6 224.37,111.32 225.08,111.04 225.8,110.79 226.51,110.55 227.22,110.32 227.94,110.11 228.65,109.91 229.37,109.72 230.08,109.54 230.79,109.37 231.51,109.22 232.22,109.07 232.94,108.93 233.65,108.8 234.36,108.67 235.08,108.55 235.79,108.44 236.51,108.34 237.22,108.24 237.93,108.15 238.65,108.06 239.36,107.98 240.08,107.91 240.79,107.83 241.5,107.77 242.22,107.7 242.93,107.64 243.65,107.58 244.36,107.53 244.36,110.84 244.36,110.84 245.55,111.87 246.74,112.79 247.93,113.63 249.12,114.39 250.31,115.08 251.5,115.7 252.69,116.26 253.88,116.77 255.07,117.23 256.26,117.64 257.45,118.02 258.64,118.36 259.83,118.67 261.02,118.95 262.21,119.2 263.4,119.43 264.59,119.64 265.78,119.82 266.97,119.99 268.16,120.14 269.35,120.28 270.54,120.41 271.73,120.52 272.92,120.62 274.11,120.72 275.3,120.8 276.49,120.88 277.68,120.95 278.87,121.01 280.06,121.06 281.25,121.12 282.44,121.16 283.63,121.2 284.82,121.24 286.01,121.28 287.2,121.31 288.39,121.33 289.58,121.36 290.77,121.38 291.96,121.4 293.15,121.42 294.34,121.44 295.53,121.45 296.72,121.47 297.91,121.48 299.1,121.49 300.29,121.5 301.48,121.51 302.67,121.52 303.86,121.53 305.05,121.53 306.24,121.54 307.43,121.55 308.62,121.55 309.81,121.56 311,121.56 312.19,121.56 313.38,121.57 314.57,121.57 315.76,121.57" fill="none" stroke="#111" stroke-width="0.9" stroke-linejoin="round"/>
<polyline points="201.52,121.6 215.8,121.6 215.8,121.6 216.51,121.36 217.23,121.14 217.94,120.92 218.66,120.71 219.37,120.52 220.08,120.33 220.8,120.15 221.51,119.97 222.23,119.81 222.94,119.65 223.65,119.5 224.37,119.36 225.08,119.22 225.8,119.09 226.51,118.96 227.22,118.84 227.94,118.72 228.65,118.61 229.37,118.51 230.08,118.41 230.79,118.31 231.51,118.22 232.22,118.13 232.94,118.05 233.65,117.97 234.36,117.89 235.08,117.82 235.79,117.75 236.51,117.68 237.22,117.62 237.93,117.56 238.65,117.5 239.36,117.44 240.08,117.39 240.79,117.34 241.5,117.29 242.22,117.24 242.93,117.2 243.65,117.15 244.36,117.11 244.36,117.42 244.36,117.42 245.55,117.72 246.74,118 247.93,118.26 249.12,118.5 250.31,118.73 251.5,118.93 252.69,119.13 253.88,119.3 255.07,119.47 256.26,119.62 257.45,119.77 258.64,119.9 259.83,120.02 261.02,120.14 262.21,120.24 263.4,120.34 264.59,120.43 265.78,120.52 266.97,120.59 268.16,120.67 269.35,120.73 270.54,120.8 271.73,120.85 272.92,120.91 274.11,120.96 275.3,121 276.49,121.05 277.68,121.09 278.87,121.12 280.06,121.16 281.25,121.19 282.44,121.22 283.63,121.25 284.82,121.27 286.01,121.3 287.2,121.32 288.39,121.34 289.58,121.36 290.77,121.38 291.96,121.39 293.15,121.41 294.34,121.42 295.53,121.43 296.72,121.45 297.91,121.46 299.1,121.47 300.29,121.48 301.48,121.49 302.67,121.49 303.86,121.5 305.05,121.51 306.24,121.52 307.43,121.52 308.62,121.53 309.81,121.53 311,121.54 312.19,121.54 313.38,121.55 314.57,121.55 315.76,121.55" fill="none" stroke="#111" stroke-width="0.9" stroke-linejoin="round"/>
<line x1="282.9" y1="36.2" x2="289.8" y2="36.2" stroke="#ec2f6b" stroke-width="1.8"/>
<text transform="translate(291.8 38.8)" font-size="7.4" fill="#111">50 µM</text>
<line x1="282.9" y1="44.85" x2="289.8" y2="44.85" stroke="#55c5f2" stroke-width="1.8"/>
<text transform="translate(291.8 47.45)" font-size="7.4" fill="#111">20 µM</text>
<line x1="282.9" y1="53.5" x2="289.8" y2="53.5" stroke="#a57bf0" stroke-width="1.8"/>
<text transform="translate(291.8 56.1)" font-size="7.4" fill="#111">12.5 µM</text>
<line x1="282.9" y1="62.15" x2="289.8" y2="62.15" stroke="#139f8c" stroke-width="1.8"/>
<text transform="translate(291.8 64.75)" font-size="7.4" fill="#111">6.25 µM</text>
<line x1="282.9" y1="70.8" x2="289.8" y2="70.8" stroke="#f6b73c" stroke-width="1.8"/>
<text transform="translate(291.8 73.4)" font-size="7.4" fill="#111">3.125 µM</text>
<text transform="translate(273.8 100.6)" font-size="7.8" font-weight="bold">K<tspan font-size="5" dy="1.6">d</tspan><tspan dy="-1.6"> = 25 µM</tspan></text>
<rect x="365.1" y="19" width="67.6" height="50.6" fill="#edf0ea"/>
<g filter="url(#soft)">
<rect x="365.1" y="19" width="67.6" height="50.6" fill="url(#p1)"/>
<rect x="365.1" y="19" width="67.6" height="50.6" fill="url(#p2)"/>
<rect x="365.1" y="19" width="67.6" height="50.6" fill="url(#p3)"/>
</g>
<line x1="423.9" y1="65.4" x2="428.8" y2="65.4" stroke="#111" stroke-width="1"/>
<rect x="365.1" y="19" width="67.6" height="50.6" fill="none" stroke="#333" stroke-width="0.9"/>
<rect x="435.4" y="19" width="66.9" height="50.6" fill="#eaede7"/>
<g filter="url(#soft)">
<rect x="435.4" y="19" width="66.9" height="50.6" fill="url(#p4)"/>
<rect x="435.4" y="19" width="66.9" height="50.6" fill="url(#p5)"/>
<rect x="435.4" y="19" width="66.9" height="50.6" fill="url(#p6)"/>
<rect x="435.4" y="19" width="66.9" height="50.6" fill="url(#p7)"/>
</g>
<line x1="493.5" y1="65.4" x2="498.4" y2="65.4" stroke="#111" stroke-width="1"/>
<rect x="435.4" y="19" width="66.9" height="50.6" fill="none" stroke="#333" stroke-width="0.9"/>
<rect x="365.1" y="83.2" width="67.6" height="50.4" fill="#cacaca"/>
<rect x="365.1" y="83.2" width="67.6" height="50.4" fill="url(#gC1)"/>
<g filter="url(#soft)">
<rect x="365.1" y="83.2" width="67.6" height="50.4" fill="url(#p8)"/>
</g>
<line x1="423.9" y1="129.4" x2="428.8" y2="129.4" stroke="#111" stroke-width="1"/>
<rect x="365.1" y="83.2" width="67.6" height="50.4" fill="none" stroke="#333" stroke-width="0.9"/>
<rect x="435.4" y="83.2" width="66.9" height="50.4" fill="#c8c8c8"/>
<rect x="435.4" y="83.2" width="66.9" height="50.4" fill="url(#gEET)"/>
<g filter="url(#soft)">
<rect x="435.4" y="83.2" width="66.9" height="50.4" fill="url(#p9)"/>
<rect x="435.4" y="83.2" width="66.9" height="50.4" fill="url(#p10)"/>
</g>
<line x1="493.5" y1="129.4" x2="498.4" y2="129.4" stroke="#111" stroke-width="1"/>
<rect x="435.4" y="83.2" width="66.9" height="50.4" fill="none" stroke="#333" stroke-width="0.9"/>
<rect x="388.9" y="11.4" width="8" height="5.4" fill="#4fc0ef"/>
<text transform="translate(399.9 16.8)" font-size="6.6" font-weight="bold">NC</text>
<rect x="447.5" y="11.4" width="8.5" height="5.4" fill="#e23560"/>
<text transform="translate(457.7 16.8)" font-size="6.6" font-weight="bold">11,12-EET</text>
<rect x="388.9" y="75.5" width="8" height="5.6" fill="#4fc0ef"/>
<text transform="translate(399.9 81.1)" font-size="6.6" font-weight="bold">NC</text>
<rect x="447.5" y="75.5" width="8.5" height="5.6" fill="#e23560"/>
<text transform="translate(457.7 81.1)" font-size="6.6" font-weight="bold">11,12-EET</text>
<text transform="translate(362.5 44.3) rotate(-90)" font-size="8.3" font-weight="bold" text-anchor="middle">HUVEC</text>
<text transform="translate(362.5 108.5) rotate(-90)" font-size="8.3" font-weight="bold" text-anchor="middle">HUVEC</text>
<line x1="524.5" y1="23.5" x2="524.5" y2="69.6" stroke="#222" stroke-width="0.9"/>
<line x1="524.5" y1="69.6" x2="550.2" y2="69.6" stroke="#222" stroke-width="0.9"/>
<line x1="522.3" y1="25.5" x2="524.5" y2="25.5" stroke="#222" stroke-width="0.8"/>
<text transform="translate(521.4 27.62)" font-size="5.9" text-anchor="end" fill="#111">600</text>
<line x1="522.3" y1="39.4" x2="524.5" y2="39.4" stroke="#222" stroke-width="0.8"/>
<text transform="translate(521.4 41.52)" font-size="5.9" text-anchor="end" fill="#111">400</text>
<line x1="522.3" y1="53.6" x2="524.5" y2="53.6" stroke="#222" stroke-width="0.8"/>
<text transform="translate(521.4 55.72)" font-size="5.9" text-anchor="end" fill="#111">200</text>
<line x1="522.3" y1="67.6" x2="524.5" y2="67.6" stroke="#222" stroke-width="0.8"/>
<text transform="translate(521.4 69.72)" font-size="5.9" text-anchor="end" fill="#111">0</text>
<rect x="529.2" y="54.9" width="6.9" height="12.7" fill="#4fc0ef"/>
<rect x="539.2" y="37.8" width="6.7" height="29.8" fill="#e23560"/>
<line x1="532.6" y1="52.4" x2="532.6" y2="57.4" stroke="#111" stroke-width="0.8"/>
<line x1="530.4" y1="52.4" x2="534.8" y2="52.4" stroke="#111" stroke-width="0.8"/>
<circle cx="533.1" cy="52.4" r="1.1" fill="none" stroke="#111" stroke-width="0.7"/>
<circle cx="532.1" cy="55.2" r="1.1" fill="none" stroke="#111" stroke-width="0.7"/>
<circle cx="533.3" cy="56.4" r="1.1" fill="none" stroke="#111" stroke-width="0.7"/>
<line x1="542.6" y1="34.3" x2="542.6" y2="41.3" stroke="#111" stroke-width="0.8"/>
<line x1="540.4" y1="34.3" x2="544.8" y2="34.3" stroke="#111" stroke-width="0.8"/>
<circle cx="542.9" cy="33.8" r="1.1" fill="none" stroke="#111" stroke-width="0.7"/>
<circle cx="542.1" cy="38.8" r="1.1" fill="none" stroke="#111" stroke-width="0.7"/>
<circle cx="543.4" cy="40.3" r="1.1" fill="none" stroke="#111" stroke-width="0.7"/>
<text transform="translate(535.6 19)" font-size="7.1" font-weight="bold" text-anchor="middle">Migrating</text>
<text transform="translate(537.4 31.02)" font-size="10.2" font-weight="bold" text-anchor="middle">**</text>
<text transform="translate(510.5 45) rotate(-90)" font-size="7.1" font-weight="bold" text-anchor="middle">Numbers</text>
<line x1="524.5" y1="87.1" x2="524.5" y2="134.2" stroke="#222" stroke-width="0.9"/>
<line x1="524.5" y1="134.2" x2="550.6" y2="134.2" stroke="#222" stroke-width="0.9"/>
<line x1="522.3" y1="95.4" x2="524.5" y2="95.4" stroke="#222" stroke-width="0.8"/>
<text transform="translate(521.4 97.52)" font-size="5.9" text-anchor="end" fill="#111">60</text>
<line x1="522.3" y1="107.4" x2="524.5" y2="107.4" stroke="#222" stroke-width="0.8"/>
<text transform="translate(521.4 109.52)" font-size="5.9" text-anchor="end" fill="#111">40</text>
<line x1="522.3" y1="119.5" x2="524.5" y2="119.5" stroke="#222" stroke-width="0.8"/>
<text transform="translate(521.4 121.62)" font-size="5.9" text-anchor="end" fill="#111">20</text>
<line x1="522.3" y1="131.6" x2="524.5" y2="131.6" stroke="#222" stroke-width="0.8"/>
<text transform="translate(521.4 133.72)" font-size="5.9" text-anchor="end" fill="#111">0</text>
<rect x="529.2" y="122.1" width="6.9" height="9.5" fill="#4fc0ef"/>
<rect x="539.2" y="102.8" width="6.7" height="28.8" fill="#e23560"/>
<line x1="532.6" y1="119.6" x2="532.6" y2="124.6" stroke="#111" stroke-width="0.8"/>
<line x1="530.4" y1="119.6" x2="534.8" y2="119.6" stroke="#111" stroke-width="0.8"/>
<circle cx="533.1" cy="119.6" r="1.1" fill="none" stroke="#111" stroke-width="0.7"/>
<circle cx="532.1" cy="123.6" r="1.1" fill="none" stroke="#111" stroke-width="0.7"/>
<circle cx="532.9" cy="125.6" r="1.1" fill="none" stroke="#111" stroke-width="0.7"/>
<line x1="542.6" y1="99.8" x2="542.6" y2="105.8" stroke="#111" stroke-width="0.8"/>
<line x1="540.4" y1="99.8" x2="544.8" y2="99.8" stroke="#111" stroke-width="0.8"/>
<circle cx="542.9" cy="97.3" r="1.1" fill="none" stroke="#111" stroke-width="0.7"/>
<circle cx="542.1" cy="104.8" r="1.1" fill="none" stroke="#111" stroke-width="0.7"/>
<circle cx="543.1" cy="105.3" r="1.1" fill="none" stroke="#111" stroke-width="0.7"/>
<text transform="translate(535.6 84.5)" font-size="7.2" font-weight="bold" text-anchor="middle">Branches</text>
<text transform="translate(537.4 96.02)" font-size="10.2" font-weight="bold" text-anchor="middle">**</text>
<text transform="translate(510.5 109.5) rotate(-90)" font-size="7.1" font-weight="bold" text-anchor="middle">Numbers</text>
<line x1="583.1" y1="32.6" x2="583.1" y2="99.7" stroke="#9a9a9a" stroke-width="1.4"/>
<text transform="translate(580.2 65.7) rotate(-90)" font-size="8.6" font-weight="bold" text-anchor="middle">HUVEC</text>
<g clip-path="url(#blotclip)">
<rect x="624.1" y="32.1" width="36.2" height="9.7" fill="#d8d8d8"/>
<g filter="url(#bblur)">
<rect x="626.3" y="34.53" width="14.9" height="4.85" rx="2.42" fill="#0e0e0e"/>
<rect x="643" y="34.53" width="15.2" height="4.85" rx="2.42" fill="#0e0e0e"/>
</g>
<rect x="624.1" y="46.5" width="36.2" height="10.4" fill="#d2d2d2"/>
<g filter="url(#bblur)">
<rect x="626" y="49.83" width="14.5" height="3.74" rx="1.87" fill="#8c8c8c"/>
<rect x="643.2" y="49.83" width="14.8" height="3.74" rx="1.87" fill="#7a7a7a"/>
</g>
<rect x="624.1" y="61.1" width="36.2" height="10.1" fill="#a2a2a2"/>
<g filter="url(#bblur)">
<rect x="625" y="61.61" width="6" height="9.09" rx="3" fill="#b4b4b4"/>
<rect x="633" y="62.87" width="8" height="6.57" rx="3" fill="#383838"/>
<rect x="646" y="62.62" width="10" height="7.07" rx="3" fill="#222"/>
<rect x="641.5" y="61.61" width="3" height="9.09" rx="3" fill="#9a9a9a"/>
</g>
<rect x="624.1" y="75.9" width="36.2" height="9.5" fill="#c4c4c4"/>
<g filter="url(#bblur)">
<rect x="625" y="76.61" width="15" height="8.07" rx="3" fill="#121212"/>
<rect x="644.3" y="76.61" width="15.7" height="8.07" rx="3" fill="#0c0c0c"/>
</g>
<rect x="624.1" y="90.1" width="36.2" height="9.6" fill="#b8b8b8"/>
<g filter="url(#bblur)">
<rect x="625" y="91.06" width="8" height="7.68" rx="3" fill="#1e1e1e"/>
<rect x="632" y="91.3" width="6.5" height="7.2" rx="3" fill="#5a5a5a"/>
<rect x="639.5" y="90.1" width="5" height="9.6" rx="3" fill="#e2e2e2"/>
<rect x="645" y="90.82" width="15" height="8.16" rx="3" fill="#060606"/>
</g>
</g>
<rect x="624.1" y="32.1" width="36.2" height="9.7" fill="none" stroke="#1a1a1a" stroke-width="0.9"/>
<text transform="translate(605 39.85) scale(0.93 1)" font-size="8" font-weight="bold" text-anchor="middle">β-actin</text>
<text transform="translate(661.2 39.15)" font-size="6" font-weight="bold">43 kDa</text>
<rect x="624.1" y="46.5" width="36.2" height="10.4" fill="none" stroke="#1a1a1a" stroke-width="0.9"/>
<text transform="translate(605 54.6) scale(0.93 1)" font-size="8" font-weight="bold" text-anchor="middle">VEGFR2</text>
<text transform="translate(661.2 53.9)" font-size="6" font-weight="bold">230 kDa</text>
<rect x="624.1" y="61.1" width="36.2" height="10.1" fill="none" stroke="#1a1a1a" stroke-width="0.9"/>
<text transform="translate(605 69.05) scale(0.93 1)" font-size="8" font-weight="bold" text-anchor="middle">p-VEGFR2</text>
<text transform="translate(661.2 68.35)" font-size="6" font-weight="bold">230 kDa</text>
<rect x="624.1" y="75.9" width="36.2" height="9.5" fill="none" stroke="#1a1a1a" stroke-width="0.9"/>
<text transform="translate(605 83.55) scale(0.93 1)" font-size="8" font-weight="bold" text-anchor="middle">EGFR</text>
<text transform="translate(661.2 82.85)" font-size="6" font-weight="bold">175 kDa</text>
<rect x="624.1" y="90.1" width="36.2" height="9.6" fill="none" stroke="#1a1a1a" stroke-width="0.9"/>
<text transform="translate(605 97.8) scale(0.93 1)" font-size="8" font-weight="bold" text-anchor="middle">p-EGFR</text>
<text transform="translate(661.2 97.1)" font-size="6" font-weight="bold">175 kDa</text>
<text transform="translate(628 115.6) rotate(-45) scale(0.93 1)" font-size="7.7" font-weight="bold">Ctrl</text>
<text transform="translate(630.6 130.4) rotate(-45)" font-size="7.5" font-weight="bold">11,12-EET</text>
<rect x="30.7" y="181" width="75.6" height="56.5" fill="#d2cede"/>
<g filter="url(#soft)">
<rect x="30.7" y="181" width="75.6" height="56.5" fill="url(#p11)"/>
<rect x="30.7" y="181" width="75.6" height="56.5" fill="url(#p12)"/>
</g>
<line x1="94.8" y1="233.7" x2="100.1" y2="233.7" stroke="#333" stroke-width="1"/>
<rect x="30.7" y="181" width="75.6" height="56.5" fill="none" stroke="#444" stroke-width="1"/>
<rect x="108.2" y="181" width="76.2" height="56.5" fill="#d3d1df"/>
<g filter="url(#soft)">
<rect x="108.2" y="181" width="76.2" height="56.5" fill="url(#p13)"/>
<rect x="108.2" y="181" width="76.2" height="56.5" fill="url(#p14)"/>
</g>
<line x1="172.9" y1="233.7" x2="178.2" y2="233.7" stroke="#333" stroke-width="1"/>
<rect x="108.2" y="181" width="76.2" height="56.5" fill="none" stroke="#444" stroke-width="1"/>
<rect x="186.1" y="181" width="76.5" height="56.5" fill="#d2cfdf"/>
<g filter="url(#soft)">
<rect x="186.1" y="181" width="76.5" height="56.5" fill="url(#p15)"/>
<rect x="186.1" y="181" width="76.5" height="56.5" fill="url(#p16)"/>
</g>
<line x1="251.1" y1="233.7" x2="256.4" y2="233.7" stroke="#333" stroke-width="1"/>
<rect x="186.1" y="181" width="76.5" height="56.5" fill="none" stroke="#444" stroke-width="1"/>
<rect x="30.7" y="240.7" width="75.6" height="56.9" fill="#c4bee0"/>
<g filter="url(#soft)">
<rect x="30.7" y="240.7" width="75.6" height="56.9" fill="url(#p17)"/>
<rect x="30.7" y="240.7" width="75.6" height="56.9" fill="url(#p18)"/>
</g>
<line x1="94.8" y1="293.8" x2="100.1" y2="293.8" stroke="#333" stroke-width="1"/>
<rect x="30.7" y="240.7" width="75.6" height="56.9" fill="none" stroke="#444" stroke-width="1"/>
<rect x="108.2" y="240.7" width="76.2" height="56.9" fill="#cac7dd"/>
<g filter="url(#soft)">
<rect x="108.2" y="240.7" width="76.2" height="56.9" fill="url(#p19)"/>
<rect x="108.2" y="240.7" width="76.2" height="56.9" fill="url(#p20)"/>
</g>
<line x1="172.9" y1="293.8" x2="178.2" y2="293.8" stroke="#333" stroke-width="1"/>
<rect x="108.2" y="240.7" width="76.2" height="56.9" fill="none" stroke="#444" stroke-width="1"/>
<rect x="186.1" y="240.7" width="76.5" height="56.9" fill="#cdcade"/>
<g filter="url(#soft)">
<rect x="186.1" y="240.7" width="76.5" height="56.9" fill="url(#p21)"/>
<rect x="186.1" y="240.7" width="76.5" height="56.9" fill="url(#p22)"/>
</g>
<line x1="251.1" y1="293.8" x2="256.4" y2="293.8" stroke="#333" stroke-width="1"/>
<rect x="186.1" y="240.7" width="76.5" height="56.9" fill="none" stroke="#444" stroke-width="1"/>
<rect x="52.2" y="173" width="8.8" height="6.2" fill="#4fc0ef"/>
<text transform="translate(62.7 179.2)" font-size="8.1" font-weight="bold">shNC</text>
<rect x="134" y="173" width="8.7" height="6.2" fill="#e23560"/>
<text transform="translate(144.4 179.2)" font-size="8.1" font-weight="bold">sh1</text>
<rect x="211.7" y="173" width="9.2" height="6.2" fill="#f88577"/>
<text transform="translate(222.6 179.2)" font-size="8.1" font-weight="bold">sh2</text>
<line x1="17" y1="184.6" x2="17" y2="291.8" stroke="#111" stroke-width="0.9"/>
<text transform="translate(27.3 209.2) rotate(-90)" font-size="8.3" font-weight="bold" text-anchor="middle">MHCC97H</text>
<text transform="translate(27.3 269.5) rotate(-90)" font-size="8.4" font-weight="bold" text-anchor="middle">HCCLM3</text>
<text transform="translate(14 237.9) rotate(-90)" font-size="8.4" font-weight="bold" text-anchor="middle">HUVEC co-culturation</text>
<line x1="288.4" y1="186.2" x2="288.4" y2="237.3" stroke="#222" stroke-width="0.9"/>
<line x1="288.4" y1="237.3" x2="328.5" y2="237.3" stroke="#222" stroke-width="0.9"/>
<line x1="286.2" y1="194.7" x2="288.4" y2="194.7" stroke="#222" stroke-width="0.8"/>
<text transform="translate(285.3 196.82)" font-size="5.9" text-anchor="end" fill="#111">400</text>
<line x1="286.2" y1="205.3" x2="288.4" y2="205.3" stroke="#222" stroke-width="0.8"/>
<text transform="translate(285.3 207.42)" font-size="5.9" text-anchor="end" fill="#111">300</text>
<line x1="286.2" y1="216" x2="288.4" y2="216" stroke="#222" stroke-width="0.8"/>
<text transform="translate(285.3 218.12)" font-size="5.9" text-anchor="end" fill="#111">200</text>
<line x1="286.2" y1="226.5" x2="288.4" y2="226.5" stroke="#222" stroke-width="0.8"/>
<text transform="translate(285.3 228.62)" font-size="5.9" text-anchor="end" fill="#111">100</text>
<line x1="286.2" y1="237.3" x2="288.4" y2="237.3" stroke="#222" stroke-width="0.8"/>
<text transform="translate(285.3 239.42)" font-size="5.9" text-anchor="end" fill="#111">0</text>
<rect x="291.5" y="198" width="9.6" height="39" fill="#4fc0ef"/>
<rect x="303" y="212.9" width="9.5" height="24.1" fill="#e23560"/>
<rect x="314.3" y="204.6" width="9.6" height="32.4" fill="#f88577"/>
<line x1="296.3" y1="197" x2="296.3" y2="199" stroke="#111" stroke-width="0.8"/>
<line x1="294.1" y1="197" x2="298.5" y2="197" stroke="#111" stroke-width="0.8"/>
<circle cx="295.3" cy="198.3" r="1.1" fill="none" stroke="#111" stroke-width="0.7"/>
<circle cx="296.9" cy="197.5" r="1.1" fill="none" stroke="#111" stroke-width="0.7"/>
<circle cx="297.8" cy="198.5" r="1.1" fill="none" stroke="#111" stroke-width="0.7"/>
<line x1="307.7" y1="210.4" x2="307.7" y2="215.4" stroke="#111" stroke-width="0.8"/>
<line x1="305.5" y1="210.4" x2="309.9" y2="210.4" stroke="#111" stroke-width="0.8"/>
<circle cx="308.2" cy="210.4" r="1.1" fill="none" stroke="#111" stroke-width="0.7"/>
<circle cx="306.9" cy="214.9" r="1.1" fill="none" stroke="#111" stroke-width="0.7"/>
<circle cx="308" cy="213.9" r="1.1" fill="none" stroke="#111" stroke-width="0.7"/>
<line x1="319.1" y1="202.6" x2="319.1" y2="206.6" stroke="#111" stroke-width="0.8"/>
<line x1="316.9" y1="202.6" x2="321.3" y2="202.6" stroke="#111" stroke-width="0.8"/>
<circle cx="318.1" cy="203.6" r="1.1" fill="none" stroke="#111" stroke-width="0.7"/>
<circle cx="320.6" cy="205.1" r="1.1" fill="none" stroke="#111" stroke-width="0.7"/>
<circle cx="321.4" cy="207.1" r="1.1" fill="none" stroke="#111" stroke-width="0.7"/>
<text transform="translate(307.2 176.4)" font-size="7.3" font-weight="bold" text-anchor="middle">Migrating HUVEC</text>
<line x1="296" y1="186.2" x2="319" y2="186.2" stroke="#111" stroke-width="0.8"/>
<text transform="translate(307.5 189.45)" font-size="14" font-weight="bold" text-anchor="middle">*</text>
<line x1="292.7" y1="193.8" x2="307.9" y2="193.8" stroke="#111" stroke-width="0.8"/>
<text transform="translate(300.3 197.05)" font-size="14" font-weight="bold" text-anchor="middle">***</text>
<text transform="translate(272.4 211) rotate(-90)" font-size="8.2" font-weight="bold" text-anchor="middle">Numbers</text>
<line x1="288.6" y1="246.7" x2="288.6" y2="297.5" stroke="#222" stroke-width="0.9"/>
<line x1="288.6" y1="297.5" x2="328.5" y2="297.5" stroke="#222" stroke-width="0.9"/>
<line x1="286.4" y1="255.6" x2="288.6" y2="255.6" stroke="#222" stroke-width="0.8"/>
<text transform="translate(285.5 257.72)" font-size="5.9" text-anchor="end" fill="#111">600</text>
<line x1="286.4" y1="269.8" x2="288.6" y2="269.8" stroke="#222" stroke-width="0.8"/>
<text transform="translate(285.5 271.92)" font-size="5.9" text-anchor="end" fill="#111">400</text>
<line x1="286.4" y1="283.8" x2="288.6" y2="283.8" stroke="#222" stroke-width="0.8"/>
<text transform="translate(285.5 285.92)" font-size="5.9" text-anchor="end" fill="#111">200</text>
<line x1="286.4" y1="297.5" x2="288.6" y2="297.5" stroke="#222" stroke-width="0.8"/>
<text transform="translate(285.5 299.62)" font-size="5.9" text-anchor="end" fill="#111">0</text>
<rect x="291.5" y="259.6" width="9.5" height="37.6" fill="#4fc0ef"/>
<rect x="303" y="274" width="9.5" height="23.2" fill="#e23560"/>
<rect x="314.3" y="276.5" width="9.6" height="20.7" fill="#f88577"/>
<line x1="296.3" y1="258.8" x2="296.3" y2="260.4" stroke="#111" stroke-width="0.8"/>
<line x1="294.1" y1="258.8" x2="298.5" y2="258.8" stroke="#111" stroke-width="0.8"/>
<circle cx="295.1" cy="259.8" r="1.1" fill="none" stroke="#111" stroke-width="0.7"/>
<circle cx="296.6" cy="259.6" r="1.1" fill="none" stroke="#111" stroke-width="0.7"/>
<circle cx="297.9" cy="259.1" r="1.1" fill="none" stroke="#111" stroke-width="0.7"/>
<line x1="307.7" y1="272.5" x2="307.7" y2="275.5" stroke="#111" stroke-width="0.8"/>
<line x1="305.5" y1="272.5" x2="309.9" y2="272.5" stroke="#111" stroke-width="0.8"/>
<circle cx="306.5" cy="272.5" r="1.1" fill="none" stroke="#111" stroke-width="0.7"/>
<circle cx="308.2" cy="274.5" r="1.1" fill="none" stroke="#111" stroke-width="0.7"/>
<circle cx="309.3" cy="275.5" r="1.1" fill="none" stroke="#111" stroke-width="0.7"/>
<line x1="319.1" y1="274.5" x2="319.1" y2="278.5" stroke="#111" stroke-width="0.8"/>
<line x1="316.9" y1="274.5" x2="321.3" y2="274.5" stroke="#111" stroke-width="0.8"/>
<circle cx="318.1" cy="275" r="1.1" fill="none" stroke="#111" stroke-width="0.7"/>
<circle cx="319.9" cy="275" r="1.1" fill="none" stroke="#111" stroke-width="0.7"/>
<circle cx="319.4" cy="279" r="1.1" fill="none" stroke="#111" stroke-width="0.7"/>
<line x1="296.8" y1="248.3" x2="318.9" y2="248.3" stroke="#111" stroke-width="0.8"/>
<text transform="translate(307.8 251.55)" font-size="14" font-weight="bold" text-anchor="middle">***</text>
<line x1="292" y1="256.3" x2="308.2" y2="256.3" stroke="#111" stroke-width="0.8"/>
<text transform="translate(300.1 259.55)" font-size="14" font-weight="bold" text-anchor="middle">***</text>
<text transform="translate(272.3 271.3) rotate(-90)" font-size="8.2" font-weight="bold" text-anchor="middle">Numbers</text>
<rect x="384.1" y="180.9" width="75.5" height="56.6" fill="#c7c7c7"/>
<g clip-path="url(#cl1)">
<path d="M432.03 209.74 L432.25 212.33 L432.67 214.96 L432.5 217.47 L431.36 219.76 L430.15 222.04 L429.63 224.47 M430.13 166.93 L433.4 168.76 L436.64 170.71 L440.1 171.96 L443.67 172.85 L447.41 173.2 L451.18 173.47 M414.08 255.8 L416.97 255.58 L419.86 254.67 L422.76 254.16 L425.66 254.58 L428.56 254.95 L431.46 256.25 M368.64 215.24 L373.37 215.81 L378.08 215.96 L382.77 215.99 L387.41 215.3 L392 214.09 L396.64 213.39 M368.64 215.43 L371.01 219.27 L373.26 223.22 L375.94 226.73 L379.65 229.19 L383.12 231.9 L387.18 234 M429.24 224.77 L432.65 224.37 L436.04 224.45 L439.43 224.93 L442.84 224.72 L446.23 224.87 L449.64 224.54 M449.73 224.6 L453.04 225.94 L456.32 227.34 L459.5 228.97 L462.6 230.79 L465.85 232.25 L469.13 233.68 M407.33 231.77 L407.62 236.07 L408.25 240.28 L409.5 244.31 L410.5 248.41 L412.13 252.33 L414.42 256.07 M470 177.36 L467.43 179.49 L464.82 181.57 L462.2 183.62 L458.96 184.51 L455.91 185.75 L452.68 186.69 M412.26 190.3 L415.38 191.64 L418.5 193.02 L421.74 193.39 L425.01 193.53 L428.28 193.68 L431.7 192.5 M468.9 233.29 L466.95 236.7 L464.85 240.01 L462.67 243.27 L461.18 246.97 L458.66 250.02 L456.72 253.43 M449.75 224.72 L452.77 228.01 L455.69 231.39 L458.45 234.91 L461.16 238.48 L464.46 241.53 L467 245.24 M431.47 256.24 L435.78 256.67 L440.11 257.3 L444.34 256.96 L448.53 256.2 L452.71 255.43 L456.81 253.85 M396.31 250.3 L399.63 250.16 L402.73 250.68 L405.84 251.19 L408.6 252.8 L411.41 254.27 L414.05 256.25 M413.92 173.21 L413.19 176.06 L413.49 178.99 L413 181.85 L412.55 184.72 L412.39 187.61 L412.44 190.52 M473.28 188.2 L472.39 191.94 L471.51 195.67 L470.06 199.25 L469.54 203.09 L467.91 206.62 L467.18 210.39 M387.72 233.98 L384.9 235.75 L382.24 237.65 L380.71 240.28 L379.2 242.94 L378.29 245.98 L376.98 248.77 M396.47 213.29 L398.77 216.09 L400.67 219.11 L402.4 222.24 L404.32 225.25 L405.69 228.57 L407.04 231.91 M388.59 194.57 L388.52 198.3 L389.2 201.7 L390.36 204.89 L391.94 207.89 L394.39 210.5 L396.38 213.32 M453 213.33 L452.97 215.39 L452.51 217.33 L452.08 219.28 L451.48 221.19 L450.32 222.94 L449.54 224.8 M374.54 228.87 L376.59 229.93 L378.48 231.4 L380.59 232.3 L382.88 232.75 L385.17 233.17 L387.42 233.73 M451.13 173.64 L454.36 173.93 L457.4 175.13 L460.55 175.81 L463.71 176.45 L466.88 177.04 L470.11 177.29 M368.97 215.29 L369.97 217.5 L371.34 219.55 L372.67 221.61 L373.57 223.87 L374.28 226.21 L374.33 228.85 M419.46 209.15 L421.63 209.1 L423.79 209.05 L425.95 209.18 L428.09 209.59 L430.26 209.35 L432.42 209.54 M419.6 209.33 L421.53 211.63 L423.46 213.93 L425.34 216.26 L426.54 219.03 L427.72 221.82 L428.95 224.58 M428.91 224.41 L428.91 229.72 L428.49 235.05 L429.02 240.32 L429.06 245.63 L430.58 250.83 L431.85 256.05 M375.17 166.79 L379.5 168.25 L383.59 170.3 L387.87 171.86 L392.19 173.35 L396.39 175.12 L400.68 176.66 M411.89 190.63 L414.04 193.43 L414.92 196.7 L416.43 199.74 L417.86 202.81 L418.25 206.27 L419.18 209.53 M400.71 177.16 L402.89 176.6 L405.01 175.82 L407.16 175.14 L409.4 174.77 L411.6 174.26 L413.6 173.04 M452.75 186.87 L456.16 186.86 L459.6 186.42 L462.99 186.66 L466.39 186.88 L469.75 187.62 L473.13 188.07 M387.39 233.57 L390.83 234.62 L394.24 235.34 L397.53 234.95 L400.85 234.71 L404 232.87 L407.24 231.86 M400.44 176.98 L402.05 179.54 L403.69 182.07 L405.58 184.39 L407.57 186.62 L409.74 188.69 L412.16 190.56 M456.62 253.28 L458.32 251.83 L460.37 250.82 L462.02 249.32 L463.52 247.64 L465.41 246.43 L467.33 245.26 M396.28 213.06 L395.05 216.62 L393.49 220.03 L392.04 223.5 L390.29 226.83 L388.67 230.21 L387.41 233.76 M368.02 186.77 L371.76 187.21 L375.45 187.75 L378.63 189.6 L382.18 190.52 L385.24 192.64 L388.49 194.32 M377.28 249.17 L380.42 249.58 L383.57 249.92 L386.68 250.75 L389.88 250.49 L393.05 250.65 L396.21 250.8 M374.34 228.77 L373.96 232.25 L373.64 235.73 L374.55 239.04 L375.22 242.39 L375.81 245.74 L377.6 248.94 M451.52 173.55 L451.22 175.82 L451.45 178.03 L451.8 180.22 L451.82 182.46 L452.37 184.63 L452.5 186.85 M469.83 177.57 L470.4 179.32 L470.41 181.24 L471.23 182.93 L471.44 184.8 L472.49 186.42 L472.95 188.21 M468.99 233.45 L469.18 235.47 L468.8 237.4 L468.46 239.33 L468.27 241.29 L467.46 243.14 L467.08 245.06 M375.26 166.64 L374.24 170.03 L373.99 173.69 L372.95 177.08 L371.29 180.24 L370.13 183.58 L368.19 186.64 M413.57 172.99 L416.31 171.95 L418.91 170.54 L421.6 169.38 L424.25 168.08 L427.24 167.71 L430.19 167.24 M431.29 192.84 L431.42 195.67 L431.86 198.49 L432.29 201.31 L431.96 204.16 L432.54 206.98 L432.8 209.8 M400.42 176.7 L398.14 179.52 L395.77 182.26 L393.6 185.15 L391.85 188.33 L390.32 191.66 L388.1 194.51 M467.1 210.28 L463.93 212.39 L461.32 215.18 L458.26 217.43 L455.45 219.97 L452.44 222.27 L449.85 225.08 M387.52 233.7 L388.14 236.95 L389.59 239.76 L390.98 242.6 L392.43 245.41 L394.05 248.13 L396.06 250.64 M452.73 213.09 L455.23 213.09 L457.76 213.23 L460.24 213.15 L462.58 212.35 L464.91 211.48 L467.19 210.41" fill="none" stroke="#d8d8d8" stroke-width="1.1"/>
<path d="M432.03 209.74 L432.25 212.33 L432.67 214.96 L432.5 217.47 L431.36 219.76 L430.15 222.04 L429.63 224.47 M430.13 166.93 L433.4 168.76 L436.64 170.71 L440.1 171.96 L443.67 172.85 L447.41 173.2 L451.18 173.47 M414.08 255.8 L416.97 255.58 L419.86 254.67 L422.76 254.16 L425.66 254.58 L428.56 254.95 L431.46 256.25 M368.64 215.24 L373.37 215.81 L378.08 215.96 L382.77 215.99 L387.41 215.3 L392 214.09 L396.64 213.39 M368.64 215.43 L371.01 219.27 L373.26 223.22 L375.94 226.73 L379.65 229.19 L383.12 231.9 L387.18 234 M429.24 224.77 L432.65 224.37 L436.04 224.45 L439.43 224.93 L442.84 224.72 L446.23 224.87 L449.64 224.54 M449.73 224.6 L453.04 225.94 L456.32 227.34 L459.5 228.97 L462.6 230.79 L465.85 232.25 L469.13 233.68 M407.33 231.77 L407.62 236.07 L408.25 240.28 L409.5 244.31 L410.5 248.41 L412.13 252.33 L414.42 256.07 M470 177.36 L467.43 179.49 L464.82 181.57 L462.2 183.62 L458.96 184.51 L455.91 185.75 L452.68 186.69 M412.26 190.3 L415.38 191.64 L418.5 193.02 L421.74 193.39 L425.01 193.53 L428.28 193.68 L431.7 192.5 M468.9 233.29 L466.95 236.7 L464.85 240.01 L462.67 243.27 L461.18 246.97 L458.66 250.02 L456.72 253.43 M449.75 224.72 L452.77 228.01 L455.69 231.39 L458.45 234.91 L461.16 238.48 L464.46 241.53 L467 245.24 M431.47 256.24 L435.78 256.67 L440.11 257.3 L444.34 256.96 L448.53 256.2 L452.71 255.43 L456.81 253.85 M396.31 250.3 L399.63 250.16 L402.73 250.68 L405.84 251.19 L408.6 252.8 L411.41 254.27 L414.05 256.25 M413.92 173.21 L413.19 176.06 L413.49 178.99 L413 181.85 L412.55 184.72 L412.39 187.61 L412.44 190.52 M473.28 188.2 L472.39 191.94 L471.51 195.67 L470.06 199.25 L469.54 203.09 L467.91 206.62 L467.18 210.39 M387.72 233.98 L384.9 235.75 L382.24 237.65 L380.71 240.28 L379.2 242.94 L378.29 245.98 L376.98 248.77 M396.47 213.29 L398.77 216.09 L400.67 219.11 L402.4 222.24 L404.32 225.25 L405.69 228.57 L407.04 231.91 M388.59 194.57 L388.52 198.3 L389.2 201.7 L390.36 204.89 L391.94 207.89 L394.39 210.5 L396.38 213.32 M453 213.33 L452.97 215.39 L452.51 217.33 L452.08 219.28 L451.48 221.19 L450.32 222.94 L449.54 224.8 M374.54 228.87 L376.59 229.93 L378.48 231.4 L380.59 232.3 L382.88 232.75 L385.17 233.17 L387.42 233.73 M451.13 173.64 L454.36 173.93 L457.4 175.13 L460.55 175.81 L463.71 176.45 L466.88 177.04 L470.11 177.29 M368.97 215.29 L369.97 217.5 L371.34 219.55 L372.67 221.61 L373.57 223.87 L374.28 226.21 L374.33 228.85 M419.46 209.15 L421.63 209.1 L423.79 209.05 L425.95 209.18 L428.09 209.59 L430.26 209.35 L432.42 209.54 M419.6 209.33 L421.53 211.63 L423.46 213.93 L425.34 216.26 L426.54 219.03 L427.72 221.82 L428.95 224.58 M428.91 224.41 L428.91 229.72 L428.49 235.05 L429.02 240.32 L429.06 245.63 L430.58 250.83 L431.85 256.05 M375.17 166.79 L379.5 168.25 L383.59 170.3 L387.87 171.86 L392.19 173.35 L396.39 175.12 L400.68 176.66 M411.89 190.63 L414.04 193.43 L414.92 196.7 L416.43 199.74 L417.86 202.81 L418.25 206.27 L419.18 209.53 M400.71 177.16 L402.89 176.6 L405.01 175.82 L407.16 175.14 L409.4 174.77 L411.6 174.26 L413.6 173.04 M452.75 186.87 L456.16 186.86 L459.6 186.42 L462.99 186.66 L466.39 186.88 L469.75 187.62 L473.13 188.07 M387.39 233.57 L390.83 234.62 L394.24 235.34 L397.53 234.95 L400.85 234.71 L404 232.87 L407.24 231.86 M400.44 176.98 L402.05 179.54 L403.69 182.07 L405.58 184.39 L407.57 186.62 L409.74 188.69 L412.16 190.56 M456.62 253.28 L458.32 251.83 L460.37 250.82 L462.02 249.32 L463.52 247.64 L465.41 246.43 L467.33 245.26 M396.28 213.06 L395.05 216.62 L393.49 220.03 L392.04 223.5 L390.29 226.83 L388.67 230.21 L387.41 233.76 M368.02 186.77 L371.76 187.21 L375.45 187.75 L378.63 189.6 L382.18 190.52 L385.24 192.64 L388.49 194.32 M377.28 249.17 L380.42 249.58 L383.57 249.92 L386.68 250.75 L389.88 250.49 L393.05 250.65 L396.21 250.8 M374.34 228.77 L373.96 232.25 L373.64 235.73 L374.55 239.04 L375.22 242.39 L375.81 245.74 L377.6 248.94 M451.52 173.55 L451.22 175.82 L451.45 178.03 L451.8 180.22 L451.82 182.46 L452.37 184.63 L452.5 186.85 M469.83 177.57 L470.4 179.32 L470.41 181.24 L471.23 182.93 L471.44 184.8 L472.49 186.42 L472.95 188.21 M468.99 233.45 L469.18 235.47 L468.8 237.4 L468.46 239.33 L468.27 241.29 L467.46 243.14 L467.08 245.06 M375.26 166.64 L374.24 170.03 L373.99 173.69 L372.95 177.08 L371.29 180.24 L370.13 183.58 L368.19 186.64 M413.57 172.99 L416.31 171.95 L418.91 170.54 L421.6 169.38 L424.25 168.08 L427.24 167.71 L430.19 167.24 M431.29 192.84 L431.42 195.67 L431.86 198.49 L432.29 201.31 L431.96 204.16 L432.54 206.98 L432.8 209.8 M400.42 176.7 L398.14 179.52 L395.77 182.26 L393.6 185.15 L391.85 188.33 L390.32 191.66 L388.1 194.51 M467.1 210.28 L463.93 212.39 L461.32 215.18 L458.26 217.43 L455.45 219.97 L452.44 222.27 L449.85 225.08 M387.52 233.7 L388.14 236.95 L389.59 239.76 L390.98 242.6 L392.43 245.41 L394.05 248.13 L396.06 250.64 M452.73 213.09 L455.23 213.09 L457.76 213.23 L460.24 213.15 L462.58 212.35 L464.91 211.48 L467.19 210.41" fill="none" stroke="#8e8e8e" stroke-width="0.5"/>
<g fill="#8e8e8e"><circle cx="432.58" cy="217.83" r="0.5"/><circle cx="431.55" cy="219.82" r="0.61"/><circle cx="430.67" cy="221.78" r="0.67"/><circle cx="433.34" cy="168.95" r="0.67"/><circle cx="440.3" cy="172.02" r="0.45"/><circle cx="443.45" cy="173.06" r="0.69"/><circle cx="447.33" cy="173.15" r="0.52"/><circle cx="423.34" cy="254.66" r="0.42"/><circle cx="425.6" cy="254.31" r="0.65"/><circle cx="428.85" cy="255.38" r="0.42"/><circle cx="373.63" cy="215.71" r="0.51"/><circle cx="377.74" cy="216.31" r="0.44"/><circle cx="382.4" cy="215.58" r="0.69"/><circle cx="387.6" cy="215.78" r="0.58"/><circle cx="391.63" cy="214.11" r="0.69"/><circle cx="370.99" cy="218.82" r="0.44"/><circle cx="373.39" cy="223.48" r="0.8"/><circle cx="382.68" cy="231.37" r="0.52"/><circle cx="445.67" cy="224.64" r="0.76"/><circle cx="456.65" cy="227.01" r="0.61"/><circle cx="459.98" cy="228.52" r="0.64"/><circle cx="408.45" cy="240.12" r="0.74"/><circle cx="410.03" cy="243.76" r="0.42"/><circle cx="410.05" cy="248.99" r="0.73"/><circle cx="467.3" cy="179.8" r="0.61"/><circle cx="465.33" cy="181.48" r="0.74"/><circle cx="462.24" cy="183.88" r="0.4"/><circle cx="456.06" cy="185.9" r="0.45"/><circle cx="415.84" cy="191.58" r="0.73"/><circle cx="421.23" cy="193.73" r="0.75"/><circle cx="466.66" cy="236.96" r="0.61"/><circle cx="464.59" cy="240.09" r="0.75"/><circle cx="461.46" cy="246.48" r="0.46"/><circle cx="459.05" cy="249.56" r="0.46"/><circle cx="452.48" cy="228.21" r="0.4"/><circle cx="455.27" cy="231.07" r="0.75"/><circle cx="458.72" cy="235.4" r="0.5"/><circle cx="464.78" cy="241.63" r="0.54"/><circle cx="436.28" cy="256.93" r="0.4"/><circle cx="440.04" cy="257.76" r="0.75"/><circle cx="444.28" cy="257.47" r="0.48"/><circle cx="448.43" cy="256.42" r="0.75"/><circle cx="403.2" cy="251.12" r="0.73"/><circle cx="408.06" cy="252.64" r="0.69"/><circle cx="411.85" cy="254.7" r="0.68"/><circle cx="413.39" cy="178.91" r="0.68"/><circle cx="413.17" cy="181.84" r="0.72"/><circle cx="412.64" cy="185.28" r="0.42"/><circle cx="472.73" cy="192.03" r="0.75"/><circle cx="471.74" cy="195.1" r="0.47"/><circle cx="469.84" cy="198.99" r="0.63"/><circle cx="467.92" cy="206.96" r="0.49"/><circle cx="382.29" cy="237.23" r="0.41"/><circle cx="380.95" cy="240.32" r="0.51"/><circle cx="378.7" cy="242.75" r="0.44"/><circle cx="398.4" cy="215.52" r="0.6"/><circle cx="400.7" cy="218.71" r="0.61"/><circle cx="402.7" cy="222.61" r="0.78"/><circle cx="404.78" cy="225.68" r="0.53"/><circle cx="389.76" cy="201.98" r="0.42"/><circle cx="389.96" cy="205.09" r="0.69"/><circle cx="451.37" cy="221.23" r="0.58"/><circle cx="381.09" cy="232.57" r="0.64"/><circle cx="382.65" cy="232.55" r="0.59"/><circle cx="385.33" cy="233.31" r="0.66"/><circle cx="453.82" cy="174.27" r="0.74"/><circle cx="369.44" cy="217.86" r="0.42"/><circle cx="373.5" cy="223.6" r="0.72"/><circle cx="424.08" cy="209.24" r="0.62"/><circle cx="428.43" cy="209.21" r="0.59"/><circle cx="430.32" cy="208.88" r="0.58"/><circle cx="421.21" cy="211.51" r="0.64"/><circle cx="425.33" cy="216.86" r="0.78"/><circle cx="428.04" cy="221.27" r="0.78"/><circle cx="429.11" cy="229.76" r="0.72"/><circle cx="430.11" cy="250.58" r="0.45"/><circle cx="387.86" cy="171.82" r="0.65"/><circle cx="392.74" cy="173.08" r="0.63"/><circle cx="396.47" cy="175.57" r="0.65"/><circle cx="414.41" cy="192.94" r="0.51"/><circle cx="415.45" cy="196.55" r="0.8"/><circle cx="416.7" cy="200.08" r="0.45"/><circle cx="417.79" cy="205.85" r="0.72"/><circle cx="402.43" cy="176.05" r="0.42"/><circle cx="405.15" cy="176.26" r="0.7"/><circle cx="409.83" cy="174.56" r="0.55"/><circle cx="412.19" cy="174.22" r="0.42"/><circle cx="456.17" cy="187.16" r="0.65"/><circle cx="463.5" cy="186.2" r="0.43"/><circle cx="466.36" cy="186.67" r="0.48"/><circle cx="470.09" cy="187.09" r="0.65"/><circle cx="394.63" cy="235.91" r="0.74"/><circle cx="397.76" cy="235.4" r="0.65"/><circle cx="400.49" cy="234.84" r="0.45"/><circle cx="404.57" cy="232.87" r="0.8"/><circle cx="401.99" cy="179.38" r="0.75"/><circle cx="404.09" cy="182.24" r="0.77"/><circle cx="405.31" cy="184.37" r="0.5"/><circle cx="460.92" cy="251.4" r="0.41"/><circle cx="462.15" cy="249.13" r="0.48"/><circle cx="395.4" cy="217.03" r="0.66"/><circle cx="393.04" cy="219.87" r="0.42"/><circle cx="391.87" cy="223.05" r="0.46"/><circle cx="371.58" cy="187.06" r="0.61"/><circle cx="382.58" cy="190.46" r="0.68"/><circle cx="385.54" cy="192.15" r="0.47"/><circle cx="386.96" cy="250.19" r="0.79"/><circle cx="373.95" cy="235.26" r="0.62"/><circle cx="375.5" cy="246.16" r="0.72"/><circle cx="450.97" cy="176.4" r="0.8"/><circle cx="451.6" cy="178.25" r="0.64"/><circle cx="451.62" cy="180.73" r="0.46"/><circle cx="452.11" cy="181.87" r="0.55"/><circle cx="452.58" cy="184.34" r="0.65"/><circle cx="470.56" cy="179.62" r="0.42"/><circle cx="471.58" cy="182.5" r="0.5"/><circle cx="471.15" cy="184.93" r="0.54"/><circle cx="469.38" cy="235.15" r="0.53"/><circle cx="468.86" cy="241.82" r="0.68"/><circle cx="467.33" cy="243.01" r="0.62"/><circle cx="374.57" cy="169.65" r="0.61"/><circle cx="370.92" cy="180.77" r="0.71"/><circle cx="421.07" cy="169.12" r="0.72"/><circle cx="423.71" cy="168.05" r="0.46"/><circle cx="427.49" cy="167.72" r="0.62"/><circle cx="431.35" cy="196.1" r="0.6"/><circle cx="432.56" cy="201.33" r="0.69"/><circle cx="431.68" cy="204.52" r="0.71"/><circle cx="395.68" cy="181.8" r="0.77"/><circle cx="393.52" cy="184.58" r="0.74"/><circle cx="451.89" cy="222.21" r="0.61"/><circle cx="389.12" cy="239.19" r="0.64"/><circle cx="392.55" cy="245.06" r="0.64"/><circle cx="457.64" cy="213.01" r="0.62"/><circle cx="460.26" cy="213.17" r="0.72"/><circle cx="463.08" cy="212.15" r="0.59"/><circle cx="464.31" cy="211.75" r="0.68"/></g>
</g>
<line x1="446.7" y1="233.8" x2="455.1" y2="233.8" stroke="#777" stroke-width="1.3"/>
<rect x="384.1" y="180.9" width="75.5" height="56.6" fill="none" stroke="#444" stroke-width="1"/>
<rect x="461.5" y="180.9" width="74.9" height="56.6" fill="#c3c3c3"/>
<g filter="url(#soft)">
<rect x="461.5" y="180.9" width="74.9" height="56.6" fill="url(#p23)"/>
</g>
<line x1="523.5" y1="233.8" x2="531.9" y2="233.8" stroke="#777" stroke-width="1.3"/>
<rect x="461.5" y="180.9" width="74.9" height="56.6" fill="none" stroke="#444" stroke-width="1"/>
<rect x="538.4" y="180.9" width="75.3" height="56.6" fill="#c5c5c5"/>
<g clip-path="url(#cl2)">
<path d="M600.08 162.61 L603.48 164.75 L606.62 167.27 L610.14 169.2 L613.42 171.53 L617.15 173.12 L620.45 175.41 M620.56 175.48 L619.19 178.3 L618.07 181.17 L617.5 184.18 L616.54 187.1 L616.63 190.26 L615.82 193.22 M572.98 221.57 L577.42 221.43 L581.89 220.73 L586.33 220.68 L590.75 221.61 L595.19 221.89 L599.63 222.12 M532.43 186.41 L531.38 191.57 L530.1 196.64 L527.85 201.33 L525.68 206.05 L523.47 210.75 L521.05 215.36 M618.48 214.61 L620.11 220.13 L621.08 225.86 L623.12 231.25 L624.71 236.79 L626.7 242.19 L628.7 247.59 M534.69 168.19 L534.07 171.21 L533.82 174.27 L533.64 177.34 L533.16 180.38 L532.62 183.41 L532.3 186.46 M616.28 193.28 L616.32 196.88 L616.45 200.47 L616.85 204.03 L617.34 207.58 L617.45 211.17 L618.33 214.69 M553.77 172.63 L552.68 175.68 L551.05 178.35 L549.46 181.05 L547.38 183.41 L545.41 185.84 L543.29 188.17 M570.16 237.34 L573.3 240.81 L576.91 243.37 L580.69 245.58 L584.82 247.1 L589.15 248.22 L593.48 249.35 M599.67 222.52 L602.41 220.37 L605.38 218.79 L608.61 217.86 L611.54 216.16 L614.81 215.32 L618.09 214.49 M532.62 186.71 L534.38 187.16 L536.11 187.79 L537.84 188.47 L539.66 188.54 L541.47 188.71 L543.36 188.36 M554.06 172.83 L556.99 171.46 L559.59 169.63 L562.24 167.88 L564.78 165.98 L567.24 163.96 L569.49 161.64 M521.12 215.14 L526.43 217.48 L531.82 219.29 L537.24 220.89 L542.86 221.26 L548.56 221.17 L554.36 220.36 M569.44 161.89 L572.31 165.22 L574.38 168.92 L575.79 172.9 L577.3 176.85 L578.96 180.72 L580.13 184.82 M527.7 248.24 L532.16 248.01 L536.4 247.13 L540.62 246.14 L544.47 244.04 L548.59 242.75 L552.44 240.64 M599.86 162.48 L598.44 166.34 L596.53 170.07 L595.69 174.09 L594.58 178.03 L593.99 182.11 L593.86 186.32 M572.94 221.7 L571.69 224.15 L571.42 226.77 L570.85 229.34 L570.31 231.91 L570.03 234.53 L570.01 237.19 M554.3 221.02 L557.46 220.28 L560.58 220.27 L563.7 220.23 L566.79 220.67 L569.91 220.67 L572.95 222.08 M579.9 185.01 L582.17 185.69 L584.42 186.55 L586.78 186.24 L589.08 186.66 L591.42 186.57 L593.82 185.91 M599.94 222.46 L598.4 226.79 L597.8 231.33 L596.53 235.71 L595.26 240.1 L594.43 244.58 L593.96 249.15 M552.37 240.4 L555.46 240.49 L558.38 239.66 L561.47 239.77 L564.42 239.12 L567.3 238.05 L570.16 236.92" fill="none" stroke="#d0d0d0" stroke-width="0.99"/>
<path d="M600.08 162.61 L603.48 164.75 L606.62 167.27 L610.14 169.2 L613.42 171.53 L617.15 173.12 L620.45 175.41 M620.56 175.48 L619.19 178.3 L618.07 181.17 L617.5 184.18 L616.54 187.1 L616.63 190.26 L615.82 193.22 M572.98 221.57 L577.42 221.43 L581.89 220.73 L586.33 220.68 L590.75 221.61 L595.19 221.89 L599.63 222.12 M532.43 186.41 L531.38 191.57 L530.1 196.64 L527.85 201.33 L525.68 206.05 L523.47 210.75 L521.05 215.36 M618.48 214.61 L620.11 220.13 L621.08 225.86 L623.12 231.25 L624.71 236.79 L626.7 242.19 L628.7 247.59 M534.69 168.19 L534.07 171.21 L533.82 174.27 L533.64 177.34 L533.16 180.38 L532.62 183.41 L532.3 186.46 M616.28 193.28 L616.32 196.88 L616.45 200.47 L616.85 204.03 L617.34 207.58 L617.45 211.17 L618.33 214.69 M553.77 172.63 L552.68 175.68 L551.05 178.35 L549.46 181.05 L547.38 183.41 L545.41 185.84 L543.29 188.17 M570.16 237.34 L573.3 240.81 L576.91 243.37 L580.69 245.58 L584.82 247.1 L589.15 248.22 L593.48 249.35 M599.67 222.52 L602.41 220.37 L605.38 218.79 L608.61 217.86 L611.54 216.16 L614.81 215.32 L618.09 214.49 M532.62 186.71 L534.38 187.16 L536.11 187.79 L537.84 188.47 L539.66 188.54 L541.47 188.71 L543.36 188.36 M554.06 172.83 L556.99 171.46 L559.59 169.63 L562.24 167.88 L564.78 165.98 L567.24 163.96 L569.49 161.64 M521.12 215.14 L526.43 217.48 L531.82 219.29 L537.24 220.89 L542.86 221.26 L548.56 221.17 L554.36 220.36 M569.44 161.89 L572.31 165.22 L574.38 168.92 L575.79 172.9 L577.3 176.85 L578.96 180.72 L580.13 184.82 M527.7 248.24 L532.16 248.01 L536.4 247.13 L540.62 246.14 L544.47 244.04 L548.59 242.75 L552.44 240.64 M599.86 162.48 L598.44 166.34 L596.53 170.07 L595.69 174.09 L594.58 178.03 L593.99 182.11 L593.86 186.32 M572.94 221.7 L571.69 224.15 L571.42 226.77 L570.85 229.34 L570.31 231.91 L570.03 234.53 L570.01 237.19 M554.3 221.02 L557.46 220.28 L560.58 220.27 L563.7 220.23 L566.79 220.67 L569.91 220.67 L572.95 222.08 M579.9 185.01 L582.17 185.69 L584.42 186.55 L586.78 186.24 L589.08 186.66 L591.42 186.57 L593.82 185.91 M599.94 222.46 L598.4 226.79 L597.8 231.33 L596.53 235.71 L595.26 240.1 L594.43 244.58 L593.96 249.15 M552.37 240.4 L555.46 240.49 L558.38 239.66 L561.47 239.77 L564.42 239.12 L567.3 238.05 L570.16 236.92" fill="none" stroke="#8a8a8a" stroke-width="0.45"/>
<g fill="#8a8a8a"><circle cx="603.65" cy="165.2" r="0.62"/><circle cx="613.28" cy="171.62" r="0.66"/><circle cx="617.12" cy="172.92" r="0.62"/><circle cx="619.02" cy="178.68" r="0.41"/><circle cx="582.33" cy="220.48" r="0.69"/><circle cx="590.45" cy="221.64" r="0.56"/><circle cx="527.84" cy="200.75" r="0.53"/><circle cx="525.63" cy="206.26" r="0.74"/><circle cx="522.89" cy="211.35" r="0.71"/><circle cx="620.77" cy="225.78" r="0.71"/><circle cx="533.81" cy="171.35" r="0.68"/><circle cx="534.33" cy="174.22" r="0.71"/><circle cx="533.38" cy="176.77" r="0.72"/><circle cx="616.78" cy="203.82" r="0.53"/><circle cx="617.33" cy="210.7" r="0.67"/><circle cx="552.25" cy="175.98" r="0.56"/><circle cx="576.34" cy="243.33" r="0.62"/><circle cx="580.11" cy="245.3" r="0.75"/><circle cx="538.13" cy="189.04" r="0.65"/><circle cx="541.01" cy="188.65" r="0.64"/><circle cx="556.79" cy="171.26" r="0.73"/><circle cx="566.92" cy="164.55" r="0.68"/><circle cx="526.29" cy="217.99" r="0.66"/><circle cx="537.16" cy="220.73" r="0.65"/><circle cx="576.38" cy="172.98" r="0.52"/><circle cx="579.06" cy="180.62" r="0.55"/><circle cx="532.65" cy="248.01" r="0.47"/><circle cx="537" cy="247.49" r="0.49"/><circle cx="544.71" cy="244.2" r="0.75"/><circle cx="595.79" cy="174.07" r="0.64"/><circle cx="594.82" cy="177.91" r="0.69"/><circle cx="593.41" cy="182.07" r="0.66"/><circle cx="571.81" cy="223.97" r="0.61"/><circle cx="571.01" cy="226.93" r="0.54"/><circle cx="569.66" cy="234.56" r="0.6"/><circle cx="560.69" cy="219.74" r="0.57"/><circle cx="563.16" cy="220.17" r="0.74"/><circle cx="587.14" cy="186.21" r="0.69"/><circle cx="595.21" cy="240.13" r="0.42"/><circle cx="558.44" cy="239.23" r="0.61"/><circle cx="564.52" cy="239.16" r="0.75"/></g>
</g>
<line x1="600.8" y1="233.8" x2="609.2" y2="233.8" stroke="#777" stroke-width="1.3"/>
<rect x="538.4" y="180.9" width="75.3" height="56.6" fill="none" stroke="#444" stroke-width="1"/>
<rect x="384.1" y="240.8" width="75.5" height="56.9" fill="#aaaaaa"/>
<g clip-path="url(#cl3)">
<path d="M400.87 255.46 L403.58 258.34 L406.38 261.18 L408.24 264.52 L409.76 268.03 L411.01 271.68 L411.44 275.77 M395.13 299.47 L392.63 303.33 L389.36 306.29 L386.19 309.36 L382.77 312.14 L378.99 314.51 L374.99 316.6 M440.9 230.55 L443.1 230.78 L445.33 231.38 L447.52 231.3 L449.71 231.1 L451.9 230.99 L454.05 229.97 M453.71 230.41 L456.1 233.97 L458.8 237.4 L460.01 241.46 L461.5 245.4 L463.25 249.23 L464.32 253.35 M395.2 299.43 L398.59 298.24 L401.89 296.68 L405.28 295.5 L408.68 294.37 L412.43 294.59 L416.07 294.36 M396.04 316.71 L399.79 318.56 L403.55 320.38 L407.5 321.54 L411.4 322.85 L415.56 323.27 L419.8 323.43 M419.75 324.12 L423.6 322.11 L427.48 320.25 L431.41 318.72 L435.55 318.56 L439.85 319.37 L444.17 320.32 M375.25 252.14 L375.51 255.85 L375.28 259.5 L375.46 263.2 L374.44 266.75 L373.2 270.26 L371.94 273.78 M367.6 231.62 L369.06 234.95 L370.37 238.33 L371.62 241.73 L372.95 245.11 L373.97 248.6 L374.71 252.18 M463.89 253.42 L463.99 256.36 L463.51 259.02 L461.99 261.17 L460.89 263.53 L459.06 265.53 L457.53 267.68 M371.86 273.79 L370.75 277.88 L369.5 281.96 L369.19 286.11 L368.51 290.22 L369.91 294.48 L370.55 298.69 M441.06 276.34 L444.31 275.89 L447.16 274.7 L450.24 273.94 L452.61 271.9 L454.93 269.75 L457.35 267.8 M456.37 297.2 L455.68 301.99 L455.61 306.69 L455.87 311.33 L457.59 315.77 L458.57 320.31 L460.67 324.69 M400.79 255.34 L398.69 258.26 L397.05 261.43 L395.14 264.45 L393.74 267.75 L392.06 270.89 L390.83 274.28 M370.84 298.61 L371.12 301.75 L371.74 304.8 L372.2 307.89 L373.31 310.81 L373.83 313.89 L375.29 316.72 M445.49 290.48 L447.04 292.11 L449.07 292.91 L450.79 294.26 L452.83 295.04 L454.65 296.21 L456.56 297.23 M457.52 267.68 L454.14 270.82 L451.97 274.58 L449.93 278.4 L448 282.28 L446.27 286.26 L445.41 290.69 M444.02 320.26 L446.93 320.5 L449.62 321.52 L452.37 322.33 L455.1 323.21 L457.89 323.87 L460.66 324.62 M367.66 231.97 L371.43 231.41 L375.21 230.86 L378.95 230.79 L382.62 231.74 L386.35 232.01 L390.01 233.08 M433.29 256.75 L438.06 256.85 L442.39 257.88 L446.57 259.25 L450.14 261.95 L453.91 264.21 L457.11 267.69 M389.98 232.88 L395 233.34 L399.94 233.34 L404.8 232.88 L409.51 231.6 L414.2 230.19 L418.81 228.28 M372.2 273.77 L375.32 273.15 L378.43 272.87 L381.55 272.63 L384.64 273.04 L387.72 273.92 L390.82 274.41 M419.12 228.08 L417.4 231.14 L415.88 234.24 L414.36 237.33 L414.21 240.67 L414.87 244.16 L414.9 247.54 M389.77 232.88 L387.93 236.58 L385.16 239.55 L382.8 242.84 L380.64 246.29 L377.74 249.15 L375.14 252.26 M456.49 297.11 L455.69 301.61 L454.21 305.74 L452.55 309.76 L449.81 313.2 L447.34 316.78 L444.4 320.1 M441.28 276.29 L442.89 280.47 L444.64 284.55 L447.49 287.81 L450.05 291.29 L453.12 294.37 L456.41 297.3 M401.01 255.55 L403.69 254.79 L406.4 254.1 L408.7 252.65 L411.07 251.34 L413.06 249.32 L415.38 247.9 M370.53 298.58 L374.65 298.71 L378.8 298.27 L382.93 298.19 L387.02 299.12 L391.14 299.19 L395.24 299.93 M395.17 299.62 L396.06 302.46 L396.91 305.31 L397.11 308.19 L397.25 311.06 L396.93 313.96 L396.15 316.88 M445.1 290.8 L450.02 295.4 L453.87 300.49 L456.73 306.01 L458.67 311.95 L459.75 318.28 L460.73 324.65 M375.13 316.38 L378.6 316.63 L382.08 316.51 L385.56 316.79 L389.04 316.96 L392.52 316.72 L395.99 317.25 M411.61 275.67 L412.67 278.69 L414.12 281.62 L414.71 284.74 L415.43 287.84 L416.03 290.97 L415.95 294.26 M367.66 231.62 L371.91 237.4 L376.66 242.47 L381.61 247.28 L387.43 250.86 L394.2 253.12 L400.82 255.6 M418.78 227.86 L422.47 228.32 L426.14 228.98 L429.88 229.08 L433.53 229.89 L437.2 230.53 L440.91 230.84 M433.43 256.55 L435.2 259.67 L437.4 262.63 L439.42 265.65 L440.25 269.14 L441.06 272.63 L441 276.46 M390.81 274.42 L394.23 275.37 L397.6 277.08 L401.06 277.43 L404.55 277.41 L408.1 276.4 L411.66 275.28 M441.46 276.32 L441.19 278.99 L441.46 281.49 L441.77 283.99 L442.51 286.35 L444.15 288.45 L445.31 290.69 M415.04 247.92 L418.49 248.57 L421.71 249.68 L425.11 250.44 L428.03 252.14 L430.77 254.22 L433.52 256.27" fill="none" stroke="#c8c8c8" stroke-width="1.21"/>
<path d="M400.87 255.46 L403.58 258.34 L406.38 261.18 L408.24 264.52 L409.76 268.03 L411.01 271.68 L411.44 275.77 M395.13 299.47 L392.63 303.33 L389.36 306.29 L386.19 309.36 L382.77 312.14 L378.99 314.51 L374.99 316.6 M440.9 230.55 L443.1 230.78 L445.33 231.38 L447.52 231.3 L449.71 231.1 L451.9 230.99 L454.05 229.97 M453.71 230.41 L456.1 233.97 L458.8 237.4 L460.01 241.46 L461.5 245.4 L463.25 249.23 L464.32 253.35 M395.2 299.43 L398.59 298.24 L401.89 296.68 L405.28 295.5 L408.68 294.37 L412.43 294.59 L416.07 294.36 M396.04 316.71 L399.79 318.56 L403.55 320.38 L407.5 321.54 L411.4 322.85 L415.56 323.27 L419.8 323.43 M419.75 324.12 L423.6 322.11 L427.48 320.25 L431.41 318.72 L435.55 318.56 L439.85 319.37 L444.17 320.32 M375.25 252.14 L375.51 255.85 L375.28 259.5 L375.46 263.2 L374.44 266.75 L373.2 270.26 L371.94 273.78 M367.6 231.62 L369.06 234.95 L370.37 238.33 L371.62 241.73 L372.95 245.11 L373.97 248.6 L374.71 252.18 M463.89 253.42 L463.99 256.36 L463.51 259.02 L461.99 261.17 L460.89 263.53 L459.06 265.53 L457.53 267.68 M371.86 273.79 L370.75 277.88 L369.5 281.96 L369.19 286.11 L368.51 290.22 L369.91 294.48 L370.55 298.69 M441.06 276.34 L444.31 275.89 L447.16 274.7 L450.24 273.94 L452.61 271.9 L454.93 269.75 L457.35 267.8 M456.37 297.2 L455.68 301.99 L455.61 306.69 L455.87 311.33 L457.59 315.77 L458.57 320.31 L460.67 324.69 M400.79 255.34 L398.69 258.26 L397.05 261.43 L395.14 264.45 L393.74 267.75 L392.06 270.89 L390.83 274.28 M370.84 298.61 L371.12 301.75 L371.74 304.8 L372.2 307.89 L373.31 310.81 L373.83 313.89 L375.29 316.72 M445.49 290.48 L447.04 292.11 L449.07 292.91 L450.79 294.26 L452.83 295.04 L454.65 296.21 L456.56 297.23 M457.52 267.68 L454.14 270.82 L451.97 274.58 L449.93 278.4 L448 282.28 L446.27 286.26 L445.41 290.69 M444.02 320.26 L446.93 320.5 L449.62 321.52 L452.37 322.33 L455.1 323.21 L457.89 323.87 L460.66 324.62 M367.66 231.97 L371.43 231.41 L375.21 230.86 L378.95 230.79 L382.62 231.74 L386.35 232.01 L390.01 233.08 M433.29 256.75 L438.06 256.85 L442.39 257.88 L446.57 259.25 L450.14 261.95 L453.91 264.21 L457.11 267.69 M389.98 232.88 L395 233.34 L399.94 233.34 L404.8 232.88 L409.51 231.6 L414.2 230.19 L418.81 228.28 M372.2 273.77 L375.32 273.15 L378.43 272.87 L381.55 272.63 L384.64 273.04 L387.72 273.92 L390.82 274.41 M419.12 228.08 L417.4 231.14 L415.88 234.24 L414.36 237.33 L414.21 240.67 L414.87 244.16 L414.9 247.54 M389.77 232.88 L387.93 236.58 L385.16 239.55 L382.8 242.84 L380.64 246.29 L377.74 249.15 L375.14 252.26 M456.49 297.11 L455.69 301.61 L454.21 305.74 L452.55 309.76 L449.81 313.2 L447.34 316.78 L444.4 320.1 M441.28 276.29 L442.89 280.47 L444.64 284.55 L447.49 287.81 L450.05 291.29 L453.12 294.37 L456.41 297.3 M401.01 255.55 L403.69 254.79 L406.4 254.1 L408.7 252.65 L411.07 251.34 L413.06 249.32 L415.38 247.9 M370.53 298.58 L374.65 298.71 L378.8 298.27 L382.93 298.19 L387.02 299.12 L391.14 299.19 L395.24 299.93 M395.17 299.62 L396.06 302.46 L396.91 305.31 L397.11 308.19 L397.25 311.06 L396.93 313.96 L396.15 316.88 M445.1 290.8 L450.02 295.4 L453.87 300.49 L456.73 306.01 L458.67 311.95 L459.75 318.28 L460.73 324.65 M375.13 316.38 L378.6 316.63 L382.08 316.51 L385.56 316.79 L389.04 316.96 L392.52 316.72 L395.99 317.25 M411.61 275.67 L412.67 278.69 L414.12 281.62 L414.71 284.74 L415.43 287.84 L416.03 290.97 L415.95 294.26 M367.66 231.62 L371.91 237.4 L376.66 242.47 L381.61 247.28 L387.43 250.86 L394.2 253.12 L400.82 255.6 M418.78 227.86 L422.47 228.32 L426.14 228.98 L429.88 229.08 L433.53 229.89 L437.2 230.53 L440.91 230.84 M433.43 256.55 L435.2 259.67 L437.4 262.63 L439.42 265.65 L440.25 269.14 L441.06 272.63 L441 276.46 M390.81 274.42 L394.23 275.37 L397.6 277.08 L401.06 277.43 L404.55 277.41 L408.1 276.4 L411.66 275.28 M441.46 276.32 L441.19 278.99 L441.46 281.49 L441.77 283.99 L442.51 286.35 L444.15 288.45 L445.31 290.69 M415.04 247.92 L418.49 248.57 L421.71 249.68 L425.11 250.44 L428.03 252.14 L430.77 254.22 L433.52 256.27" fill="none" stroke="#6a6a6a" stroke-width="0.55"/>
<g fill="#6a6a6a"><circle cx="403.31" cy="258.06" r="0.58"/><circle cx="408.46" cy="264.92" r="0.67"/><circle cx="409.38" cy="268.37" r="0.72"/><circle cx="385.9" cy="309.25" r="0.47"/><circle cx="383.3" cy="311.83" r="0.46"/><circle cx="378.54" cy="314.05" r="0.46"/><circle cx="445.62" cy="230.87" r="0.7"/><circle cx="450.05" cy="231.32" r="0.72"/><circle cx="458.73" cy="237.11" r="0.59"/><circle cx="461.21" cy="244.92" r="0.68"/><circle cx="412.6" cy="294.49" r="0.72"/><circle cx="403.59" cy="320.65" r="0.64"/><circle cx="411.05" cy="323.39" r="0.41"/><circle cx="416.11" cy="323.03" r="0.69"/><circle cx="431.03" cy="318.45" r="0.78"/><circle cx="375.53" cy="255.48" r="0.43"/><circle cx="374.55" cy="266.47" r="0.76"/><circle cx="372.84" cy="270.66" r="0.64"/><circle cx="369.53" cy="234.95" r="0.78"/><circle cx="370.27" cy="238.67" r="0.77"/><circle cx="373.24" cy="245.11" r="0.49"/><circle cx="463.64" cy="256.05" r="0.55"/><circle cx="459.09" cy="265.91" r="0.68"/><circle cx="368.7" cy="289.74" r="0.76"/><circle cx="369.54" cy="294.82" r="0.46"/><circle cx="444.35" cy="276.29" r="0.58"/><circle cx="452.95" cy="272.4" r="0.55"/><circle cx="454.47" cy="270.26" r="0.79"/><circle cx="456.15" cy="301.52" r="0.62"/><circle cx="455.6" cy="306.53" r="0.41"/><circle cx="458.77" cy="320.69" r="0.57"/><circle cx="398.18" cy="258.56" r="0.67"/><circle cx="397.6" cy="261.64" r="0.63"/><circle cx="395.26" cy="264.84" r="0.65"/><circle cx="393.92" cy="267.91" r="0.52"/><circle cx="391.85" cy="270.45" r="0.66"/><circle cx="371.44" cy="304.82" r="0.57"/><circle cx="372.52" cy="307.32" r="0.67"/><circle cx="374.22" cy="314.34" r="0.41"/><circle cx="449.39" cy="293.16" r="0.59"/><circle cx="453.88" cy="270.62" r="0.43"/><circle cx="452" cy="274.16" r="0.56"/><circle cx="446.62" cy="320.24" r="0.7"/><circle cx="450.01" cy="321.74" r="0.72"/><circle cx="452.95" cy="321.95" r="0.63"/><circle cx="457.93" cy="323.75" r="0.65"/><circle cx="371.45" cy="231.85" r="0.41"/><circle cx="375.09" cy="230.86" r="0.43"/><circle cx="383.03" cy="232.32" r="0.49"/><circle cx="438.43" cy="257.27" r="0.7"/><circle cx="446.73" cy="259.53" r="0.5"/><circle cx="449.76" cy="262.5" r="0.71"/><circle cx="395.24" cy="233.68" r="0.41"/><circle cx="400.03" cy="233.77" r="0.48"/><circle cx="404.57" cy="232.41" r="0.6"/><circle cx="409.73" cy="231.27" r="0.68"/><circle cx="414.15" cy="230.24" r="0.49"/><circle cx="375.18" cy="272.7" r="0.62"/><circle cx="384.4" cy="273.62" r="0.77"/><circle cx="387.8" cy="273.87" r="0.65"/><circle cx="414.96" cy="237.84" r="0.55"/><circle cx="414.75" cy="240.53" r="0.69"/><circle cx="414.74" cy="244.22" r="0.49"/><circle cx="388.36" cy="236.42" r="0.73"/><circle cx="385.11" cy="239.81" r="0.62"/><circle cx="456.08" cy="301.07" r="0.54"/><circle cx="454.29" cy="305.83" r="0.7"/><circle cx="446.88" cy="316.63" r="0.61"/><circle cx="442.3" cy="280.9" r="0.54"/><circle cx="444.4" cy="283.99" r="0.68"/><circle cx="447.44" cy="288.04" r="0.75"/><circle cx="450.54" cy="291.87" r="0.66"/><circle cx="453.2" cy="294.75" r="0.6"/><circle cx="403.89" cy="254.56" r="0.52"/><circle cx="406.69" cy="253.66" r="0.5"/><circle cx="412.7" cy="249.5" r="0.63"/><circle cx="378.6" cy="298.6" r="0.75"/><circle cx="396.4" cy="305.55" r="0.77"/><circle cx="397.64" cy="310.5" r="0.43"/><circle cx="397.12" cy="313.44" r="0.45"/><circle cx="449.91" cy="294.87" r="0.51"/><circle cx="457.21" cy="306.12" r="0.76"/><circle cx="458.35" cy="311.89" r="0.64"/><circle cx="460.33" cy="318.22" r="0.59"/><circle cx="385.41" cy="317.13" r="0.54"/><circle cx="416.24" cy="290.53" r="0.47"/><circle cx="377.24" cy="242.53" r="0.6"/><circle cx="382.19" cy="247.31" r="0.59"/><circle cx="422.23" cy="228.85" r="0.71"/><circle cx="426.33" cy="228.88" r="0.7"/><circle cx="429.9" cy="229.42" r="0.74"/><circle cx="433.56" cy="229.72" r="0.59"/><circle cx="435.5" cy="259.08" r="0.46"/><circle cx="437.66" cy="262.9" r="0.71"/><circle cx="439.73" cy="265.64" r="0.73"/><circle cx="440.62" cy="268.9" r="0.4"/><circle cx="440.69" cy="273.12" r="0.64"/><circle cx="398.16" cy="276.67" r="0.54"/><circle cx="401.49" cy="278" r="0.47"/><circle cx="404.75" cy="277.78" r="0.57"/><circle cx="408.64" cy="275.92" r="0.56"/><circle cx="441.69" cy="281.73" r="0.45"/><circle cx="442.37" cy="284.39" r="0.65"/><circle cx="422.05" cy="249.92" r="0.61"/><circle cx="425.58" cy="250.99" r="0.67"/><circle cx="427.75" cy="251.92" r="0.48"/><circle cx="430.19" cy="254.75" r="0.42"/></g>
<g fill="#c6c6c6" stroke="#4a4a4a" stroke-width="0.5"><circle cx="434.76" cy="256.36" r="1.28"/><circle cx="363.34" cy="233.17" r="0.87"/><circle cx="417.67" cy="293.81" r="0.85"/><circle cx="434.62" cy="227.2" r="1.19"/><circle cx="413.91" cy="245.77" r="1.13"/><circle cx="458.09" cy="323.61" r="0.81"/><circle cx="387.46" cy="235.35" r="1.1"/><circle cx="385.21" cy="234.23" r="0.81"/><circle cx="421.72" cy="321.62" r="0.97"/><circle cx="416.48" cy="229.05" r="1.36"/><circle cx="455.76" cy="295.32" r="1.41"/><circle cx="392.4" cy="303.04" r="1.24"/><circle cx="439.79" cy="231.12" r="1.22"/><circle cx="392.02" cy="299.55" r="0.82"/><circle cx="384.14" cy="276.67" r="1.29"/><circle cx="454.38" cy="230.49" r="1.08"/><circle cx="412.51" cy="275.1" r="0.87"/><circle cx="373.85" cy="270.62" r="1.16"/><circle cx="444.89" cy="295.99" r="0.88"/><circle cx="397.61" cy="315.67" r="1.17"/><circle cx="438.53" cy="227.41" r="0.95"/><circle cx="446.75" cy="280.15" r="0.87"/><circle cx="460.03" cy="327.55" r="1.12"/><circle cx="458.47" cy="263.05" r="1.27"/><circle cx="395.73" cy="297.92" r="0.81"/><circle cx="396.76" cy="317.5" r="1.39"/><circle cx="373.36" cy="253.25" r="1.3"/><circle cx="370.92" cy="233.73" r="1.06"/><circle cx="445.3" cy="288.66" r="0.82"/><circle cx="370.2" cy="230.07" r="0.97"/><circle cx="366.29" cy="299.88" r="0.96"/><circle cx="443.54" cy="318.29" r="1.05"/><circle cx="413.95" cy="271.42" r="0.81"/><circle cx="441.62" cy="324.33" r="1.27"/><circle cx="454.87" cy="267.07" r="0.96"/><circle cx="370.94" cy="317.39" r="1.28"/><circle cx="373.63" cy="296.55" r="0.82"/><circle cx="367.44" cy="229.15" r="0.81"/><circle cx="455.53" cy="266.85" r="1.46"/><circle cx="389.87" cy="232.47" r="1.28"/><circle cx="398.44" cy="255.6" r="1.28"/><circle cx="438.04" cy="255.78" r="1.1"/><circle cx="392" cy="300.61" r="0.83"/><circle cx="436.82" cy="277.34" r="0.87"/><circle cx="449.36" cy="232.48" r="1.42"/><circle cx="367.57" cy="230.67" r="1.39"/><circle cx="418.45" cy="293.48" r="0.95"/><circle cx="417.41" cy="245.2" r="1.34"/><circle cx="442.34" cy="274.27" r="0.87"/><circle cx="447.62" cy="288.2" r="1.45"/><circle cx="375.59" cy="317.54" r="1.09"/><circle cx="396.78" cy="315.86" r="1.23"/><circle cx="367.62" cy="234.21" r="0.84"/><circle cx="419.07" cy="247.44" r="1.48"/><circle cx="453.05" cy="229.35" r="0.81"/><circle cx="416.01" cy="248.01" r="1.36"/><circle cx="372.36" cy="250.95" r="1.23"/><circle cx="466.87" cy="326.98" r="1.28"/><circle cx="415.07" cy="243.91" r="1.47"/><circle cx="432.18" cy="255.85" r="1.28"/><circle cx="438.44" cy="254.47" r="1.39"/><circle cx="446.31" cy="321.81" r="1.28"/><circle cx="392.66" cy="230.64" r="0.83"/><circle cx="405.18" cy="257.59" r="1.4"/><circle cx="368.18" cy="272.42" r="0.84"/><circle cx="421.73" cy="321.85" r="0.97"/><circle cx="393.04" cy="268.81" r="1.07"/><circle cx="462.52" cy="251.17" r="1.01"/><circle cx="388.88" cy="272.64" r="1.45"/><circle cx="451.75" cy="230.35" r="0.8"/><circle cx="389.51" cy="230.1" r="1.46"/><circle cx="458.26" cy="224.48" r="1.04"/><circle cx="415.21" cy="274.34" r="1.48"/><circle cx="452.2" cy="230.71" r="0.84"/><circle cx="412.22" cy="271.59" r="1.01"/><circle cx="455.56" cy="267.26" r="1.39"/><circle cx="389.41" cy="275.9" r="0.82"/><circle cx="457.52" cy="297.83" r="1.31"/><circle cx="370.85" cy="298.05" r="1.38"/><circle cx="457.65" cy="327.4" r="0.93"/><circle cx="394.23" cy="303.58" r="0.84"/><circle cx="375.55" cy="254.89" r="1.35"/><circle cx="373.65" cy="315.21" r="0.91"/><circle cx="422.52" cy="323.94" r="0.87"/><circle cx="399.17" cy="319.07" r="1.02"/><circle cx="457.27" cy="295.24" r="0.89"/><circle cx="446.44" cy="319.69" r="1.37"/><circle cx="420.42" cy="290.99" r="1.05"/><circle cx="396.59" cy="320.28" r="0.81"/><circle cx="446.4" cy="319.57" r="0.83"/><circle cx="416.46" cy="248.72" r="1.32"/><circle cx="456.17" cy="267.01" r="1.42"/><circle cx="418.25" cy="323.25" r="0.87"/><circle cx="443.05" cy="294.97" r="1.08"/><circle cx="392.83" cy="236.44" r="1.48"/><circle cx="401.9" cy="259.24" r="1.04"/><circle cx="392.76" cy="299.34" r="1.4"/><circle cx="396.65" cy="318.29" r="0.98"/><circle cx="370.16" cy="294.57" r="1.3"/><circle cx="367.09" cy="232.51" r="1.26"/><circle cx="399.8" cy="254.9" r="1.15"/><circle cx="456.96" cy="266.58" r="1"/><circle cx="448.21" cy="291.13" r="1.36"/><circle cx="453.49" cy="295.77" r="1.22"/><circle cx="372.58" cy="255.96" r="0.96"/><circle cx="416.22" cy="223.82" r="1.04"/><circle cx="434.23" cy="254.37" r="1.23"/><circle cx="417.84" cy="326.45" r="1.27"/><circle cx="443.15" cy="279.07" r="1.01"/><circle cx="455.4" cy="270.41" r="1.14"/></g>
</g>
<line x1="446.7" y1="294" x2="455.1" y2="294" stroke="#777" stroke-width="1.3"/>
<rect x="384.1" y="240.8" width="75.5" height="56.9" fill="none" stroke="#444" stroke-width="1"/>
<rect x="461.5" y="240.8" width="74.9" height="56.9" fill="#c0c0c0"/>
<g filter="url(#soft)">
<rect x="461.5" y="240.8" width="74.9" height="56.9" fill="url(#p24)"/>
</g>
<line x1="523.5" y1="294" x2="531.9" y2="294" stroke="#777" stroke-width="1.3"/>
<rect x="461.5" y="240.8" width="74.9" height="56.9" fill="none" stroke="#444" stroke-width="1"/>
<rect x="538.4" y="240.8" width="75.3" height="56.9" fill="#bfbfbf"/>
<g clip-path="url(#cl4)">
<path d="M532.96 233.43 L537.61 232 L542.39 230.83 L546.76 228.9 L550.8 226.32 L554.6 223.32 L558.28 220.1 M521.32 285.07 L520.81 289.9 L520.64 294.76 L519.36 299.5 L519.4 304.38 L518.68 309.18 L518.24 314.01 M558.38 219.85 L562.21 221.05 L565.92 222.52 L569.56 224.12 L573.1 225.95 L576.35 228.37 L579.99 229.99 M619.81 215.68 L622.57 218.76 L625.77 221.44 L628.65 224.4 L631.45 227.44 L633.94 230.76 L636.24 234.25 M579.8 230.31 L583.36 234.15 L586.68 238.09 L588.73 242.55 L589.77 247.42 L591.09 252.18 L591.25 257.41 M549.96 258.83 L551.76 262.26 L553.16 265.77 L554.18 269.36 L554.19 273.14 L554.37 276.9 L553.8 280.8 M636.34 234.13 L637.54 238.35 L638.54 242.64 L640.09 246.72 L641.2 250.98 L643.92 254.6 L645.79 258.56 M605.06 287.88 L604.26 292.05 L603.52 296.25 L601.84 299.97 L599.4 303.28 L596.7 306.46 L593.49 309.38 M576.4 287.09 L574.49 291.6 L572.52 296.07 L569.9 300.18 L567.58 304.46 L564.77 308.46 L562.07 312.52 M533.37 233.4 L537.29 236.86 L540.88 240.54 L543.67 244.76 L545.87 249.35 L548.09 253.94 L549.63 258.98 M554.23 280.5 L558.22 280.77 L562.24 280.91 L565.88 282.4 L569.67 283.33 L573.25 285.02 L576.61 287.47 M515.2 259.1 L516.45 263.39 L517.07 267.82 L517.75 272.24 L519.33 276.45 L520.53 280.74 L521.75 285.04 M649.42 292.66 L649.47 297.63 L648.74 302.53 L648.02 307.42 L647.58 312.35 L647.08 317.27 L646.59 322.19 M605.07 287.8 L607.4 291.07 L609.29 294.72 L611.8 297.84 L614.31 300.96 L617.39 303.6 L620.82 305.93 M591.04 257.63 L594.18 255.95 L597.19 253.77 L600.48 252.66 L603.95 252.16 L607.49 251.97 L611.03 251.77" fill="none" stroke="#d0d0d0" stroke-width="0.99"/>
<path d="M532.96 233.43 L537.61 232 L542.39 230.83 L546.76 228.9 L550.8 226.32 L554.6 223.32 L558.28 220.1 M521.32 285.07 L520.81 289.9 L520.64 294.76 L519.36 299.5 L519.4 304.38 L518.68 309.18 L518.24 314.01 M558.38 219.85 L562.21 221.05 L565.92 222.52 L569.56 224.12 L573.1 225.95 L576.35 228.37 L579.99 229.99 M619.81 215.68 L622.57 218.76 L625.77 221.44 L628.65 224.4 L631.45 227.44 L633.94 230.76 L636.24 234.25 M579.8 230.31 L583.36 234.15 L586.68 238.09 L588.73 242.55 L589.77 247.42 L591.09 252.18 L591.25 257.41 M549.96 258.83 L551.76 262.26 L553.16 265.77 L554.18 269.36 L554.19 273.14 L554.37 276.9 L553.8 280.8 M636.34 234.13 L637.54 238.35 L638.54 242.64 L640.09 246.72 L641.2 250.98 L643.92 254.6 L645.79 258.56 M605.06 287.88 L604.26 292.05 L603.52 296.25 L601.84 299.97 L599.4 303.28 L596.7 306.46 L593.49 309.38 M576.4 287.09 L574.49 291.6 L572.52 296.07 L569.9 300.18 L567.58 304.46 L564.77 308.46 L562.07 312.52 M533.37 233.4 L537.29 236.86 L540.88 240.54 L543.67 244.76 L545.87 249.35 L548.09 253.94 L549.63 258.98 M554.23 280.5 L558.22 280.77 L562.24 280.91 L565.88 282.4 L569.67 283.33 L573.25 285.02 L576.61 287.47 M515.2 259.1 L516.45 263.39 L517.07 267.82 L517.75 272.24 L519.33 276.45 L520.53 280.74 L521.75 285.04 M649.42 292.66 L649.47 297.63 L648.74 302.53 L648.02 307.42 L647.58 312.35 L647.08 317.27 L646.59 322.19 M605.07 287.8 L607.4 291.07 L609.29 294.72 L611.8 297.84 L614.31 300.96 L617.39 303.6 L620.82 305.93 M591.04 257.63 L594.18 255.95 L597.19 253.77 L600.48 252.66 L603.95 252.16 L607.49 251.97 L611.03 251.77" fill="none" stroke="#8a8a8a" stroke-width="0.45"/>
<g fill="#8a8a8a"><circle cx="542.8" cy="231.06" r="0.74"/><circle cx="520.9" cy="290.01" r="0.73"/><circle cx="519.44" cy="300.05" r="0.65"/><circle cx="518.91" cy="308.84" r="0.47"/><circle cx="561.68" cy="221.05" r="0.49"/><circle cx="569.2" cy="224.1" r="0.43"/><circle cx="626.24" cy="221" r="0.54"/><circle cx="583.71" cy="233.92" r="0.67"/><circle cx="588.66" cy="242.09" r="0.72"/><circle cx="591.46" cy="252.57" r="0.43"/><circle cx="553.24" cy="265.36" r="0.63"/><circle cx="554.69" cy="269.12" r="0.76"/><circle cx="553.84" cy="272.84" r="0.73"/><circle cx="637.28" cy="238.47" r="0.47"/><circle cx="639.01" cy="242.39" r="0.4"/><circle cx="599.42" cy="303.5" r="0.77"/><circle cx="574.27" cy="292.08" r="0.72"/><circle cx="570.45" cy="300.6" r="0.73"/><circle cx="543.66" cy="245.27" r="0.53"/><circle cx="558.53" cy="280.71" r="0.44"/><circle cx="562.82" cy="280.36" r="0.51"/><circle cx="565.99" cy="282.04" r="0.74"/><circle cx="570.21" cy="282.88" r="0.49"/><circle cx="572.7" cy="284.64" r="0.64"/><circle cx="520.2" cy="280.98" r="0.5"/><circle cx="648.75" cy="303.04" r="0.48"/><circle cx="647.66" cy="307.88" r="0.44"/><circle cx="647.71" cy="312.62" r="0.57"/><circle cx="607.17" cy="291.34" r="0.52"/><circle cx="608.91" cy="294.45" r="0.6"/><circle cx="617.45" cy="304.17" r="0.56"/><circle cx="594.09" cy="256.5" r="0.63"/><circle cx="597.74" cy="253.51" r="0.46"/><circle cx="599.91" cy="253.16" r="0.61"/></g>
<g fill="#d4d4d4" stroke="#666" stroke-width="0.5"><circle cx="577.85" cy="232" r="0.81"/><circle cx="594.36" cy="259.36" r="1.32"/><circle cx="585.16" cy="258.05" r="1.09"/><circle cx="594.04" cy="309.3" r="0.91"/><circle cx="650.77" cy="257.95" r="0.84"/><circle cx="642.11" cy="323.73" r="1.35"/><circle cx="579.98" cy="229.43" r="1.14"/><circle cx="577.59" cy="229.56" r="0.88"/><circle cx="586.04" cy="228.51" r="1.21"/><circle cx="519.89" cy="310.25" r="1.05"/><circle cx="558.68" cy="218.16" r="1.27"/><circle cx="646.92" cy="318.75" r="0.96"/><circle cx="583.04" cy="229.95" r="1.2"/><circle cx="583.3" cy="225.86" r="1.01"/><circle cx="555.55" cy="278.19" r="0.81"/><circle cx="520" cy="312.6" r="1.08"/><circle cx="515.26" cy="256.61" r="1.01"/><circle cx="516.66" cy="311.34" r="0.95"/><circle cx="557.25" cy="283.23" r="0.92"/><circle cx="589.16" cy="257.73" r="1.02"/><circle cx="617.75" cy="214.74" r="1.01"/><circle cx="533.96" cy="231.44" r="0.85"/></g>
</g>
<line x1="600.8" y1="294" x2="609.2" y2="294" stroke="#777" stroke-width="1.3"/>
<rect x="538.4" y="240.8" width="75.3" height="56.9" fill="none" stroke="#444" stroke-width="1"/>
<rect x="405.7" y="173.6" width="8.8" height="5.2" fill="#4fc0ef"/>
<text transform="translate(416.2 178.8)" font-size="8.1" font-weight="bold">shNC</text>
<rect x="487" y="173.6" width="8.7" height="5.2" fill="#e23560"/>
<text transform="translate(497.4 178.8)" font-size="8.1" font-weight="bold">sh1</text>
<rect x="563.5" y="173.6" width="8.8" height="5.2" fill="#f88577"/>
<text transform="translate(574 178.8)" font-size="8.1" font-weight="bold">sh2</text>
<line x1="371.2" y1="184.8" x2="371.2" y2="291.8" stroke="#111" stroke-width="0.9"/>
<text transform="translate(381.6 209.2) rotate(-90)" font-size="8.3" font-weight="bold" text-anchor="middle">MHCC97H</text>
<text transform="translate(381.6 269.5) rotate(-90)" font-size="8.4" font-weight="bold" text-anchor="middle">HCCLM3</text>
<text transform="translate(369 237.9) rotate(-90)" font-size="8.4" font-weight="bold" text-anchor="middle">HUVEC co-culturation</text>
<text transform="translate(624.8 176.5)" font-size="7.3" font-weight="bold">HUVEC branches</text>
<line x1="636.4" y1="188" x2="636.4" y2="237.3" stroke="#6a6a6a" stroke-width="1.2"/>
<line x1="636.4" y1="237.3" x2="679.9" y2="237.3" stroke="#6a6a6a" stroke-width="1.2"/>
<line x1="634.2" y1="190.5" x2="636.4" y2="190.5" stroke="#6a6a6a" stroke-width="0.8"/>
<text transform="translate(633.3 192.66)" font-size="6" text-anchor="end" fill="#111">40</text>
<line x1="634.2" y1="202.5" x2="636.4" y2="202.5" stroke="#6a6a6a" stroke-width="0.8"/>
<text transform="translate(633.3 204.66)" font-size="6" text-anchor="end" fill="#111">30</text>
<line x1="634.2" y1="213.8" x2="636.4" y2="213.8" stroke="#6a6a6a" stroke-width="0.8"/>
<text transform="translate(633.3 215.96)" font-size="6" text-anchor="end" fill="#111">20</text>
<line x1="634.2" y1="225.6" x2="636.4" y2="225.6" stroke="#6a6a6a" stroke-width="0.8"/>
<text transform="translate(633.3 227.76)" font-size="6" text-anchor="end" fill="#111">10</text>
<line x1="634.2" y1="237.6" x2="636.4" y2="237.6" stroke="#6a6a6a" stroke-width="0.8"/>
<text transform="translate(633.3 239.76)" font-size="6" text-anchor="end" fill="#111">0</text>
<rect x="640.2" y="207" width="9.7" height="30" fill="#4fc0ef"/>
<rect x="651.1" y="228.1" width="9.7" height="8.9" fill="#e23560"/>
<rect x="662.4" y="227.9" width="9.5" height="9.1" fill="#f88577"/>
<line x1="645" y1="203.5" x2="645" y2="210.5" stroke="#111" stroke-width="0.8"/>
<line x1="642.8" y1="203.5" x2="647.2" y2="203.5" stroke="#111" stroke-width="0.8"/>
<circle cx="645" cy="202" r="1.1" fill="none" stroke="#111" stroke-width="0.7"/>
<circle cx="644" cy="209.5" r="1.1" fill="none" stroke="#111" stroke-width="0.7"/>
<circle cx="645.5" cy="211" r="1.1" fill="none" stroke="#111" stroke-width="0.7"/>
<line x1="656" y1="225.1" x2="656" y2="231.1" stroke="#111" stroke-width="0.8"/>
<line x1="653.8" y1="225.1" x2="658.2" y2="225.1" stroke="#111" stroke-width="0.8"/>
<circle cx="656.5" cy="223.6" r="1.1" fill="none" stroke="#111" stroke-width="0.7"/>
<circle cx="655" cy="231.6" r="1.1" fill="none" stroke="#111" stroke-width="0.7"/>
<circle cx="657.5" cy="230.1" r="1.1" fill="none" stroke="#111" stroke-width="0.7"/>
<line x1="667.1" y1="226.4" x2="667.1" y2="229.4" stroke="#111" stroke-width="0.8"/>
<line x1="664.9" y1="226.4" x2="669.3" y2="226.4" stroke="#111" stroke-width="0.8"/>
<circle cx="665.6" cy="226.4" r="1.1" fill="none" stroke="#111" stroke-width="0.7"/>
<circle cx="668.3" cy="227.4" r="1.1" fill="none" stroke="#111" stroke-width="0.7"/>
<circle cx="667.9" cy="229.4" r="1.1" fill="none" stroke="#111" stroke-width="0.7"/>
<line x1="645.9" y1="187.4" x2="666.9" y2="187.4" stroke="#111" stroke-width="0.8"/>
<text transform="translate(656.4 190.65)" font-size="14" font-weight="bold" text-anchor="middle">**</text>
<line x1="644.3" y1="195.7" x2="656" y2="195.7" stroke="#111" stroke-width="0.8"/>
<text transform="translate(650.1 198.95)" font-size="14" font-weight="bold" text-anchor="middle">**</text>
<text transform="translate(625.2 212) rotate(-90)" font-size="8.2" font-weight="bold" text-anchor="middle">Numbers</text>
<line x1="636.1" y1="246.8" x2="636.1" y2="297" stroke="#6a6a6a" stroke-width="1.2"/>
<line x1="636.1" y1="297" x2="679.9" y2="297" stroke="#6a6a6a" stroke-width="1.2"/>
<line x1="633.9" y1="247.5" x2="636.1" y2="247.5" stroke="#6a6a6a" stroke-width="0.8"/>
<text transform="translate(633 249.66)" font-size="6" text-anchor="end" fill="#111">50</text>
<line x1="633.9" y1="257.5" x2="636.1" y2="257.5" stroke="#6a6a6a" stroke-width="0.8"/>
<text transform="translate(633 259.66)" font-size="6" text-anchor="end" fill="#111">40</text>
<line x1="633.9" y1="267.5" x2="636.1" y2="267.5" stroke="#6a6a6a" stroke-width="0.8"/>
<text transform="translate(633 269.66)" font-size="6" text-anchor="end" fill="#111">30</text>
<line x1="633.9" y1="277.5" x2="636.1" y2="277.5" stroke="#6a6a6a" stroke-width="0.8"/>
<text transform="translate(633 279.66)" font-size="6" text-anchor="end" fill="#111">20</text>
<line x1="633.9" y1="287.3" x2="636.1" y2="287.3" stroke="#6a6a6a" stroke-width="0.8"/>
<text transform="translate(633 289.46)" font-size="6" text-anchor="end" fill="#111">10</text>
<line x1="633.9" y1="297" x2="636.1" y2="297" stroke="#6a6a6a" stroke-width="0.8"/>
<text transform="translate(633 299.16)" font-size="6" text-anchor="end" fill="#111">0</text>
<rect x="639.9" y="266.8" width="10" height="29.9" fill="#4fc0ef"/>
<rect x="651.1" y="286.8" width="9.8" height="9.9" fill="#e23560"/>
<rect x="662" y="283.9" width="10" height="12.8" fill="#f88577"/>
<line x1="644.9" y1="263" x2="644.9" y2="270.6" stroke="#111" stroke-width="0.8"/>
<line x1="642.7" y1="263" x2="647.1" y2="263" stroke="#111" stroke-width="0.8"/>
<circle cx="644.9" cy="260.8" r="1.1" fill="none" stroke="#111" stroke-width="0.7"/>
<circle cx="643.4" cy="269.3" r="1.1" fill="none" stroke="#111" stroke-width="0.7"/>
<circle cx="644.4" cy="270.3" r="1.1" fill="none" stroke="#111" stroke-width="0.7"/>
<line x1="656" y1="286.5" x2="656" y2="287.1" stroke="#111" stroke-width="0.8"/>
<line x1="653.8" y1="286.5" x2="658.2" y2="286.5" stroke="#111" stroke-width="0.8"/>
<circle cx="654.8" cy="286.8" r="1.1" fill="none" stroke="#111" stroke-width="0.7"/>
<circle cx="656.8" cy="286.8" r="1.1" fill="none" stroke="#111" stroke-width="0.7"/>
<circle cx="657.8" cy="286.8" r="1.1" fill="none" stroke="#111" stroke-width="0.7"/>
<line x1="667" y1="281.6" x2="667" y2="286.2" stroke="#111" stroke-width="0.8"/>
<line x1="664.8" y1="281.6" x2="669.2" y2="281.6" stroke="#111" stroke-width="0.8"/>
<circle cx="667" cy="279.4" r="1.1" fill="none" stroke="#111" stroke-width="0.7"/>
<circle cx="666" cy="284.4" r="1.1" fill="none" stroke="#111" stroke-width="0.7"/>
<circle cx="669" cy="286.4" r="1.1" fill="none" stroke="#111" stroke-width="0.7"/>
<line x1="645.4" y1="247.4" x2="667" y2="247.4" stroke="#111" stroke-width="0.8"/>
<text transform="translate(656.2 250.65)" font-size="14" font-weight="bold" text-anchor="middle">*</text>
<line x1="645.4" y1="255.7" x2="656" y2="255.7" stroke="#111" stroke-width="0.8"/>
<text transform="translate(650.7 258.95)" font-size="14" font-weight="bold" text-anchor="middle">**</text>
<text transform="translate(625 270.6) rotate(-90)" font-size="8.2" font-weight="bold" text-anchor="middle">Numbers</text>
<rect x="49.8" y="337.4" width="98.8" height="74.8" fill="#dad7ee"/>
<g filter="url(#soft)">
<rect x="49.8" y="337.4" width="98.8" height="74.8" fill="url(#p25)"/>
<rect x="49.8" y="337.4" width="98.8" height="74.8" fill="url(#p26)"/>
</g>
<line x1="133.9" y1="407.5" x2="141.6" y2="407.5" stroke="#222" stroke-width="1"/>
<rect x="49.8" y="337.4" width="98.8" height="74.8" fill="none" stroke="#555" stroke-width="1.1"/>
<rect x="151.6" y="337.4" width="99" height="74.8" fill="#d3d3ee"/>
<g filter="url(#soft)">
<rect x="151.6" y="337.4" width="99" height="74.8" fill="url(#p27)"/>
<rect x="151.6" y="337.4" width="99" height="74.8" fill="url(#p28)"/>
</g>
<line x1="235.9" y1="407.5" x2="243.6" y2="407.5" stroke="#222" stroke-width="1"/>
<rect x="151.6" y="337.4" width="99" height="74.8" fill="none" stroke="#555" stroke-width="1.1"/>
<rect x="253.8" y="337.4" width="98.6" height="74.8" fill="#d8d9ef"/>
<g filter="url(#soft)">
<rect x="253.8" y="337.4" width="98.6" height="74.8" fill="url(#p29)"/>
<rect x="253.8" y="337.4" width="98.6" height="74.8" fill="url(#p30)"/>
</g>
<line x1="337.7" y1="407.5" x2="345.4" y2="407.5" stroke="#222" stroke-width="1"/>
<rect x="253.8" y="337.4" width="98.6" height="74.8" fill="none" stroke="#555" stroke-width="1.1"/>
<rect x="356.2" y="337.4" width="98.3" height="74.8" fill="#d3d5ec"/>
<g filter="url(#soft)">
<rect x="356.2" y="337.4" width="98.3" height="74.8" fill="url(#p31)"/>
<rect x="356.2" y="337.4" width="98.3" height="74.8" fill="url(#p32)"/>
</g>
<line x1="439.8" y1="407.5" x2="447.5" y2="407.5" stroke="#222" stroke-width="1"/>
<rect x="356.2" y="337.4" width="98.3" height="74.8" fill="none" stroke="#555" stroke-width="1.1"/>
<rect x="49.8" y="441.4" width="98.8" height="74.8" fill="#dddddd"/>
<g filter="url(#soft)">
<rect x="49.8" y="441.4" width="98.8" height="74.8" fill="url(#p33)"/>
</g>
<line x1="133.9" y1="511.5" x2="141.6" y2="511.5" stroke="#222" stroke-width="1"/>
<rect x="49.8" y="441.4" width="98.8" height="74.8" fill="none" stroke="#555" stroke-width="1.1"/>
<rect x="151.6" y="441.4" width="99" height="74.8" fill="#dcdcdc"/>
<rect x="151.6" y="441.4" width="99" height="74.8" fill="url(#gLen)"/>
<g filter="url(#soft)">
<rect x="151.6" y="441.4" width="99" height="74.8" fill="url(#p34)"/>
</g>
<line x1="235.9" y1="511.5" x2="243.6" y2="511.5" stroke="#222" stroke-width="1"/>
<rect x="151.6" y="441.4" width="99" height="74.8" fill="none" stroke="#555" stroke-width="1.1"/>
<rect x="253.8" y="441.4" width="98.6" height="74.8" fill="#dedede"/>
<g filter="url(#soft)">
<rect x="253.8" y="441.4" width="98.6" height="74.8" fill="url(#p35)"/>
</g>
<line x1="337.7" y1="511.5" x2="345.4" y2="511.5" stroke="#222" stroke-width="1"/>
<rect x="253.8" y="441.4" width="98.6" height="74.8" fill="none" stroke="#555" stroke-width="1.1"/>
<rect x="356.2" y="441.4" width="98.3" height="74.8" fill="#dcdcdc"/>
<rect x="356.2" y="441.4" width="98.3" height="74.8" fill="url(#gG20)"/>
<g filter="url(#soft)">
<rect x="356.2" y="441.4" width="98.3" height="74.8" fill="url(#p36)"/>
</g>
<line x1="439.8" y1="511.5" x2="447.5" y2="511.5" stroke="#222" stroke-width="1"/>
<rect x="356.2" y="441.4" width="98.3" height="74.8" fill="none" stroke="#555" stroke-width="1.1"/>
<rect x="87.1" y="328.1" width="8.9" height="5.9" fill="#4fc0ef"/>
<text transform="translate(97.8 334)" font-size="8.55" font-weight="bold">NC</text>
<rect x="161.9" y="328.1" width="8.5" height="5.9" fill="#f9c898"/>
<text transform="translate(172.2 334)" font-size="8.55" font-weight="bold">Lenvatinib (6µM)</text>
<rect x="265.7" y="328.1" width="9" height="5.9" fill="#dc6ad2"/>
<text transform="translate(276.5 334)" font-size="8.55" font-weight="bold">Gefitinib (10µM)</text>
<rect x="367.8" y="328.1" width="9.3" height="5.9" fill="#ee1f3c"/>
<text transform="translate(378.9 334)" font-size="8.55" font-weight="bold">Gefitinib (20µM)</text>
<rect x="87.1" y="432.2" width="8.9" height="5.9" fill="#4fc0ef"/>
<text transform="translate(97.8 438.1)" font-size="8.55" font-weight="bold">NC</text>
<rect x="161.9" y="432.2" width="8.5" height="5.9" fill="#f9c898"/>
<text transform="translate(172.2 438.1)" font-size="8.55" font-weight="bold">Lenvatinib (6µM)</text>
<rect x="265.7" y="432.2" width="9" height="5.9" fill="#dc6ad2"/>
<text transform="translate(276.5 438.1)" font-size="8.55" font-weight="bold">Gefitinib (10µM)</text>
<rect x="367.8" y="432.2" width="9.3" height="5.9" fill="#ee1f3c"/>
<text transform="translate(378.9 438.1)" font-size="8.55" font-weight="bold">Gefitinib (20µM)</text>
<text transform="translate(35 374.5) rotate(-90)" font-size="8.1" font-weight="bold" text-anchor="middle">HUVEC co-cultured</text>
<text transform="translate(45.4 374.5) rotate(-90)" font-size="8.2" font-weight="bold" text-anchor="middle">with CM from MHCC97H</text>
<text transform="translate(35 478.7) rotate(-90)" font-size="8.1" font-weight="bold" text-anchor="middle">HUVEC co-cultured</text>
<text transform="translate(45.4 478.7) rotate(-90)" font-size="8.2" font-weight="bold" text-anchor="middle">with CM from MHCC97H</text>
<text transform="translate(504 333.3)" font-size="7.3" font-weight="bold" text-anchor="middle">Migrating HUVEC</text>
<line x1="482.2" y1="360" x2="482.2" y2="412.3" stroke="#222" stroke-width="0.9"/>
<line x1="482.2" y1="412.3" x2="530.7" y2="412.3" stroke="#222" stroke-width="0.9"/>
<line x1="480" y1="369.1" x2="482.2" y2="369.1" stroke="#222" stroke-width="0.8"/>
<text transform="translate(479.1 371.37)" font-size="6.3" text-anchor="end" fill="#111">750</text>
<line x1="480" y1="383.4" x2="482.2" y2="383.4" stroke="#222" stroke-width="0.8"/>
<text transform="translate(479.1 385.67)" font-size="6.3" text-anchor="end" fill="#111">500</text>
<line x1="480" y1="397.6" x2="482.2" y2="397.6" stroke="#222" stroke-width="0.8"/>
<text transform="translate(479.1 399.87)" font-size="6.3" text-anchor="end" fill="#111">250</text>
<line x1="480" y1="411.9" x2="482.2" y2="411.9" stroke="#222" stroke-width="0.8"/>
<text transform="translate(479.1 414.17)" font-size="6.3" text-anchor="end" fill="#111">0</text>
<rect x="485.8" y="368.1" width="9.2" height="43.9" fill="#4fc0ef"/>
<rect x="496.3" y="390.4" width="9.1" height="21.6" fill="#f9c898"/>
<rect x="506.9" y="398.6" width="9" height="13.4" fill="#dc6ad2"/>
<rect x="517.8" y="403.7" width="9.1" height="8.3" fill="#ee1f3c"/>
<line x1="490.4" y1="366.6" x2="490.4" y2="369.6" stroke="#111" stroke-width="0.8"/>
<line x1="488.2" y1="366.6" x2="492.6" y2="366.6" stroke="#111" stroke-width="0.8"/>
<circle cx="489.4" cy="368.6" r="1.1" fill="none" stroke="#111" stroke-width="0.7"/>
<circle cx="490.9" cy="367.6" r="1.1" fill="none" stroke="#111" stroke-width="0.7"/>
<circle cx="491.4" cy="369.6" r="1.1" fill="none" stroke="#111" stroke-width="0.7"/>
<line x1="500.8" y1="389.6" x2="500.8" y2="391.2" stroke="#111" stroke-width="0.8"/>
<line x1="498.6" y1="389.6" x2="503" y2="389.6" stroke="#111" stroke-width="0.8"/>
<circle cx="499.8" cy="390.4" r="1.1" fill="none" stroke="#111" stroke-width="0.7"/>
<circle cx="501.3" cy="390.7" r="1.1" fill="none" stroke="#111" stroke-width="0.7"/>
<circle cx="502.3" cy="390.2" r="1.1" fill="none" stroke="#111" stroke-width="0.7"/>
<line x1="511.4" y1="397.8" x2="511.4" y2="399.4" stroke="#111" stroke-width="0.8"/>
<line x1="509.2" y1="397.8" x2="513.6" y2="397.8" stroke="#111" stroke-width="0.8"/>
<circle cx="510.4" cy="398.6" r="1.1" fill="none" stroke="#111" stroke-width="0.7"/>
<circle cx="511.9" cy="398.9" r="1.1" fill="none" stroke="#111" stroke-width="0.7"/>
<circle cx="512.9" cy="398.4" r="1.1" fill="none" stroke="#111" stroke-width="0.7"/>
<line x1="522.3" y1="403.1" x2="522.3" y2="404.3" stroke="#111" stroke-width="0.8"/>
<line x1="520.1" y1="403.1" x2="524.5" y2="403.1" stroke="#111" stroke-width="0.8"/>
<circle cx="520.8" cy="403.7" r="1.1" fill="none" stroke="#111" stroke-width="0.7"/>
<circle cx="522.6" cy="403.9" r="1.1" fill="none" stroke="#111" stroke-width="0.7"/>
<circle cx="523.8" cy="403.5" r="1.1" fill="none" stroke="#111" stroke-width="0.7"/>
<line x1="490.2" y1="348.5" x2="522.5" y2="348.5" stroke="#111" stroke-width="0.8"/>
<text transform="translate(506.35 351.75)" font-size="14" font-weight="bold" text-anchor="middle">***</text>
<line x1="490.2" y1="356.1" x2="511.5" y2="356.1" stroke="#111" stroke-width="0.8"/>
<text transform="translate(500.85 359.35)" font-size="14" font-weight="bold" text-anchor="middle">***</text>
<line x1="487.3" y1="364.7" x2="500.7" y2="364.7" stroke="#111" stroke-width="0.8"/>
<text transform="translate(494 367.95)" font-size="14" font-weight="bold" text-anchor="middle">***</text>
<line x1="501.6" y1="373.3" x2="522.5" y2="373.3" stroke="#111" stroke-width="0.8"/>
<text transform="translate(512.05 376.55)" font-size="14" font-weight="bold" text-anchor="middle">***</text>
<line x1="499.7" y1="381.8" x2="512.1" y2="381.8" stroke="#111" stroke-width="0.8"/>
<text transform="translate(505.9 385.05)" font-size="14" font-weight="bold" text-anchor="middle">***</text>
<line x1="512.1" y1="389.4" x2="522.5" y2="389.4" stroke="#111" stroke-width="0.8"/>
<text transform="translate(517.3 392.65)" font-size="14" font-weight="bold" text-anchor="middle">**</text>
<text transform="translate(465.6 383.3) rotate(-90)" font-size="8.2" font-weight="bold" text-anchor="middle">Numbers</text>
<text transform="translate(503.8 437.7)" font-size="7.3" font-weight="bold" text-anchor="middle">HUVEC branches</text>
<line x1="482.6" y1="460.3" x2="482.6" y2="515.6" stroke="#222" stroke-width="0.9"/>
<line x1="482.6" y1="515.6" x2="533.1" y2="515.6" stroke="#222" stroke-width="0.9"/>
<line x1="480.4" y1="468.7" x2="482.6" y2="468.7" stroke="#222" stroke-width="0.8"/>
<text transform="translate(479.5 470.97)" font-size="6.3" text-anchor="end" fill="#111">40</text>
<line x1="480.4" y1="492.1" x2="482.6" y2="492.1" stroke="#222" stroke-width="0.8"/>
<text transform="translate(479.5 494.37)" font-size="6.3" text-anchor="end" fill="#111">20</text>
<line x1="480.4" y1="515.6" x2="482.6" y2="515.6" stroke="#222" stroke-width="0.8"/>
<text transform="translate(479.5 517.87)" font-size="6.3" text-anchor="end" fill="#111">0</text>
<rect x="486.6" y="479.4" width="9.7" height="35.9" fill="#4fc0ef"/>
<rect x="497.9" y="490.9" width="9.8" height="24.4" fill="#f9c898"/>
<rect x="509" y="507" width="10" height="8.3" fill="#dc6ad2"/>
<rect x="520.4" y="513.6" width="10.1" height="1.7" fill="#ee1f3c"/>
<line x1="491.4" y1="476.4" x2="491.4" y2="482.4" stroke="#111" stroke-width="0.8"/>
<line x1="489.2" y1="476.4" x2="493.6" y2="476.4" stroke="#111" stroke-width="0.8"/>
<circle cx="491.4" cy="474.4" r="1.1" fill="none" stroke="#111" stroke-width="0.7"/>
<circle cx="490.4" cy="481.9" r="1.1" fill="none" stroke="#111" stroke-width="0.7"/>
<circle cx="491.9" cy="483.4" r="1.1" fill="none" stroke="#111" stroke-width="0.7"/>
<line x1="502.8" y1="486.9" x2="502.8" y2="494.9" stroke="#111" stroke-width="0.8"/>
<line x1="500.6" y1="486.9" x2="505" y2="486.9" stroke="#111" stroke-width="0.8"/>
<circle cx="503.3" cy="484.9" r="1.1" fill="none" stroke="#111" stroke-width="0.7"/>
<circle cx="502.3" cy="494.4" r="1.1" fill="none" stroke="#111" stroke-width="0.7"/>
<circle cx="501.8" cy="495.9" r="1.1" fill="none" stroke="#111" stroke-width="0.7"/>
<line x1="514" y1="505.8" x2="514" y2="508.2" stroke="#111" stroke-width="0.8"/>
<line x1="511.8" y1="505.8" x2="516.2" y2="505.8" stroke="#111" stroke-width="0.8"/>
<circle cx="513" cy="505.5" r="1.1" fill="none" stroke="#111" stroke-width="0.7"/>
<circle cx="514.8" cy="507" r="1.1" fill="none" stroke="#111" stroke-width="0.7"/>
<circle cx="515.6" cy="507.5" r="1.1" fill="none" stroke="#111" stroke-width="0.7"/>
<line x1="525.4" y1="512.8" x2="525.4" y2="514.4" stroke="#111" stroke-width="0.8"/>
<line x1="523.2" y1="512.8" x2="527.6" y2="512.8" stroke="#111" stroke-width="0.8"/>
<circle cx="523.9" cy="512.6" r="1.1" fill="none" stroke="#111" stroke-width="0.7"/>
<circle cx="525.9" cy="513.6" r="1.1" fill="none" stroke="#111" stroke-width="0.7"/>
<circle cx="526.9" cy="514.1" r="1.1" fill="none" stroke="#111" stroke-width="0.7"/>
<line x1="491.2" y1="450.2" x2="525.5" y2="450.2" stroke="#111" stroke-width="0.8"/>
<text transform="translate(508.35 453.45)" font-size="14" font-weight="bold" text-anchor="middle">***</text>
<line x1="491.2" y1="457.8" x2="514" y2="457.8" stroke="#111" stroke-width="0.8"/>
<text transform="translate(502.6 461.05)" font-size="14" font-weight="bold" text-anchor="middle">***</text>
<line x1="491.2" y1="465.9" x2="501.7" y2="465.9" stroke="#111" stroke-width="0.8"/>
<text transform="translate(496.45 469.15)" font-size="14" font-weight="bold" text-anchor="middle">*</text>
<line x1="502.7" y1="474.4" x2="525.5" y2="474.4" stroke="#111" stroke-width="0.8"/>
<text transform="translate(514.1 477.65)" font-size="14" font-weight="bold" text-anchor="middle">**</text>
<line x1="502.7" y1="482.4" x2="513.4" y2="482.4" stroke="#111" stroke-width="0.8"/>
<text transform="translate(508.05 485.65)" font-size="14" font-weight="bold" text-anchor="middle">**</text>
<line x1="514.4" y1="488.5" x2="525.5" y2="488.5" stroke="#111" stroke-width="0.8"/>
<text transform="translate(519.9 487.2)" font-size="7.6" font-weight="bold" text-anchor="middle">ns</text>
<text transform="translate(466.5 481.4) rotate(-90)" font-size="8.2" font-weight="bold" text-anchor="middle">Numbers</text></svg>
</body></html>
